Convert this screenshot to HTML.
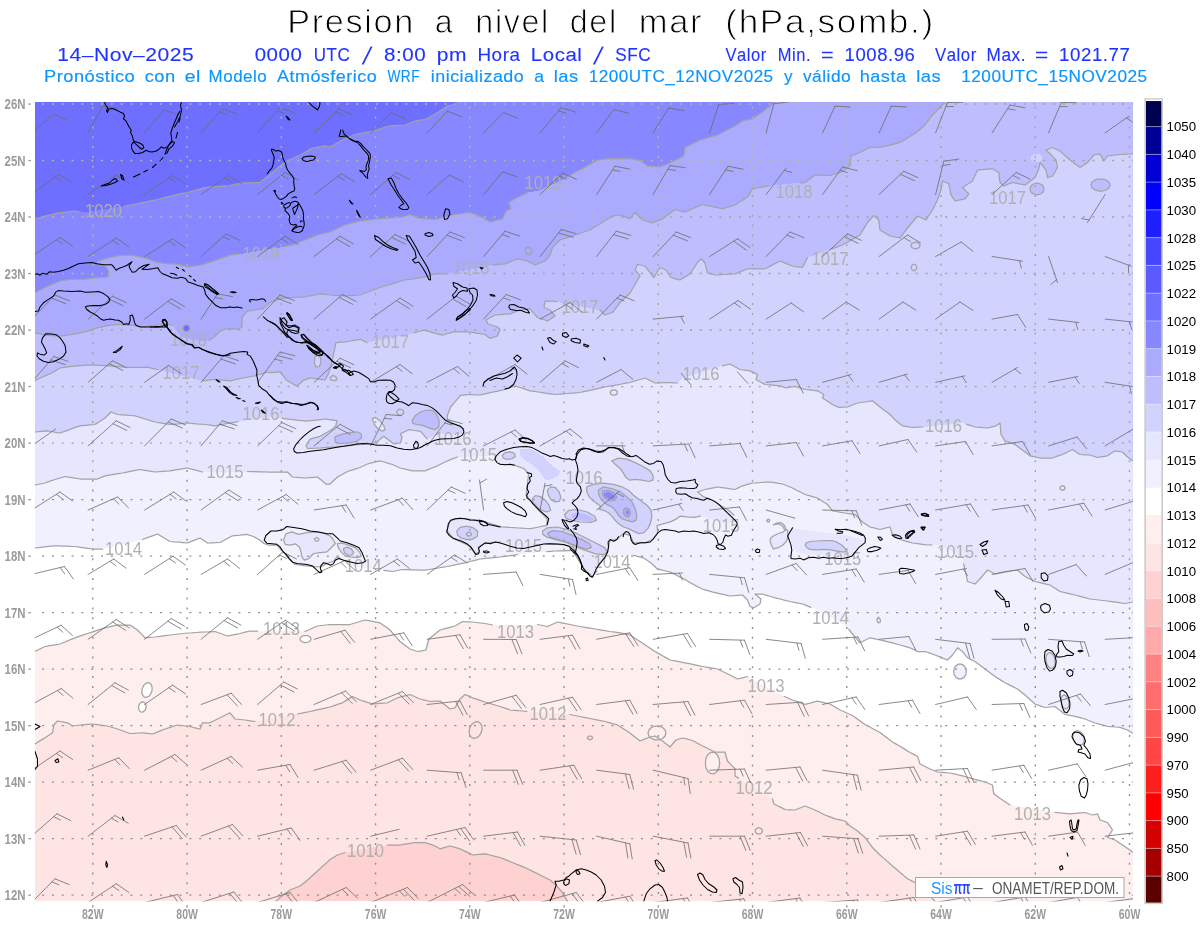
<!DOCTYPE html>
<html lang="es">
<head>
<meta charset="utf-8">
<title>Presion a nivel del mar (hPa,somb.)</title>
<style>
html,body{margin:0;padding:0;background:#fff;}
body{width:1200px;height:927px;overflow:hidden;position:relative;font-family:"Liberation Sans",sans-serif;}
svg text{font-family:"Liberation Sans",sans-serif;}
</style>
</head>
<body>
<svg width="1200" height="927" viewBox="0 0 1200 927" style="position:absolute;left:0;top:0;display:block">
<defs>
<clipPath id="cp"><rect x="34.8" y="102.0" width="1098.0" height="799.4"/></clipPath>
</defs>
<rect x="0" y="0" width="1200" height="927" fill="#fff"/>
<g clip-path="url(#cp)" shape-rendering="crispEdges">
<rect x="34.8" y="102.0" width="1098.0" height="799.4" fill="#6e6eff"/>
<polygon points="34.8,219.2 45.0,216.2 60.0,212.5 75.0,211.2 84.0,212.5 125.0,206.2 155.0,200.0 180.0,193.8 187.5,192.5 205.0,187.5 230.0,185.5 242.5,183.0 260.0,182.5 270.0,174.5 285.0,162.0 300.0,155.0 312.5,148.0 325.0,145.8 330.0,147.0 342.5,140.0 355.0,134.5 372.5,131.0 390.0,126.0 405.0,125.0 415.0,121.0 425.0,119.5 430.0,117.0 440.0,111.0 447.5,106.0 455.0,104.5 460.0,102.0 1132.8,102.0 1132.8,901.4 34.8,901.4" fill="#8787ff"/>
<polygon points="34.8,292.7 46.7,286.9 60.1,281.0 71.8,279.4 85.2,279.4 96.9,277.7 105.3,277.7 108.6,276.0 108.6,271.0 105.3,266.0 98.6,264.3 96.9,261.8 103.6,259.3 117.0,256.0 130.3,255.1 143.7,257.6 155.4,261.8 163.8,263.5 177.2,264.3 188.9,266.8 200.6,265.2 214.0,261.0 230.0,255.1 242.5,253.8 280.0,247.5 292.5,245.0 305.0,240.0 317.5,235.0 330.0,232.0 345.0,225.0 360.0,221.0 380.0,218.8 402.5,217.0 410.0,214.5 417.5,218.0 435.0,219.5 455.0,214.5 470.0,212.5 482.5,217.5 490.0,222.0 502.5,218.8 506.0,211.0 511.0,208.8 509.0,202.5 515.0,198.8 527.5,192.5 537.5,191.0 562.5,180.0 575.0,172.5 587.5,166.0 597.5,160.0 607.5,158.8 630.0,158.8 640.0,160.5 647.5,166.0 660.0,167.0 670.0,163.0 683.8,156.0 685.0,147.5 700.0,140.0 717.5,135.0 735.0,126.0 742.5,121.0 752.5,118.8 760.0,113.8 770.0,106.0 775.0,102.0 1132.8,102.0 1132.8,901.4 34.8,901.4" fill="#aaaaff"/>
<polygon points="34.8,332.9 46.7,335.4 60.1,336.2 71.8,334.5 85.2,332.0 96.9,327.9 108.6,325.4 120.3,324.5 133.7,325.4 143.7,327.0 155.4,325.4 165.5,323.7 172.1,325.4 177.2,331.2 183.0,338.0 200.0,341.0 208.9,340.4 214.0,337.0 219.0,332.0 224.0,329.5 230.0,328.7 237.5,329.5 242.0,327.0 242.0,317.5 247.5,311.0 262.5,308.8 270.0,302.5 280.0,298.8 292.5,297.5 305.0,297.0 320.0,293.8 330.0,295.0 345.0,296.0 360.0,295.0 380.0,287.5 405.0,280.0 422.5,277.5 435.0,273.8 447.5,273.8 492.5,265.0 505.0,263.8 517.5,258.8 527.5,261.0 535.0,265.0 545.0,261.0 550.0,255.0 552.5,247.5 560.0,240.0 572.5,236.0 590.0,230.0 600.0,223.8 612.5,216.0 620.0,215.0 630.0,218.8 635.0,212.5 642.5,220.0 652.5,223.0 662.5,218.8 675.0,209.5 685.0,212.0 702.5,204.5 722.5,208.8 735.0,205.0 747.5,197.0 752.5,188.8 770.0,185.5 805.0,182.5 815.0,175.0 830.0,175.5 840.0,172.5 850.0,166.0 851.0,156.0 860.0,152.5 870.0,147.5 882.5,147.0 900.0,142.5 915.0,133.5 925.0,125.0 932.5,115.0 940.0,107.5 945.0,102.0 1132.8,102.0 1132.8,901.4 34.8,901.4" fill="#bebeff"/>
<polygon points="34.8,380.8 45.0,375.8 51.7,373.0 60.1,368.0 71.8,366.3 85.2,365.2 96.9,365.2 110.3,365.8 123.6,367.2 137.0,367.5 147.1,367.2 157.5,369.5 202.5,380.8 215.0,379.5 230.0,380.8 242.5,378.0 255.0,375.8 267.5,372.0 270.0,372.7 280.0,371.9 286.7,380.3 296.8,386.1 303.4,380.3 310.0,377.8 325.0,380.0 328.5,373.6 331.0,365.0 334.4,350.2 336.0,342.6 345.3,341.8 360.3,339.3 367.0,342.6 408.8,334.3 423.8,330.1 442.2,335.1 454.0,331.8 470.0,332.0 485.0,334.5 490.0,338.3 497.5,335.8 500.0,329.5 497.5,327.0 488.0,324.0 486.0,320.0 495.0,315.0 510.0,313.8 520.0,310.0 530.0,308.8 537.5,317.5 547.5,321.0 555.0,316.0 550.0,310.0 544.0,307.5 545.0,301.0 552.5,301.0 600.0,310.0 605.0,315.0 612.5,312.5 620.0,302.5 630.0,293.0 640.0,276.0 635.0,270.0 637.5,264.5 645.0,266.0 653.8,277.5 660.0,267.5 666.0,270.0 671.0,277.5 680.0,280.0 690.0,273.8 697.5,262.5 701.0,258.8 705.0,263.0 707.5,273.0 715.0,275.0 735.0,273.8 747.5,268.8 765.0,268.8 780.0,261.0 792.5,266.0 802.5,267.5 807.5,257.5 842.5,245.0 860.0,235.0 867.5,222.5 873.8,215.5 878.8,220.0 880.0,230.0 890.0,236.0 900.0,238.0 907.5,228.0 917.5,216.0 926.0,220.0 932.5,210.0 937.5,200.0 941.0,190.0 942.5,181.0 948.8,183.8 951.0,195.0 955.0,201.0 965.0,198.8 968.8,193.8 962.5,187.5 972.5,181.0 977.5,170.0 992.5,168.8 998.8,172.5 1000.0,182.5 1003.8,186.0 1012.5,182.5 1025.0,185.0 1035.0,177.5 1038.8,168.8 1040.0,162.5 1046.0,170.0 1047.5,177.5 1052.5,176.0 1057.5,167.5 1056.0,160.0 1050.0,153.8 1046.0,150.0 1052.5,147.5 1060.0,151.0 1070.0,160.0 1080.0,167.5 1087.5,162.5 1093.8,155.0 1100.0,153.8 1103.8,161.0 1107.5,156.0 1120.0,154.5 1132.8,153.8 1132.8,901.4 34.8,901.4" fill="#d2d2ff"/>
<polygon points="34.8,432.0 47.5,430.8 60.0,433.0 80.0,425.8 95.0,424.5 105.0,418.0 111.0,412.0 117.5,414.5 135.0,415.8 155.0,422.0 170.0,424.5 187.5,423.0 205.0,424.5 215.0,425.8 230.0,423.0 242.5,420.8 270.0,417.0 306.8,421.2 325.2,419.0 336.9,420.7 336.0,425.4 331.9,429.6 320.2,436.3 310.1,439.1 306.0,445.5 307.6,448.5 320.2,448.0 336.9,446.8 353.6,445.2 367.0,443.8 372.0,443.8 377.0,442.0 383.7,436.3 387.0,438.8 393.7,443.8 400.4,443.0 402.1,437.1 400.4,433.8 408.8,429.6 420.5,431.3 427.2,438.8 433.9,436.3 440.0,434.0 462.3,433.8 464.0,428.8 454.0,423.7 447.3,419.6 447.3,415.4 450.6,407.0 460.6,395.3 470.0,394.5 480.0,395.0 505.0,389.5 515.0,385.8 530.0,390.8 555.0,394.5 580.0,392.5 605.0,387.0 630.0,382.5 640.0,379.5 645.0,378.0 655.0,383.0 667.5,382.5 677.5,383.0 682.5,378.0 722.5,365.8 730.0,364.0 740.0,369.5 750.0,370.8 757.5,374.5 756.0,379.5 765.0,384.5 780.0,385.8 786.0,388.0 795.0,386.5 805.0,389.5 817.5,390.8 823.8,394.5 822.5,398.0 832.5,404.5 838.8,407.5 847.5,407.0 857.5,403.0 865.0,402.0 872.5,400.8 880.0,407.0 890.0,414.5 896.0,420.8 902.5,425.8 912.5,427.5 922.5,427.0 962.5,423.0 975.0,427.0 987.5,428.0 996.0,425.8 1000.0,423.0 1001.0,434.5 1005.0,440.8 1015.0,444.5 1025.0,452.0 1030.0,455.8 1040.0,458.0 1052.5,458.0 1062.5,454.5 1072.5,449.5 1080.0,454.5 1090.0,455.0 1097.5,457.5 1107.5,455.8 1115.0,450.8 1122.5,452.0 1127.5,457.0 1132.8,461.0 1132.8,901.4 34.8,901.4" fill="#e6e6ff"/>
<polygon points="34.8,485.0 45.0,483.0 55.0,479.5 65.0,476.5 80.0,479.0 97.5,479.0 105.0,475.8 122.5,473.0 140.0,469.5 155.0,472.0 170.0,470.8 187.5,468.0 202.5,472.0 247.5,471.5 267.5,472.0 287.5,472.0 292.5,477.0 305.0,478.0 317.5,477.0 326.0,484.0 330.0,484.0 337.5,477.0 347.5,471.5 360.0,467.5 367.5,464.0 380.0,460.8 392.5,464.5 400.0,468.0 412.5,470.8 425.0,470.8 437.5,465.8 447.5,460.8 457.5,457.0 496.9,456.0 495.2,460.1 500.2,464.3 513.6,464.8 523.6,468.5 528.7,473.5 527.0,486.9 526.2,495.3 537.0,508.6 547.1,518.7 547.1,525.4 530.3,528.7 501.9,527.0 480.2,520.3 460.1,518.3 450.1,520.3 446.7,530.4 453.4,538.7 468.5,545.4 475.2,553.8 479.3,552.1 478.5,547.1 485.2,542.9 500.2,542.1 523.6,547.1 547.1,543.7 562.1,544.6 573.8,547.1 575.0,553.0 580.0,562.0 585.0,570.0 591.7,575.8 596.0,570.0 602.0,561.0 607.6,552.0 608.5,547.0 610.0,540.5 616.8,539.5 623.5,533.6 630.2,535.3 633.5,542.8 645.3,542.8 652.8,539.5 657.8,532.8 657.0,525.6 663.6,523.6 670.3,521.9 677.0,518.6 680.4,516.1 687.0,516.9 693.7,517.3 700.4,516.1 721.0,522.0 737.0,523.0 734.0,515.0 728.5,510.2 720.0,505.2 712.0,500.0 703.8,496.9 697.5,492.0 705.0,489.5 717.5,487.0 735.0,489.5 742.5,485.8 752.5,483.0 770.0,482.0 782.5,484.0 792.5,488.0 805.0,494.5 817.5,498.0 827.5,504.5 832.5,510.8 845.0,513.0 855.0,514.5 862.5,522.0 870.0,527.0 880.0,529.5 890.0,527.0 892.5,534.5 900.0,539.5 912.5,543.0 927.5,545.0 940.0,544.5 955.0,553.0 962.5,559.0 966.0,574.0 967.5,581.5 975.0,584.0 981.0,577.8 987.5,570.0 995.0,574.0 1005.0,571.5 1017.5,570.0 1025.0,576.5 1035.0,581.5 1050.0,585.0 1060.0,591.5 1075.0,595.0 1090.0,599.0 1107.5,601.0 1125.0,603.5 1132.8,602.0 1132.8,901.4 34.8,901.4" fill="#f0f0ff"/>
<polygon points="34.8,548.0 55.0,545.8 75.0,546.5 92.5,549.0 102.5,549.0 142.5,539.5 157.5,534.0 170.0,541.5 187.5,543.0 200.0,538.0 207.5,543.0 220.0,542.5 232.5,535.8 240.0,535.2 246.7,534.3 253.4,536.5 260.0,540.2 264.0,543.5 268.4,545.2 276.8,545.0 280.0,548.5 284.3,553.0 290.0,560.0 295.2,564.4 303.5,565.6 313.6,566.6 320.3,566.9 327.0,563.6 333.6,561.0 337.0,556.9 340.3,558.6 343.7,561.9 350.0,566.0 383.8,570.3 392.5,571.5 402.5,569.5 425.0,570.2 447.5,566.5 465.0,562.8 480.0,559.0 500.0,557.0 530.0,553.0 555.0,551.0 572.0,550.5 576.0,556.0 581.0,564.0 586.0,571.5 591.7,577.3 597.0,571.0 602.5,562.0 608.5,555.4 625.2,555.4 633.5,555.4 643.6,557.9 652.0,563.7 657.0,568.8 670.3,572.1 683.7,578.8 693.7,584.6 703.8,589.7 720.5,593.8 730.0,596.0 742.5,595.0 747.5,600.0 750.0,606.5 753.8,607.8 760.0,604.0 761.0,599.0 755.0,594.0 762.5,594.0 775.0,597.8 790.0,601.5 802.5,604.0 815.0,609.0 845.0,625.0 852.5,634.0 860.0,642.8 870.0,637.8 880.0,640.0 892.5,642.8 900.0,645.0 910.0,647.8 917.5,651.5 925.0,651.5 935.0,655.0 947.5,660.0 952.5,655.0 957.5,647.8 962.5,651.5 967.5,657.8 975.0,661.5 985.0,669.0 995.0,676.5 1005.0,682.8 1017.5,689.0 1025.0,695.0 1035.0,704.0 1045.0,707.5 1055.0,706.5 1065.0,714.5 1075.0,716.3 1085.0,719.0 1095.0,723.0 1107.5,726.3 1120.0,727.4 1127.5,730.0 1132.8,733.3 1132.8,901.4 34.8,901.4" fill="#ffffff"/>
<polygon points="34.8,651.5 45.0,646.5 60.0,644.0 75.0,637.8 87.5,633.5 105.0,627.8 117.5,625.0 130.0,625.0 137.5,630.0 145.0,637.8 155.0,637.0 170.0,635.0 187.5,633.0 205.0,632.0 215.0,631.5 227.5,636.0 240.0,633.5 250.0,631.0 257.5,631.0 305.0,631.5 317.5,626.0 330.0,624.5 350.0,624.5 365.0,620.0 380.0,622.8 390.0,630.0 400.0,641.5 410.0,649.0 417.5,651.5 426.0,650.0 428.8,639.0 440.0,630.0 455.0,626.0 462.5,621.5 472.5,622.0 485.0,623.5 492.5,625.0 537.5,624.5 547.5,626.5 557.5,622.0 570.0,624.5 580.0,626.5 595.0,629.0 610.0,631.5 620.0,632.8 630.0,635.0 640.0,641.5 655.0,651.5 670.0,660.0 685.0,662.8 702.5,666.5 717.5,669.0 730.0,675.0 737.5,679.0 747.5,676.5 780.0,694.5 792.5,700.0 805.0,704.3 817.5,701.2 830.0,704.0 840.0,710.0 852.5,715.5 865.0,724.5 880.0,732.5 892.5,742.0 900.0,746.3 910.0,752.5 917.5,756.3 920.0,764.0 930.0,769.0 937.5,772.0 950.0,773.0 962.5,775.8 975.0,779.4 985.0,782.0 992.5,785.0 993.8,793.8 1002.5,800.0 1010.0,805.0 1055.0,812.5 1070.0,813.8 1085.0,812.5 1092.5,815.0 1097.5,813.8 1100.0,820.0 1107.5,822.5 1112.5,830.0 1107.5,837.5 1115.0,840.0 1122.5,845.0 1130.0,850.0 1132.8,852.5 1132.8,901.4 34.8,901.4" fill="#ffeeee"/>
<polygon points="34.8,744.0 45.0,737.8 52.5,732.8 53.8,725.0 57.5,721.0 67.5,722.8 72.5,726.0 80.0,725.0 92.5,724.0 107.5,726.0 117.5,729.0 130.0,733.5 142.5,732.8 152.5,734.0 165.0,729.0 177.5,725.0 190.0,726.5 200.0,729.0 202.5,722.8 210.0,722.8 220.0,717.8 230.0,712.8 235.0,719.0 245.0,720.0 255.0,721.5 297.5,714.0 310.0,711.5 330.0,707.0 342.5,702.8 352.5,696.5 360.0,700.0 372.5,704.0 387.5,702.8 397.5,697.8 410.0,694.5 420.0,699.0 430.0,701.5 440.0,701.0 450.0,709.0 455.0,707.8 460.0,699.0 465.0,694.5 472.5,697.8 485.0,702.0 500.0,706.5 510.0,710.0 522.5,711.0 570.0,714.5 580.0,716.5 592.5,719.0 605.0,721.5 617.5,725.0 630.0,733.0 640.0,741.0 648.8,737.5 655.0,736.0 662.5,741.0 670.0,747.0 676.0,740.0 682.5,738.0 692.5,740.5 702.5,746.0 715.0,752.0 725.0,752.0 727.5,761.0 735.0,768.8 735.0,776.0 766.0,795.0 772.5,798.8 773.8,803.8 785.0,809.5 795.0,810.0 805.0,806.0 815.0,810.0 825.0,815.0 835.0,818.8 845.0,821.0 850.0,826.0 857.5,831.0 865.0,837.5 872.5,847.5 880.0,855.0 890.0,863.8 900.0,872.5 907.5,878.8 915.0,882.5 925.0,890.0 935.0,901.4 34.8,901.4" fill="#ffe4e4"/>
<polygon points="276.0,901.4 280.0,897.5 290.0,890.0 300.0,886.0 307.5,880.0 317.5,871.0 330.0,859.5 337.5,855.0 345.0,852.5 387.5,845.0 400.0,845.0 415.0,842.5 425.0,842.5 435.0,846.0 440.0,848.8 450.0,846.0 460.0,848.8 472.5,855.0 485.0,853.8 500.0,857.5 512.5,862.5 527.5,868.8 540.0,875.0 550.0,880.0 556.0,885.0 562.5,892.5 567.5,901.4" fill="#ffd2d2"/>
<polygon points="412.1,420.4 415.5,415.4 420.5,412.0 427.2,410.0 433.0,410.7 437.2,415.4 439.2,421.2 438.9,427.1 434.7,429.6 428.9,427.9 423.0,425.4 417.2,424.6 413.0,423.4" fill="#bebeff"/>
<polygon points="334.9,437.1 340.2,434.6 348.6,432.9 357.0,431.8 361.1,433.8 361.6,438.0 357.0,441.3 348.6,443.0 340.2,443.5 335.2,442.1" fill="#bebeff"/>
<polygon points="372.3,418.7 375.4,417.4 379.5,420.4 383.7,425.4 385.1,429.6 382.0,431.3 377.9,428.8 374.5,424.6" fill="#e6e6ff"/>
<polygon points="314.8,356.9 317.7,355.2 320.5,357.7 321.0,362.7 319.3,366.6 316.0,366.9 314.3,362.7" fill="#d2d2ff"/>
<polygon points="189.8,328.2 189.5,329.7 188.5,330.9 187.2,331.5 185.6,331.5 184.3,330.9 183.3,329.7 183.0,328.2 183.3,326.7 184.3,325.5 185.6,324.9 187.2,324.9 188.5,325.5 189.5,326.7" fill="#6e6eff"/>
<polygon points="520.3,449.3 530.3,448.4 538.7,453.4 547.1,460.1 553.7,466.8 560.4,471.8 557.1,476.9 550.4,479.4 545.4,480.2 542.0,475.2 537.0,468.5 530.3,463.5 523.6,459.3 520.3,455.1" fill="#d2d2ff"/>
<polygon points="502.2,455.5 505.3,452.6 510.3,451.8 514.4,453.4 515.3,456.5 511.9,458.8 506.9,459.3 503.2,458.1" fill="#d2d2ff"/>
<polygon points="547.4,490.2 550.4,486.9 555.4,487.7 559.1,491.9 560.8,496.9 559.6,501.1 555.4,501.9 551.2,499.9 548.4,495.3" fill="#d2d2ff"/>
<polygon points="532.3,498.6 535.4,495.6 540.4,496.6 545.4,500.3 549.1,505.3 550.7,510.3 547.1,512.0 542.0,510.3 537.0,507.0 533.3,502.8" fill="#d2d2ff"/>
<polygon points="456.8,531.2 460.1,527.4 466.8,526.2 473.5,527.9 477.7,531.2 477.2,536.2 472.6,539.1 466.8,539.6 460.9,537.9 457.6,535.1" fill="#d2d2ff"/>
<polygon points="542.4,531.2 547.1,527.9 557.1,527.0 567.1,529.5 577.2,533.7 587.2,538.7 597.2,543.7 604.7,547.9 607.3,552.1 603.9,554.6 595.6,553.8 585.5,550.4 575.5,546.3 565.5,542.1 555.4,539.6 547.1,537.1 542.9,534.5" fill="#d2d2ff"/>
<polygon points="547.4,533.4 552.1,530.7 562.1,531.7 572.1,535.4 582.2,539.6 589.7,543.7 591.4,547.4 587.2,549.1 578.8,547.1 568.8,542.9 558.8,539.6 550.4,537.1" fill="#bebeff"/>
<polygon points="564.6,514.5 568.8,510.3 577.2,509.5 587.2,512.0 594.7,516.2 596.4,520.3 590.5,522.3 580.5,522.0 572.1,520.3 566.3,518.7" fill="#d2d2ff"/>
<polygon points="570.5,515.3 575.5,512.8 583.8,513.6 592.2,517.0 594.7,520.0 588.9,521.2 580.5,520.3 573.8,519.0" fill="#bebeff"/>
<polygon points="611.8,460.9 618.5,458.1 626.9,459.2 635.2,462.6 643.6,466.8 650.3,470.9 653.3,476.0 652.8,480.1 648.6,481.5 641.9,480.1 635.2,479.3 629.4,480.1 626.0,477.6 623.5,473.4 620.2,468.4 615.2,464.2" fill="#d2d2ff"/>
<polygon points="586.7,486.8 593.4,484.3 603.4,483.1 613.5,484.3 621.8,486.8 628.5,490.2 633.5,495.2 640.2,500.2 646.9,505.2 651.1,510.2 651.9,516.9 650.3,523.6 647.8,528.6 643.6,532.8 638.6,533.6 633.5,531.1 628.5,528.6 623.5,527.0 618.5,523.6 615.2,520.3 611.8,516.1 608.5,512.7 603.4,510.2 599.3,509.4 600.9,506.9 598.4,504.4 593.4,501.0 589.2,496.9 586.7,491.8" fill="#d2d2ff"/>
<polygon points="598.4,490.2 603.4,486.8 611.8,488.5 620.2,491.8 626.9,496.9 631.9,501.9 635.2,508.6 636.9,515.3 636.1,520.3 631.9,521.9 626.9,520.3 621.8,518.6 618.5,515.3 615.2,510.2 611.8,506.9 606.8,504.4 601.8,500.2 598.8,495.2" fill="#bebeff"/>
<polygon points="602.6,491.0 608.5,490.2 614.3,492.7 616.8,496.9 615.2,500.2 610.1,501.0 605.1,498.5 602.6,495.2" fill="#aaaaff"/>
<polygon points="623.5,510.2 626.0,507.7 629.4,509.4 630.5,513.6 628.5,516.9 625.5,516.1 623.8,513.6" fill="#aaaaff"/>
<polygon points="603.4,492.7 609.3,492.2 613.8,494.8 615.2,497.7 611.8,499.4 606.8,498.2 603.9,495.5" fill="#8787ff"/>
<polygon points="626.0,511.1 628.2,510.2 629.4,513.2 627.7,515.3 626.0,513.6" fill="#8787ff"/>
<polygon points="791.8,528.5 800.2,529.3 810.2,531.0 820.2,531.8 830.3,533.2 840.3,534.3 850.3,536.0 858.7,538.5 863.7,541.0 862.0,545.2 857.0,550.2 852.0,555.3 843.6,556.9 833.6,556.6 823.6,555.3 813.5,554.4 803.5,553.6 796.8,551.9 792.6,546.9 791.0,540.2 789.3,535.2" fill="#e6e6ff"/>
<polygon points="806.0,543.2 810.2,541.5 816.9,541.0 825.3,540.5 831.9,540.5 837.0,542.2 842.0,545.2 845.3,548.6 847.0,551.1 843.6,552.2 837.0,551.1 830.3,549.9 823.6,549.4 816.9,549.9 810.2,549.4 806.9,547.7 805.2,545.2" fill="#d2d2ff"/>
<polygon points="770.4,538.5 773.4,536.0 778.4,533.5 783.4,531.8 786.0,529.3 784.3,525.2 780.9,522.6 776.8,523.1 773.4,524.8 778.4,523.8 782.6,526.0 784.3,529.3 787.6,530.2 788.1,536.9 786.0,541.9 782.6,545.2 778.4,547.7 773.4,548.9 771.4,545.2 770.1,541.0" fill="#e6e6ff"/>
<polygon points="283.5,540.2 286.0,533.8 291.8,531.8 298.5,534.3 306.9,532.6 315.3,531.8 323.6,533.1 330.3,536.0 333.6,540.2 335.3,543.5 331.1,547.7 327.0,551.9 320.3,552.7 313.6,553.5 308.6,558.6 304.4,560.2 301.9,556.9 301.0,551.9 299.4,546.9 295.2,543.8 290.2,545.2 285.2,544.3" fill="#e6e6ff"/>
<polygon points="337.3,543.5 342.0,543.2 348.7,545.2 355.4,547.7 359.6,551.9 361.2,556.1 357.1,557.7 350.4,556.9 345.4,556.1 341.2,551.9 338.3,547.7" fill="#e6e6ff"/>
<polygon points="343.3,548.5 347.0,547.2 351.2,548.9 353.7,552.2 352.0,554.9 347.9,555.2 344.5,552.7" fill="#d2d2ff"/>
<polygon points="1044.0,189.0 1043.3,191.5 1041.4,193.5 1038.6,194.7 1035.4,194.7 1032.6,193.5 1030.7,191.5 1030.0,189.0 1030.7,186.5 1032.6,184.5 1035.4,183.3 1038.6,183.3 1041.4,184.5 1043.3,186.5" fill="#bebeff"/>
<polygon points="1110.0,185.0 1109.1,187.7 1106.4,189.8 1102.6,191.0 1098.4,191.0 1094.6,189.8 1091.9,187.7 1091.0,185.0 1091.9,182.3 1094.6,180.2 1098.4,179.0 1102.6,179.0 1106.4,180.2 1109.1,182.3" fill="#bebeff"/>
<polygon points="1042.0,158.0 1041.5,160.0 1039.9,161.5 1037.7,162.4 1035.3,162.4 1033.1,161.5 1031.5,160.0 1031.0,158.0 1031.5,156.0 1033.1,154.5 1035.3,153.6 1037.7,153.6 1039.9,154.5 1041.5,156.0" fill="#d2d2ff"/>
<polygon points="151.8,691.3 150.5,694.3 148.5,696.5 146.2,697.4 144.0,696.8 142.5,694.9 141.8,692.0 142.2,688.7 143.5,685.7 145.5,683.5 147.8,682.6 150.0,683.2 151.5,685.1 152.2,688.0" fill="#ffffff"/>
<polygon points="146.0,707.7 145.3,709.8 143.9,711.4 142.3,712.1 140.6,711.8 139.3,710.6 138.5,708.6 138.6,706.3 139.3,704.2 140.7,702.6 142.3,701.9 144.0,702.2 145.3,703.4 146.1,705.4" fill="#ffffff"/>
<polygon points="311.0,639.0 310.5,640.6 308.9,641.8 306.7,642.5 304.3,642.5 302.1,641.8 300.5,640.6 300.0,639.0 300.5,637.4 302.1,636.2 304.3,635.5 306.7,635.5 308.9,636.2 310.5,637.4" fill="#ffffff"/>
<polygon points="966.3,671.5 965.7,674.8 963.9,677.4 961.4,678.9 958.6,678.9 956.1,677.4 954.3,674.8 953.7,671.5 954.3,668.2 956.1,665.6 958.6,664.1 961.4,664.1 963.9,665.6 965.7,668.2" fill="#f0f0ff"/>
<polygon points="719.7,763.0 719.0,767.8 717.0,771.6 714.1,773.7 710.9,773.7 708.0,771.6 706.0,767.8 705.3,763.0 706.0,758.2 708.0,754.4 710.9,752.3 714.1,752.3 717.0,754.4 719.0,758.2" fill="#ffeeee"/>
<polygon points="891.0,632.0 890.5,634.0 889.1,635.5 887.1,636.4 884.9,636.4 882.9,635.5 881.5,634.0 881.0,632.0 881.5,630.0 882.9,628.5 884.9,627.6 887.1,627.6 889.1,628.5 890.5,630.0" fill="#f0f0ff"/>
<polygon points="1054.9,659.7 1055.1,663.2 1054.3,666.2 1052.8,668.0 1050.9,668.4 1048.8,667.1 1047.1,664.6 1046.1,661.3 1045.9,657.8 1046.7,654.8 1048.2,653.0 1050.1,652.6 1052.2,653.9 1053.9,656.4" fill="#e6e6ff"/>
<polygon points="1068.7,701.3 1068.9,704.4 1068.3,707.0 1067.0,708.6 1065.4,708.9 1063.6,707.8 1062.2,705.6 1061.3,702.7 1061.1,699.6 1061.7,697.0 1063.0,695.4 1064.6,695.1 1066.4,696.2 1067.8,698.4" fill="#e6e6ff"/>
<polygon points="1083.7,736.1 1084.3,739.4 1083.7,742.3 1082.2,744.5 1079.9,745.3 1077.3,744.7 1075.0,742.8 1073.3,739.9 1072.7,736.6 1073.3,733.7 1074.8,731.5 1077.1,730.7 1079.7,731.3 1082.0,733.2" fill="#f0f0ff"/>
</g>
<clipPath id="gA"><path d="M34.8 332.9 L46.7 335.4 L60.1 336.2 L71.8 334.5 L85.2 332.0 L96.9 327.9 L108.6 325.4 L120.3 324.5 L133.7 325.4 L143.7 327.0 L155.4 325.4 L165.5 323.7 L172.1 325.4 L177.2 331.2 L183.0 338.0 L200.0 341.0 L208.9 340.4 L214.0 337.0 L219.0 332.0 L224.0 329.5 L230.0 328.7 L237.5 329.5 L242.0 327.0 L242.0 317.5 L247.5 311.0 L262.5 308.8 L270.0 302.5 L280.0 298.8 L292.5 297.5 L305.0 297.0 L320.0 293.8 L330.0 295.0 L345.0 296.0 L360.0 295.0 L380.0 287.5 L405.0 280.0 L422.5 277.5 L435.0 273.8 L447.5 273.8 L492.5 265.0 L505.0 263.8 L517.5 258.8 L527.5 261.0 L535.0 265.0 L545.0 261.0 L550.0 255.0 L552.5 247.5 L560.0 240.0 L572.5 236.0 L590.0 230.0 L600.0 223.8 L612.5 216.0 L620.0 215.0 L630.0 218.8 L635.0 212.5 L642.5 220.0 L652.5 223.0 L662.5 218.8 L675.0 209.5 L685.0 212.0 L702.5 204.5 L722.5 208.8 L735.0 205.0 L747.5 197.0 L752.5 188.8 L770.0 185.5 L805.0 182.5 L815.0 175.0 L830.0 175.5 L840.0 172.5 L850.0 166.0 L851.0 156.0 L860.0 152.5 L870.0 147.5 L882.5 147.0 L900.0 142.5 L915.0 133.5 L925.0 125.0 L932.5 115.0 L940.0 107.5 L945.0 102.0 L34.8 102.0Z"/></clipPath>
<clipPath id="gB"><path d="M34.8 485.0 L45.0 483.0 L55.0 479.5 L65.0 476.5 L80.0 479.0 L97.5 479.0 L105.0 475.8 L122.5 473.0 L140.0 469.5 L155.0 472.0 L170.0 470.8 L187.5 468.0 L202.5 472.0 L247.5 471.5 L267.5 472.0 L287.5 472.0 L292.5 477.0 L305.0 478.0 L317.5 477.0 L326.0 484.0 L330.0 484.0 L337.5 477.0 L347.5 471.5 L360.0 467.5 L367.5 464.0 L380.0 460.8 L392.5 464.5 L400.0 468.0 L412.5 470.8 L425.0 470.8 L437.5 465.8 L447.5 460.8 L457.5 457.0 L496.9 456.0 L495.2 460.1 L500.2 464.3 L513.6 464.8 L523.6 468.5 L528.7 473.5 L527.0 486.9 L526.2 495.3 L537.0 508.6 L547.1 518.7 L547.1 525.4 L530.3 528.7 L501.9 527.0 L480.2 520.3 L460.1 518.3 L450.1 520.3 L446.7 530.4 L453.4 538.7 L468.5 545.4 L475.2 553.8 L479.3 552.1 L478.5 547.1 L485.2 542.9 L500.2 542.1 L523.6 547.1 L547.1 543.7 L562.1 544.6 L573.8 547.1 L575.0 553.0 L580.0 562.0 L585.0 570.0 L591.7 575.8 L596.0 570.0 L602.0 561.0 L607.6 552.0 L608.5 547.0 L610.0 540.5 L616.8 539.5 L623.5 533.6 L630.2 535.3 L633.5 542.8 L645.3 542.8 L652.8 539.5 L657.8 532.8 L657.0 525.6 L663.6 523.6 L670.3 521.9 L677.0 518.6 L680.4 516.1 L687.0 516.9 L693.7 517.3 L700.4 516.1 L721.0 522.0 L737.0 523.0 L734.0 515.0 L728.5 510.2 L720.0 505.2 L712.0 500.0 L703.8 496.9 L697.5 492.0 L705.0 489.5 L717.5 487.0 L735.0 489.5 L742.5 485.8 L752.5 483.0 L770.0 482.0 L782.5 484.0 L792.5 488.0 L805.0 494.5 L817.5 498.0 L827.5 504.5 L832.5 510.8 L845.0 513.0 L855.0 514.5 L862.5 522.0 L870.0 527.0 L880.0 529.5 L890.0 527.0 L892.5 534.5 L900.0 539.5 L912.5 543.0 L927.5 545.0 L940.0 544.5 L955.0 553.0 L962.5 559.0 L966.0 574.0 L967.5 581.5 L975.0 584.0 L981.0 577.8 L987.5 570.0 L995.0 574.0 L1005.0 571.5 L1017.5 570.0 L1025.0 576.5 L1035.0 581.5 L1050.0 585.0 L1060.0 591.5 L1075.0 595.0 L1090.0 599.0 L1107.5 601.0 L1125.0 603.5 L1132.8 602.0 L1132.8 102.0 L34.8 102.0Z M34.8 102.0 L945.0 102.0 L940.0 107.5 L932.5 115.0 L925.0 125.0 L915.0 133.5 L900.0 142.5 L882.5 147.0 L870.0 147.5 L860.0 152.5 L851.0 156.0 L850.0 166.0 L840.0 172.5 L830.0 175.5 L815.0 175.0 L805.0 182.5 L770.0 185.5 L752.5 188.8 L747.5 197.0 L735.0 205.0 L722.5 208.8 L702.5 204.5 L685.0 212.0 L675.0 209.5 L662.5 218.8 L652.5 223.0 L642.5 220.0 L635.0 212.5 L630.0 218.8 L620.0 215.0 L612.5 216.0 L600.0 223.8 L590.0 230.0 L572.5 236.0 L560.0 240.0 L552.5 247.5 L550.0 255.0 L545.0 261.0 L535.0 265.0 L527.5 261.0 L517.5 258.8 L505.0 263.8 L492.5 265.0 L447.5 273.8 L435.0 273.8 L422.5 277.5 L405.0 280.0 L380.0 287.5 L360.0 295.0 L345.0 296.0 L330.0 295.0 L320.0 293.8 L305.0 297.0 L292.5 297.5 L280.0 298.8 L270.0 302.5 L262.5 308.8 L247.5 311.0 L242.0 317.5 L242.0 327.0 L237.5 329.5 L230.0 328.7 L224.0 329.5 L219.0 332.0 L214.0 337.0 L208.9 340.4 L200.0 341.0 L183.0 338.0 L177.2 331.2 L172.1 325.4 L165.5 323.7 L155.4 325.4 L143.7 327.0 L133.7 325.4 L120.3 324.5 L108.6 325.4 L96.9 327.9 L85.2 332.0 L71.8 334.5 L60.1 336.2 L46.7 335.4 L34.8 332.9Z" clip-rule="evenodd"/></clipPath>
<clipPath id="gC"><path d="M34.8 485.0 L45.0 483.0 L55.0 479.5 L65.0 476.5 L80.0 479.0 L97.5 479.0 L105.0 475.8 L122.5 473.0 L140.0 469.5 L155.0 472.0 L170.0 470.8 L187.5 468.0 L202.5 472.0 L247.5 471.5 L267.5 472.0 L287.5 472.0 L292.5 477.0 L305.0 478.0 L317.5 477.0 L326.0 484.0 L330.0 484.0 L337.5 477.0 L347.5 471.5 L360.0 467.5 L367.5 464.0 L380.0 460.8 L392.5 464.5 L400.0 468.0 L412.5 470.8 L425.0 470.8 L437.5 465.8 L447.5 460.8 L457.5 457.0 L496.9 456.0 L495.2 460.1 L500.2 464.3 L513.6 464.8 L523.6 468.5 L528.7 473.5 L527.0 486.9 L526.2 495.3 L537.0 508.6 L547.1 518.7 L547.1 525.4 L530.3 528.7 L501.9 527.0 L480.2 520.3 L460.1 518.3 L450.1 520.3 L446.7 530.4 L453.4 538.7 L468.5 545.4 L475.2 553.8 L479.3 552.1 L478.5 547.1 L485.2 542.9 L500.2 542.1 L523.6 547.1 L547.1 543.7 L562.1 544.6 L573.8 547.1 L575.0 553.0 L580.0 562.0 L585.0 570.0 L591.7 575.8 L596.0 570.0 L602.0 561.0 L607.6 552.0 L608.5 547.0 L610.0 540.5 L616.8 539.5 L623.5 533.6 L630.2 535.3 L633.5 542.8 L645.3 542.8 L652.8 539.5 L657.8 532.8 L657.0 525.6 L663.6 523.6 L670.3 521.9 L677.0 518.6 L680.4 516.1 L687.0 516.9 L693.7 517.3 L700.4 516.1 L721.0 522.0 L737.0 523.0 L734.0 515.0 L728.5 510.2 L720.0 505.2 L712.0 500.0 L703.8 496.9 L697.5 492.0 L705.0 489.5 L717.5 487.0 L735.0 489.5 L742.5 485.8 L752.5 483.0 L770.0 482.0 L782.5 484.0 L792.5 488.0 L805.0 494.5 L817.5 498.0 L827.5 504.5 L832.5 510.8 L845.0 513.0 L855.0 514.5 L862.5 522.0 L870.0 527.0 L880.0 529.5 L890.0 527.0 L892.5 534.5 L900.0 539.5 L912.5 543.0 L927.5 545.0 L940.0 544.5 L955.0 553.0 L962.5 559.0 L966.0 574.0 L967.5 581.5 L975.0 584.0 L981.0 577.8 L987.5 570.0 L995.0 574.0 L1005.0 571.5 L1017.5 570.0 L1025.0 576.5 L1035.0 581.5 L1050.0 585.0 L1060.0 591.5 L1075.0 595.0 L1090.0 599.0 L1107.5 601.0 L1125.0 603.5 L1132.8 602.0 L1132.8 901.4 L34.8 901.4Z"/></clipPath>
<g clip-path="url(#gA)" stroke="#bcb894" stroke-width="1.35" fill="none" stroke-dasharray="2 7.8164"><line x1="32.3" y1="895.1" x2="1132.8" y2="895.1"/><line x1="32.3" y1="838.6" x2="1132.8" y2="838.6"/><line x1="32.3" y1="782.1" x2="1132.8" y2="782.1"/><line x1="32.3" y1="725.6" x2="1132.8" y2="725.6"/><line x1="32.3" y1="669.1" x2="1132.8" y2="669.1"/><line x1="32.3" y1="612.6" x2="1132.8" y2="612.6"/><line x1="32.3" y1="556.1" x2="1132.8" y2="556.1"/><line x1="32.3" y1="499.6" x2="1132.8" y2="499.6"/><line x1="32.3" y1="443.1" x2="1132.8" y2="443.1"/><line x1="32.3" y1="386.6" x2="1132.8" y2="386.6"/><line x1="32.3" y1="330.0" x2="1132.8" y2="330.0"/><line x1="32.3" y1="273.5" x2="1132.8" y2="273.5"/><line x1="32.3" y1="217.0" x2="1132.8" y2="217.0"/><line x1="32.3" y1="160.5" x2="1132.8" y2="160.5"/><line x1="32.3" y1="104.0" x2="1132.8" y2="104.0"/><line x1="92.8" y1="96.95" x2="92.8" y2="901.4"/><line x1="187.1" y1="96.95" x2="187.1" y2="901.4"/><line x1="281.3" y1="96.95" x2="281.3" y2="901.4"/><line x1="375.6" y1="96.95" x2="375.6" y2="901.4"/><line x1="469.8" y1="96.95" x2="469.8" y2="901.4"/><line x1="564.0" y1="96.95" x2="564.0" y2="901.4"/><line x1="658.3" y1="96.95" x2="658.3" y2="901.4"/><line x1="752.5" y1="96.95" x2="752.5" y2="901.4"/><line x1="846.8" y1="96.95" x2="846.8" y2="901.4"/><line x1="941.0" y1="96.95" x2="941.0" y2="901.4"/><line x1="1035.3" y1="96.95" x2="1035.3" y2="901.4"/><line x1="1129.5" y1="96.95" x2="1129.5" y2="901.4"/></g>
<g clip-path="url(#gB)" stroke="#a3a396" stroke-width="1.35" fill="none" stroke-dasharray="2 7.8164"><line x1="32.3" y1="895.1" x2="1132.8" y2="895.1"/><line x1="32.3" y1="838.6" x2="1132.8" y2="838.6"/><line x1="32.3" y1="782.1" x2="1132.8" y2="782.1"/><line x1="32.3" y1="725.6" x2="1132.8" y2="725.6"/><line x1="32.3" y1="669.1" x2="1132.8" y2="669.1"/><line x1="32.3" y1="612.6" x2="1132.8" y2="612.6"/><line x1="32.3" y1="556.1" x2="1132.8" y2="556.1"/><line x1="32.3" y1="499.6" x2="1132.8" y2="499.6"/><line x1="32.3" y1="443.1" x2="1132.8" y2="443.1"/><line x1="32.3" y1="386.6" x2="1132.8" y2="386.6"/><line x1="32.3" y1="330.0" x2="1132.8" y2="330.0"/><line x1="32.3" y1="273.5" x2="1132.8" y2="273.5"/><line x1="32.3" y1="217.0" x2="1132.8" y2="217.0"/><line x1="32.3" y1="160.5" x2="1132.8" y2="160.5"/><line x1="32.3" y1="104.0" x2="1132.8" y2="104.0"/><line x1="92.8" y1="96.95" x2="92.8" y2="901.4"/><line x1="187.1" y1="96.95" x2="187.1" y2="901.4"/><line x1="281.3" y1="96.95" x2="281.3" y2="901.4"/><line x1="375.6" y1="96.95" x2="375.6" y2="901.4"/><line x1="469.8" y1="96.95" x2="469.8" y2="901.4"/><line x1="564.0" y1="96.95" x2="564.0" y2="901.4"/><line x1="658.3" y1="96.95" x2="658.3" y2="901.4"/><line x1="752.5" y1="96.95" x2="752.5" y2="901.4"/><line x1="846.8" y1="96.95" x2="846.8" y2="901.4"/><line x1="941.0" y1="96.95" x2="941.0" y2="901.4"/><line x1="1035.3" y1="96.95" x2="1035.3" y2="901.4"/><line x1="1129.5" y1="96.95" x2="1129.5" y2="901.4"/></g>
<g clip-path="url(#gC)" stroke="#8e8e8e" stroke-width="1.35" fill="none" stroke-dasharray="2 7.8164"><line x1="32.3" y1="895.1" x2="1132.8" y2="895.1"/><line x1="32.3" y1="838.6" x2="1132.8" y2="838.6"/><line x1="32.3" y1="782.1" x2="1132.8" y2="782.1"/><line x1="32.3" y1="725.6" x2="1132.8" y2="725.6"/><line x1="32.3" y1="669.1" x2="1132.8" y2="669.1"/><line x1="32.3" y1="612.6" x2="1132.8" y2="612.6"/><line x1="32.3" y1="556.1" x2="1132.8" y2="556.1"/><line x1="32.3" y1="499.6" x2="1132.8" y2="499.6"/><line x1="32.3" y1="443.1" x2="1132.8" y2="443.1"/><line x1="32.3" y1="386.6" x2="1132.8" y2="386.6"/><line x1="32.3" y1="330.0" x2="1132.8" y2="330.0"/><line x1="32.3" y1="273.5" x2="1132.8" y2="273.5"/><line x1="32.3" y1="217.0" x2="1132.8" y2="217.0"/><line x1="32.3" y1="160.5" x2="1132.8" y2="160.5"/><line x1="32.3" y1="104.0" x2="1132.8" y2="104.0"/><line x1="92.8" y1="96.95" x2="92.8" y2="901.4"/><line x1="187.1" y1="96.95" x2="187.1" y2="901.4"/><line x1="281.3" y1="96.95" x2="281.3" y2="901.4"/><line x1="375.6" y1="96.95" x2="375.6" y2="901.4"/><line x1="469.8" y1="96.95" x2="469.8" y2="901.4"/><line x1="564.0" y1="96.95" x2="564.0" y2="901.4"/><line x1="658.3" y1="96.95" x2="658.3" y2="901.4"/><line x1="752.5" y1="96.95" x2="752.5" y2="901.4"/><line x1="846.8" y1="96.95" x2="846.8" y2="901.4"/><line x1="941.0" y1="96.95" x2="941.0" y2="901.4"/><line x1="1035.3" y1="96.95" x2="1035.3" y2="901.4"/><line x1="1129.5" y1="96.95" x2="1129.5" y2="901.4"/></g>
<g clip-path="url(#cp)" stroke="#a3a3a3" stroke-width="1.25" fill="none" stroke-linejoin="round" stroke-linecap="round">
<path d="M34.8 219.2 L39.9 217.7 L45.0 216.2 L50.0 215.0 L55.0 213.7 L60.0 212.5 L65.0 212.1 L70.0 211.6 L75.0 211.2 L79.5 211.8"/>
<path d="M125.0 206.2 L129.3 205.3 L133.6 204.4 L137.9 203.5 L142.1 202.7 L146.4 201.8 L150.7 200.9 L155.0 200.0 L159.2 199.0 L163.3 197.9 L167.5 196.9 L171.7 195.9 L175.8 194.8 L180.0 193.8 L187.5 192.5 L191.9 191.2 L196.2 190.0 L200.6 188.8 L205.0 187.5 L209.2 187.2 L213.3 186.8 L217.5 186.5 L221.7 186.2 L225.8 185.8 L230.0 185.5 L234.2 184.7 L238.3 183.8 L242.5 183.0 L246.9 182.9 L251.2 182.8 L255.6 182.6 L260.0 182.5 L263.3 179.8 L266.7 177.2 L270.0 174.5 L273.8 171.4 L277.5 168.2 L281.2 165.1 L285.0 162.0 L288.8 160.2 L292.5 158.5 L296.2 156.8 L300.0 155.0 L304.2 152.7 L308.3 150.3 L312.5 148.0 L316.7 147.3 L320.8 146.5 L325.0 145.8 L330.0 147.0 L334.2 144.7 L338.3 142.3 L342.5 140.0 L346.7 138.2 L350.8 136.3 L355.0 134.5 L359.4 133.6 L363.8 132.8 L368.1 131.9 L372.5 131.0 L376.9 129.8 L381.2 128.5 L385.6 127.2 L390.0 126.0 L395.0 125.7 L400.0 125.3 L405.0 125.0 L410.0 123.0 L415.0 121.0 L420.0 120.2 L425.0 119.5 L430.0 117.0 L435.0 114.0 L440.0 111.0 L443.8 108.5 L447.5 106.0 L455.0 104.5 L460.0 102.0"/>
<path d="M34.8 292.7 L38.8 290.8 L42.7 288.8 L46.7 286.9 L51.2 284.9 L55.6 283.0 L60.1 281.0 L66.0 280.2 L71.8 279.4 L76.3 279.4 L80.7 279.4 L85.2 279.4 L91.1 278.5 L96.9 277.7 L101.1 277.7 L105.3 277.7 L108.6 276.0 L108.6 271.0 L105.3 266.0 L98.6 264.3 L96.9 261.8 L103.6 259.3 L108.1 258.2 L112.5 257.1 L117.0 256.0 L121.4 255.7 L125.9 255.4 L130.3 255.1 L134.8 255.9 L139.2 256.8 L143.7 257.6 L147.6 259.0 L151.5 260.4 L155.4 261.8 L159.6 262.6 L163.8 263.5 L168.3 263.8 L172.7 264.0 L177.2 264.3 L183.1 265.6 L188.9 266.8 L194.8 266.0 L200.6 265.2 L205.1 263.8 L209.5 262.4 L214.0 261.0 L218.0 259.5 L222.0 258.1 L226.0 256.6 L230.0 255.1 L234.2 254.7 L238.3 254.2"/>
<path d="M284.2 246.7 L288.3 245.8 L292.5 245.0 L296.7 243.3 L300.8 241.7 L305.0 240.0 L309.2 238.3 L313.3 236.7 L317.5 235.0 L321.7 234.0 L325.8 233.0 L330.0 232.0 L333.8 230.2 L337.5 228.5 L341.2 226.8 L345.0 225.0 L350.0 223.7 L355.0 222.3 L360.0 221.0 L364.0 220.6 L368.0 220.1 L372.0 219.7 L376.0 219.2 L380.0 218.8 L384.5 218.4 L389.0 218.1 L393.5 217.7 L398.0 217.4 L402.5 217.0 L410.0 214.5 L413.8 216.2 L417.5 218.0 L421.9 218.4 L426.2 218.8 L430.6 219.1 L435.0 219.5 L439.0 218.5 L443.0 217.5 L447.0 216.5 L451.0 215.5 L455.0 214.5 L460.0 213.8 L465.0 213.2 L470.0 212.5 L474.2 214.2 L478.3 215.8 L482.5 217.5 L486.2 219.8 L490.0 222.0 L494.2 220.9 L498.3 219.9 L502.5 218.8 L504.2 214.9 L506.0 211.0 L511.0 208.8 L509.0 202.5 L515.0 198.8 L519.2 196.7 L523.3 194.6 L527.5 192.5"/>
<path d="M566.7 177.5 L570.8 175.0 L575.0 172.5 L579.2 170.3 L583.3 168.2 L587.5 166.0 L592.5 163.0 L597.5 160.0 L602.5 159.4 L607.5 158.8 L612.0 158.8 L616.5 158.8 L621.0 158.8 L625.5 158.8 L630.0 158.8 L635.0 159.7 L640.0 160.5 L643.8 163.2 L647.5 166.0 L651.7 166.3 L655.8 166.7 L660.0 167.0 L665.0 165.0 L670.0 163.0 L674.6 160.7 L679.2 158.3 L683.8 156.0 L684.4 151.8 L685.0 147.5 L688.8 145.6 L692.5 143.8 L696.2 141.9 L700.0 140.0 L704.4 138.8 L708.8 137.5 L713.1 136.2 L717.5 135.0 L721.9 132.8 L726.2 130.5 L730.6 128.2 L735.0 126.0 L738.8 123.5 L742.5 121.0 L747.5 119.9 L752.5 118.8 L756.2 116.3 L760.0 113.8 L763.3 111.2 L766.7 108.6 L770.0 106.0 L775.0 102.0"/>
<path d="M34.8 332.9 L38.8 333.7 L42.7 334.6 L46.7 335.4 L51.2 335.7 L55.6 335.9 L60.1 336.2 L66.0 335.4 L71.8 334.5 L76.3 333.7 L80.7 332.8 L85.2 332.0 L89.1 330.6 L93.0 329.3 L96.9 327.9 L102.8 326.6 L108.6 325.4 L114.4 324.9 L120.3 324.5 L124.8 324.8 L129.2 325.1 L133.7 325.4 L138.7 326.2 L143.7 327.0 L149.6 326.2 L155.4 325.4 L160.4 324.5 L165.5 323.7 L172.1 325.4"/>
<path d="M208.9 340.4 L214.0 337.0 L219.0 332.0 L224.0 329.5 L230.0 328.7 L237.5 329.5 L242.0 327.0 L242.0 322.2 L242.0 317.5 L244.8 314.2 L247.5 311.0 L252.5 310.3 L257.5 309.5 L262.5 308.8 L266.2 305.6 L270.0 302.5 L275.0 300.6 L280.0 298.8 L284.2 298.4 L288.3 297.9 L292.5 297.5 L296.7 297.3 L300.8 297.2 L305.0 297.0 L310.0 295.9 L315.0 294.9 L320.0 293.8 L325.0 294.4 L330.0 295.0 L335.0 295.3 L340.0 295.7 L345.0 296.0 L350.0 295.7 L355.0 295.3 L360.0 295.0 L364.0 293.5 L368.0 292.0 L372.0 290.5 L376.0 289.0 L380.0 287.5 L384.2 286.2 L388.3 285.0 L392.5 283.8 L396.7 282.5 L400.8 281.2 L405.0 280.0 L409.4 279.4 L413.8 278.8 L418.1 278.1 L422.5 277.5 L426.7 276.3 L430.8 275.0 L435.0 273.8 L439.2 273.8 L443.3 273.8 L447.5 273.8"/>
<path d="M492.5 265.0 L496.7 264.6 L500.8 264.2 L505.0 263.8 L509.2 262.1 L513.3 260.5 L517.5 258.8 L522.5 259.9 L527.5 261.0 L531.2 263.0 L535.0 265.0 L540.0 263.0 L545.0 261.0 L550.0 255.0 L552.5 247.5 L556.2 243.8 L560.0 240.0 L564.2 238.7 L568.3 237.3 L572.5 236.0 L576.9 234.5 L581.2 233.0 L585.6 231.5 L590.0 230.0 L595.0 226.9 L600.0 223.8 L604.2 221.2 L608.3 218.6 L612.5 216.0 L620.0 215.0 L625.0 216.9 L630.0 218.8 L632.5 215.7 L635.0 212.5 L638.8 216.2 L642.5 220.0 L647.5 221.5 L652.5 223.0 L657.5 220.9 L662.5 218.8 L666.7 215.7 L670.8 212.6 L675.0 209.5 L680.0 210.8 L685.0 212.0 L689.4 210.1 L693.8 208.2 L698.1 206.4 L702.5 204.5 L706.5 205.4 L710.5 206.2 L714.5 207.1 L718.5 207.9 L722.5 208.8 L726.7 207.5 L730.8 206.3 L735.0 205.0 L739.2 202.3 L743.3 199.7 L747.5 197.0 L750.0 192.9 L752.5 188.8 L756.9 188.0 L761.2 187.2 L765.6 186.3 L770.0 185.5"/>
<path d="M800.6 182.9 L805.0 182.5 L808.3 180.0 L811.7 177.5 L815.0 175.0 L820.0 175.2 L825.0 175.3 L830.0 175.5 L835.0 174.0 L840.0 172.5 L845.0 169.2 L850.0 166.0 L850.5 161.0 L851.0 156.0 L855.5 154.2 L860.0 152.5 L865.0 150.0 L870.0 147.5 L874.2 147.3 L878.3 147.2 L882.5 147.0 L886.9 145.9 L891.2 144.8 L895.6 143.6 L900.0 142.5 L903.8 140.2 L907.5 138.0 L911.2 135.8 L915.0 133.5 L918.3 130.7 L921.7 127.8 L925.0 125.0 L927.5 121.7 L930.0 118.3 L932.5 115.0 L936.2 111.2 L940.0 107.5 L945.0 102.0"/>
<path d="M34.8 380.8 L39.9 378.3 L45.0 375.8 L51.7 373.0 L55.9 370.5 L60.1 368.0 L66.0 367.1 L71.8 366.3 L76.3 365.9 L80.7 365.6 L85.2 365.2 L91.1 365.2 L96.9 365.2 L101.4 365.4 L105.8 365.6 L110.3 365.8 L114.7 366.3 L119.2 366.7 L123.6 367.2 L128.1 367.3 L132.5 367.4 L137.0 367.5 L142.1 367.4 L147.1 367.2 L152.3 368.4 L157.5 369.5"/>
<path d="M202.5 380.8 L206.7 380.4 L210.8 379.9 L215.0 379.5 L220.0 379.9 L225.0 380.4 L230.0 380.8 L234.2 379.9 L238.3 378.9 L242.5 378.0 L246.7 377.3 L250.8 376.5 L255.0 375.8 L259.2 374.5 L263.3 373.3 L267.5 372.0 L270.0 372.7 L275.0 372.3 L280.0 371.9 L283.4 376.1 L286.7 380.3 L291.8 383.2 L296.8 386.1 L300.1 383.2 L303.4 380.3 L310.0 377.8 L315.0 378.5 L320.0 379.3 L325.0 380.0 L328.5 373.6 L329.8 369.3 L331.0 365.0 L332.1 360.1 L333.3 355.1 L334.4 350.2 L336.0 342.6 L340.6 342.2 L345.3 341.8 L350.3 341.0 L355.3 340.1 L360.3 339.3 L367.0 342.6"/>
<path d="M413.8 332.9 L418.8 331.5 L423.8 330.1 L428.4 331.4 L433.0 332.6 L437.6 333.9 L442.2 335.1 L446.1 334.0 L450.1 332.9 L454.0 331.8 L458.0 331.9 L462.0 331.9 L466.0 331.9 L470.0 332.0 L475.0 332.8 L480.0 333.7 L485.0 334.5 L490.0 338.3 L497.5 335.8 L500.0 329.5 L497.5 327.0 L492.8 325.5 L488.0 324.0 L486.0 320.0 L490.5 317.5 L495.0 315.0 L500.0 314.6 L505.0 314.2 L510.0 313.8 L515.0 311.9 L520.0 310.0 L525.0 309.4 L530.0 308.8 L533.8 313.1 L537.5 317.5 L542.5 319.2 L547.5 321.0 L551.2 318.5 L555.0 316.0 L550.0 310.0 L544.0 307.5 L545.0 301.0 L552.5 301.0 L556.5 301.8"/>
<path d="M600.0 310.0 L605.0 315.0 L612.5 312.5 L615.0 309.2 L617.5 305.8 L620.0 302.5 L623.3 299.3 L626.7 296.2 L630.0 293.0 L632.5 288.8 L635.0 284.5 L637.5 280.2 L640.0 276.0 L635.0 270.0 L637.5 264.5 L645.0 266.0 L647.9 269.8 L650.9 273.7 L653.8 277.5 L656.9 272.5 L660.0 267.5 L666.0 270.0 L668.5 273.8 L671.0 277.5 L675.5 278.8 L680.0 280.0 L685.0 276.9 L690.0 273.8 L692.5 270.0 L695.0 266.3 L697.5 262.5 L701.0 258.8 L705.0 263.0 L706.2 268.0 L707.5 273.0 L715.0 275.0 L719.0 274.8 L723.0 274.5 L727.0 274.3 L731.0 274.0 L735.0 273.8 L739.2 272.1 L743.3 270.5 L747.5 268.8 L751.9 268.8 L756.2 268.8 L760.6 268.8 L765.0 268.8 L768.8 266.9 L772.5 264.9 L776.2 262.9 L780.0 261.0 L784.2 262.7 L788.3 264.3 L792.5 266.0 L797.5 266.8 L802.5 267.5 L805.0 262.5 L807.5 257.5"/>
<path d="M830.8 249.2 L834.7 247.8 L838.6 246.4 L842.5 245.0 L846.0 243.0 L849.5 241.0 L853.0 239.0 L856.5 237.0 L860.0 235.0 L862.5 230.8 L865.0 226.7 L867.5 222.5 L870.6 219.0 L873.8 215.5 L878.8 220.0 L879.4 225.0 L880.0 230.0 L885.0 233.0 L890.0 236.0 L895.0 237.0 L900.0 238.0 L902.5 234.7 L905.0 231.3 L907.5 228.0 L910.8 224.0 L914.2 220.0 L917.5 216.0 L921.8 218.0 L926.0 220.0 L929.2 215.0 L932.5 210.0 L935.0 205.0 L937.5 200.0 L939.2 195.0 L941.0 190.0 L941.8 185.5 L942.5 181.0 L948.8 183.8 L949.9 189.4 L951.0 195.0 L955.0 201.0 L960.0 199.9 L965.0 198.8 L968.8 193.8 L965.6 190.7 L962.5 187.5 L967.5 184.2 L972.5 181.0 L974.2 177.3 L975.8 173.7 L977.5 170.0 L982.5 169.6 L987.5 169.2 L992.5 168.8 L998.8 172.5 L999.4 177.5 L1000.0 182.5 L1003.8 186.0 L1008.1 184.2 L1012.5 182.5 L1016.7 183.3 L1020.8 184.2 L1025.0 185.0 L1028.3 182.5 L1031.7 180.0 L1035.0 177.5 L1036.9 173.2 L1038.8 168.8 L1040.0 162.5 L1043.0 166.2 L1046.0 170.0 L1047.5 177.5 L1052.5 176.0 L1055.0 171.8 L1057.5 167.5 L1056.0 160.0 L1053.0 156.9 L1050.0 153.8 L1046.0 150.0 L1052.5 147.5 L1056.2 149.2 L1060.0 151.0 L1063.3 154.0 L1066.7 157.0 L1070.0 160.0 L1073.3 162.5 L1076.7 165.0 L1080.0 167.5 L1083.8 165.0 L1087.5 162.5 L1090.7 158.8 L1093.8 155.0 L1100.0 153.8 L1101.9 157.4 L1103.8 161.0 L1107.5 156.0 L1111.7 155.5 L1115.8 155.0 L1120.0 154.5 L1124.3 154.3 L1128.5 154.0 L1132.8 153.8"/>
<path d="M34.8 432.0 L39.0 431.6 L43.3 431.2 L47.5 430.8 L51.7 431.5 L55.8 432.3 L60.0 433.0 L64.0 431.6 L68.0 430.1 L72.0 428.7 L76.0 427.2 L80.0 425.8 L85.0 425.4 L90.0 424.9 L95.0 424.5 L100.0 421.2 L105.0 418.0 L108.0 415.0 L111.0 412.0 L117.5 414.5 L121.9 414.8 L126.2 415.1 L130.6 415.5 L135.0 415.8 L139.0 417.0 L143.0 418.3 L147.0 419.5 L151.0 420.8 L155.0 422.0 L160.0 422.8 L165.0 423.7 L170.0 424.5 L174.4 424.1 L178.8 423.8 L183.1 423.4 L187.5 423.0 L191.9 423.4 L196.2 423.8 L200.6 424.1 L205.0 424.5 L210.0 425.1 L215.0 425.8 L220.0 424.9 L225.0 423.9 L230.0 423.0 L234.2 422.3 L238.3 421.5"/>
<path d="M282.3 418.4 L286.4 418.9 L290.4 419.3 L294.5 419.8 L298.6 420.3 L302.7 420.7 L306.8 421.2 L311.4 420.6 L316.0 420.1 L320.6 419.6 L325.2 419.0 L331.0 419.9 L336.9 420.7 L336.0 425.4 L331.9 429.6 L328.0 431.8 L324.1 434.1 L320.2 436.3 L315.1 437.7 L310.1 439.1 L306.0 445.5 L307.6 448.5 L311.8 448.3 L316.0 448.2 L320.2 448.0 L324.4 447.7 L328.5 447.4 L332.7 447.1 L336.9 446.8 L341.1 446.4 L345.2 446.0 L349.4 445.6 L353.6 445.2 L358.1 444.7 L362.5 444.3 L367.0 443.8 L372.0 443.8 L377.0 442.0 L380.4 439.1 L383.7 436.3 L387.0 438.8 L390.4 441.3 L393.7 443.8 L400.4 443.0 L402.1 437.1 L400.4 433.8 L404.6 431.7 L408.8 429.6 L414.6 430.5 L420.5 431.3 L423.9 435.1 L427.2 438.8"/>
<path d="M464.0 428.8 L459.0 426.2 L454.0 423.7 L447.3 419.6 L447.3 415.4 L449.0 411.2 L450.6 407.0 L453.9 403.1 L457.3 399.2 L460.6 395.3 L465.3 394.9 L470.0 394.5 L475.0 394.8 L480.0 395.0 L484.2 394.1 L488.3 393.2 L492.5 392.2 L496.7 391.3 L500.8 390.4 L505.0 389.5 L510.0 387.6 L515.0 385.8 L520.0 387.5 L525.0 389.1 L530.0 390.8 L534.2 391.4 L538.3 392.0 L542.5 392.6 L546.7 393.3 L550.8 393.9 L555.0 394.5 L559.2 394.2 L563.3 393.8 L567.5 393.5 L571.7 393.2 L575.8 392.8 L580.0 392.5 L584.2 391.6 L588.3 390.7 L592.5 389.8 L596.7 388.8 L600.8 387.9 L605.0 387.0 L609.2 386.2 L613.3 385.5 L617.5 384.8 L621.7 384.0 L625.8 383.2 L630.0 382.5 L635.0 381.0 L640.0 379.5 L645.0 378.0 L650.0 380.5 L655.0 383.0 L659.2 382.8 L663.3 382.7 L667.5 382.5 L672.5 382.8 L677.5 383.0"/>
<path d="M722.5 365.8 L730.0 364.0 L735.0 366.8 L740.0 369.5 L745.0 370.1 L750.0 370.8 L753.8 372.6 L757.5 374.5 L756.0 379.5 L760.5 382.0 L765.0 384.5 L770.0 384.9 L775.0 385.4 L780.0 385.8 L786.0 388.0 L790.5 387.2 L795.0 386.5 L800.0 388.0 L805.0 389.5 L809.2 389.9 L813.3 390.4 L817.5 390.8 L823.8 394.5 L822.5 398.0 L827.5 401.2 L832.5 404.5 L838.8 407.5 L843.1 407.2 L847.5 407.0 L852.5 405.0 L857.5 403.0 L865.0 402.0 L872.5 400.8 L876.2 403.9 L880.0 407.0 L883.3 409.5 L886.7 412.0 L890.0 414.5 L893.0 417.6 L896.0 420.8 L899.2 423.3 L902.5 425.8 L907.5 426.6 L912.5 427.5 L917.5 427.2 L922.5 427.0"/>
<path d="M966.7 424.3 L970.8 425.7 L975.0 427.0 L979.2 427.3 L983.3 427.7 L987.5 428.0 L991.8 426.9 L996.0 425.8 L1000.0 423.0 L1000.5 428.8 L1001.0 434.5 L1005.0 440.8 L1010.0 442.6 L1015.0 444.5 L1018.3 447.0 L1021.7 449.5 L1025.0 452.0 L1030.0 455.8 L1035.0 456.9 L1040.0 458.0 L1044.2 458.0 L1048.3 458.0 L1052.5 458.0 L1057.5 456.2 L1062.5 454.5 L1067.5 452.0 L1072.5 449.5 L1076.2 452.0 L1080.0 454.5 L1085.0 454.8 L1090.0 455.0 L1097.5 457.5 L1102.5 456.6 L1107.5 455.8 L1111.2 453.3 L1115.0 450.8 L1122.5 452.0 L1127.5 457.0 L1132.8 461.0"/>
<path d="M34.8 485.0 L39.9 484.0 L45.0 483.0 L50.0 481.2 L55.0 479.5 L60.0 478.0 L65.0 476.5 L70.0 477.3 L75.0 478.2 L80.0 479.0 L84.4 479.0 L88.8 479.0 L93.1 479.0 L97.5 479.0 L101.2 477.4 L105.0 475.8 L109.4 475.1 L113.8 474.4 L118.1 473.7 L122.5 473.0 L126.9 472.1 L131.2 471.2 L135.6 470.4 L140.0 469.5 L145.0 470.3 L150.0 471.2 L155.0 472.0 L160.0 471.6 L165.0 471.2 L170.0 470.8 L174.4 470.1 L178.8 469.4 L183.1 468.7 L187.5 468.0 L192.5 469.3 L197.5 470.7 L202.5 472.0"/>
<path d="M247.5 471.5 L251.5 471.6 L255.5 471.7 L259.5 471.8 L263.5 471.9 L267.5 472.0 L271.5 472.0 L275.5 472.0 L279.5 472.0 L283.5 472.0 L287.5 472.0 L292.5 477.0 L296.7 477.3 L300.8 477.7 L305.0 478.0 L309.2 477.7 L313.3 477.3 L317.5 477.0 L321.8 480.5 L326.0 484.0 L330.0 484.0 L333.8 480.5 L337.5 477.0 L342.5 474.2 L347.5 471.5 L351.7 470.2 L355.8 468.8 L360.0 467.5 L363.8 465.8 L367.5 464.0 L371.7 462.9 L375.8 461.9 L380.0 460.8 L384.2 462.0 L388.3 463.3 L392.5 464.5 L396.2 466.2 L400.0 468.0 L404.2 468.9 L408.3 469.9 L412.5 470.8 L416.7 470.8 L420.8 470.8 L425.0 470.8 L429.2 469.1 L433.3 467.5 L437.5 465.8 L442.5 463.3 L447.5 460.8 L452.5 458.9 L457.5 457.0"/>
<path d="M500.2 464.3 L504.7 464.5 L509.1 464.6 L513.6 464.8 L518.6 466.6 L523.6 468.5 L528.7 473.5 L528.1 478.0 L527.6 482.4 L527.0 486.9 L526.6 491.1 L526.2 495.3 L528.9 498.6 L531.6 502.0 L534.3 505.3 L537.0 508.6 L540.4 512.0 L543.7 515.3 L547.1 518.7 L547.1 525.4 L542.9 526.2 L538.7 527.0 L534.5 527.9 L530.3 528.7 L526.2 528.5 L522.2 528.2 L518.1 528.0 L514.1 527.7 L510.0 527.5 L506.0 527.2 L501.9 527.0 L497.6 525.7 L493.2 524.3 L488.9 523.0 L484.5 521.6 L480.2 520.3 L476.2 519.9 L472.2 519.5 L468.1 519.1 L464.1 518.7 L460.1 518.3 L455.1 519.3 L450.1 520.3 L448.4 525.3 L446.7 530.4 L450.0 534.5 L453.4 538.7 L457.2 540.4 L460.9 542.0 L464.7 543.7 L468.5 545.4 L471.9 549.6 L475.2 553.8 L479.3 552.1 L478.5 547.1 L485.2 542.9 L490.2 542.6 L495.2 542.4 L500.2 542.1"/>
<path d="M547.1 543.7 L552.1 544.0 L557.1 544.3 L562.1 544.6 L568.0 545.9 L573.8 547.1 L575.0 553.0 L577.5 557.5 L580.0 562.0 L582.5 566.0 L585.0 570.0 L588.4 572.9 L591.7 575.8"/>
<path d="M607.6 552.0 L608.5 547.0 L610.0 540.5 L616.8 539.5 L620.1 536.5 L623.5 533.6 L630.2 535.3 L631.9 539.0 L633.5 542.8 L639.4 542.8 L645.3 542.8 L649.0 541.1 L652.8 539.5 L655.3 536.1 L657.8 532.8 L657.0 525.6 L663.6 523.6 L670.3 521.9 L677.0 518.6 L680.4 516.1 L687.0 516.9 L693.7 517.3 L700.4 516.1"/>
<path d="M734.0 515.0 L728.5 510.2 L724.2 507.7 L720.0 505.2 L716.0 502.6 L712.0 500.0 L707.9 498.4 L703.8 496.9 L697.5 492.0 L705.0 489.5 L709.2 488.7 L713.3 487.8 L717.5 487.0 L721.9 487.6 L726.2 488.2 L730.6 488.9 L735.0 489.5 L738.8 487.6 L742.5 485.8 L747.5 484.4 L752.5 483.0 L756.9 482.8 L761.2 482.5 L765.6 482.2 L770.0 482.0 L774.2 482.7 L778.3 483.3 L782.5 484.0 L787.5 486.0 L792.5 488.0 L796.7 490.2 L800.8 492.3 L805.0 494.5 L809.2 495.7 L813.3 496.8 L817.5 498.0 L822.5 501.2 L827.5 504.5 L830.0 507.6 L832.5 510.8 L836.7 511.5 L840.8 512.3 L845.0 513.0 L850.0 513.8 L855.0 514.5 L858.8 518.2 L862.5 522.0 L866.2 524.5 L870.0 527.0 L875.0 528.2 L880.0 529.5 L885.0 528.2 L890.0 527.0 L892.5 534.5 L896.2 537.0 L900.0 539.5 L904.2 540.7 L908.3 541.8 L912.5 543.0 L917.5 543.7 L922.5 544.3 L927.5 545.0 L931.7 544.8"/>
<path d="M963.7 564.0 L964.8 569.0 L966.0 574.0 L967.5 581.5 L975.0 584.0 L978.0 580.9 L981.0 577.8 L984.2 573.9 L987.5 570.0 L991.2 572.0 L995.0 574.0 L1000.0 572.8 L1005.0 571.5 L1009.2 571.0 L1013.3 570.5 L1017.5 570.0 L1021.2 573.2 L1025.0 576.5 L1030.0 579.0 L1035.0 581.5 L1040.0 582.7 L1045.0 583.8 L1050.0 585.0 L1055.0 588.2 L1060.0 591.5 L1065.0 592.7 L1070.0 593.8 L1075.0 595.0 L1080.0 596.3 L1085.0 597.7 L1090.0 599.0 L1094.4 599.5 L1098.8 600.0 L1103.1 600.5 L1107.5 601.0 L1111.9 601.6 L1116.2 602.2 L1120.6 602.9 L1125.0 603.5 L1132.8 602.0"/>
<path d="M34.8 548.0 L38.8 547.6 L42.9 547.1 L46.9 546.7 L51.0 546.2 L55.0 545.8 L59.0 545.9 L63.0 546.1 L67.0 546.2 L71.0 546.4 L75.0 546.5 L79.4 547.1 L83.8 547.8 L88.1 548.4 L92.5 549.0 L97.5 549.0 L102.5 549.0"/>
<path d="M142.5 539.5 L147.5 537.7 L152.5 535.8 L157.5 534.0 L161.7 536.5 L165.8 539.0 L170.0 541.5 L174.4 541.9 L178.8 542.2 L183.1 542.6 L187.5 543.0 L191.7 541.3 L195.8 539.7 L200.0 538.0 L203.8 540.5 L207.5 543.0 L211.7 542.8 L215.8 542.7 L220.0 542.5 L224.2 540.3 L228.3 538.0 L232.5 535.8 L240.0 535.2 L246.7 534.3 L253.4 536.5 L260.0 540.2 L264.0 543.5 L268.4 545.2 L272.6 545.1 L276.8 545.0 L280.0 548.5 L284.3 553.0 L287.1 556.5 L290.0 560.0 L295.2 564.4 L299.4 565.0 L303.5 565.6 L308.6 566.1 L313.6 566.6 L320.3 566.9 L327.0 563.6 L333.6 561.0 L337.0 556.9 L340.3 558.6"/>
<path d="M383.8 570.3 L388.1 570.9 L392.5 571.5 L397.5 570.5 L402.5 569.5 L407.0 569.6 L411.5 569.8 L416.0 569.9 L420.5 570.1 L425.0 570.2 L429.5 569.5 L434.0 568.7 L438.5 568.0 L443.0 567.2 L447.5 566.5 L451.9 565.6 L456.2 564.6 L460.6 563.7 L465.0 562.8 L470.0 561.5 L475.0 560.3 L480.0 559.0 L484.0 558.6 L488.0 558.2 L492.0 557.8 L496.0 557.4 L500.0 557.0 L504.3 556.4 L508.6 555.9 L512.9 555.3 L517.1 554.7"/>
<path d="M546.7 551.7 L550.8 551.3 L555.0 551.0 L559.2 550.9 L563.5 550.8 L567.8 550.6 L572.0 550.5 L576.0 556.0 L578.5 560.0 L581.0 564.0 L583.5 567.8 L586.0 571.5 L588.9 574.4 L591.7 577.3 L594.4 574.1 L597.0 571.0"/>
<path d="M633.5 555.4 L638.5 556.6 L643.6 557.9 L647.8 560.8 L652.0 563.7 L657.0 568.8 L661.4 569.9 L665.9 571.0 L670.3 572.1 L674.8 574.3 L679.2 576.6 L683.7 578.8 L688.7 581.7 L693.7 584.6 L698.8 587.2 L703.8 589.7 L708.0 590.7 L712.1 591.8 L716.3 592.8 L720.5 593.8 L725.2 594.9 L730.0 596.0 L734.2 595.7 L738.3 595.3 L742.5 595.0 L747.5 600.0 L750.0 606.5 L753.8 607.8 L760.0 604.0 L761.0 599.0 L755.0 594.0 L762.5 594.0 L766.7 595.3 L770.8 596.5 L775.0 597.8 L780.0 599.0 L785.0 600.3 L790.0 601.5 L794.2 602.3 L798.3 603.2 L802.5 604.0 L806.7 605.7 L810.8 607.3"/>
<path d="M848.8 629.5 L852.5 634.0 L856.2 638.4 L860.0 642.8 L865.0 640.3 L870.0 637.8 L875.0 638.9 L880.0 640.0 L884.2 640.9 L888.3 641.9 L892.5 642.8 L900.0 645.0 L905.0 646.4 L910.0 647.8 L913.8 649.6 L917.5 651.5 L925.0 651.5 L930.0 653.2 L935.0 655.0 L939.2 656.7 L943.3 658.3 L947.5 660.0 L952.5 655.0 L955.0 651.4 L957.5 647.8 L962.5 651.5 L965.0 654.6 L967.5 657.8 L971.2 659.6 L975.0 661.5 L978.3 664.0 L981.7 666.5 L985.0 669.0 L988.3 671.5 L991.7 674.0 L995.0 676.5 L1000.0 679.6 L1005.0 682.8 L1009.2 684.9 L1013.3 686.9 L1017.5 689.0 L1021.2 692.0 L1025.0 695.0 L1028.3 698.0 L1031.7 701.0 L1035.0 704.0 L1040.0 705.8 L1045.0 707.5 L1050.0 707.0 L1055.0 706.5 L1058.3 709.2 L1061.7 711.8 L1065.0 714.5 L1070.0 715.4 L1075.0 716.3 L1080.0 717.6 L1085.0 719.0 L1090.0 721.0 L1095.0 723.0 L1099.2 724.1 L1103.3 725.2 L1107.5 726.3 L1111.7 726.7 L1115.8 727.0 L1120.0 727.4 L1127.5 730.0 L1132.8 733.3"/>
<path d="M34.8 651.5 L39.9 649.0 L45.0 646.5 L50.0 645.7 L55.0 644.8 L60.0 644.0 L63.8 642.5 L67.5 640.9 L71.2 639.3 L75.0 637.8 L79.2 636.4 L83.3 634.9 L87.5 633.5 L91.9 632.1 L96.2 630.6 L100.6 629.2 L105.0 627.8 L109.2 626.9 L113.3 625.9 L117.5 625.0 L121.7 625.0 L125.8 625.0 L130.0 625.0 L133.8 627.5 L137.5 630.0 L141.2 633.9 L145.0 637.8 L150.0 637.4 L155.0 637.0 L160.0 636.3 L165.0 635.7 L170.0 635.0 L174.4 634.5 L178.8 634.0 L183.1 633.5 L187.5 633.0 L191.9 632.8 L196.2 632.5 L200.6 632.2 L205.0 632.0 L210.0 631.8 L215.0 631.5 L219.2 633.0 L223.3 634.5 L227.5 636.0 L231.7 635.2 L235.8 634.3 L240.0 633.5 L245.0 632.2 L250.0 631.0 L257.5 631.0"/>
<path d="M305.0 631.5 L309.2 629.7 L313.3 627.8 L317.5 626.0 L321.7 625.5 L325.8 625.0 L330.0 624.5 L334.0 624.5 L338.0 624.5 L342.0 624.5 L346.0 624.5 L350.0 624.5 L355.0 623.0 L360.0 621.5 L365.0 620.0 L370.0 620.9 L375.0 621.9 L380.0 622.8 L383.3 625.2 L386.7 627.6 L390.0 630.0 L393.3 633.8 L396.7 637.7 L400.0 641.5 L403.3 644.0 L406.7 646.5 L410.0 649.0 L417.5 651.5 L421.8 650.8 L426.0 650.0 L427.4 644.5 L428.8 639.0 L432.5 636.0 L436.3 633.0 L440.0 630.0 L445.0 628.7 L450.0 627.3 L455.0 626.0 L458.8 623.8 L462.5 621.5 L467.5 621.8 L472.5 622.0 L476.7 622.5 L480.8 623.0 L485.0 623.5 L492.5 625.0"/>
<path d="M537.5 624.5 L542.5 625.5 L547.5 626.5 L552.5 624.2 L557.5 622.0 L561.7 622.8 L565.8 623.7 L570.0 624.5 L575.0 625.5 L580.0 626.5 L585.0 627.3 L590.0 628.2 L595.0 629.0 L600.0 629.8 L605.0 630.7 L610.0 631.5 L615.0 632.1 L620.0 632.8 L625.0 633.9 L630.0 635.0 L635.0 638.2 L640.0 641.5 L643.8 644.0 L647.5 646.5 L651.2 649.0 L655.0 651.5 L658.8 653.6 L662.5 655.8 L666.2 657.9 L670.0 660.0 L675.0 660.9 L680.0 661.9 L685.0 662.8 L689.4 663.7 L693.8 664.6 L698.1 665.6 L702.5 666.5 L707.5 667.3 L712.5 668.2 L717.5 669.0 L721.7 671.0 L725.8 673.0 L730.0 675.0 L733.8 677.0 L737.5 679.0 L742.5 677.8 L747.5 676.5"/>
<path d="M784.2 696.3 L788.3 698.2 L792.5 700.0 L796.7 701.4 L800.8 702.9 L805.0 704.3 L809.2 703.3 L813.3 702.2 L817.5 701.2 L821.7 702.1 L825.8 703.1 L830.0 704.0 L835.0 707.0 L840.0 710.0 L844.2 711.8 L848.3 713.7 L852.5 715.5 L856.7 718.5 L860.8 721.5 L865.0 724.5 L868.8 726.5 L872.5 728.5 L876.2 730.5 L880.0 732.5 L884.2 735.7 L888.3 738.8 L892.5 742.0 L896.2 744.1 L900.0 746.3 L905.0 749.4 L910.0 752.5 L913.8 754.4 L917.5 756.3 L918.8 760.1 L920.0 764.0 L925.0 766.5 L930.0 769.0 L933.8 770.5 L937.5 772.0 L941.7 772.3 L945.8 772.7 L950.0 773.0 L954.2 773.9 L958.3 774.9 L962.5 775.8 L966.7 777.0 L970.8 778.2 L975.0 779.4 L980.0 780.7 L985.0 782.0 L988.8 783.5 L992.5 785.0 L993.1 789.4 L993.8 793.8 L998.1 796.9 L1002.5 800.0 L1006.2 802.5 L1010.0 805.0"/>
<path d="M1055.0 812.5 L1060.0 812.9 L1065.0 813.4 L1070.0 813.8 L1075.0 813.4 L1080.0 812.9 L1085.0 812.5 L1092.5 815.0 L1097.5 813.8 L1100.0 820.0 L1107.5 822.5 L1110.0 826.2 L1112.5 830.0 L1110.0 833.8 L1107.5 837.5 L1115.0 840.0 L1118.8 842.5 L1122.5 845.0 L1126.2 847.5 L1130.0 850.0 L1132.8 852.5"/>
<path d="M34.8 744.0 L39.9 740.9 L45.0 737.8 L48.8 735.3 L52.5 732.8 L53.8 725.0 L57.5 721.0 L62.5 721.9 L67.5 722.8 L72.5 726.0 L80.0 725.0 L84.2 724.7 L88.3 724.3 L92.5 724.0 L97.5 724.7 L102.5 725.3 L107.5 726.0 L112.5 727.5 L117.5 729.0 L121.7 730.5 L125.8 732.0 L130.0 733.5 L134.2 733.3 L138.3 733.0 L142.5 732.8 L147.5 733.4 L152.5 734.0 L156.7 732.3 L160.8 730.7 L165.0 729.0 L169.2 727.7 L173.3 726.3 L177.5 725.0 L181.7 725.5 L185.8 726.0 L190.0 726.5 L195.0 727.8 L200.0 729.0 L202.5 722.8 L210.0 722.8 L215.0 720.3 L220.0 717.8 L225.0 715.3 L230.0 712.8 L235.0 719.0 L240.0 719.5 L245.0 720.0 L250.0 720.8 L255.0 721.5"/>
<path d="M297.5 714.0 L301.7 713.2 L305.8 712.3 L310.0 711.5 L314.0 710.6 L318.0 709.7 L322.0 708.8 L326.0 707.9 L330.0 707.0 L334.2 705.6 L338.3 704.2 L342.5 702.8 L347.5 699.6 L352.5 696.5 L356.2 698.2 L360.0 700.0 L364.2 701.3 L368.3 702.7 L372.5 704.0 L377.5 703.6 L382.5 703.2 L387.5 702.8 L392.5 700.3 L397.5 697.8 L401.7 696.7 L405.8 695.6 L410.0 694.5 L415.0 696.8 L420.0 699.0 L425.0 700.2 L430.0 701.5 L435.0 701.2 L440.0 701.0 L443.3 703.7 L446.7 706.3 L450.0 709.0 L455.0 707.8 L457.5 703.4 L460.0 699.0 L465.0 694.5 L468.8 696.1 L472.5 697.8 L476.7 699.2 L480.8 700.6 L485.0 702.0 L490.0 703.5 L495.0 705.0 L500.0 706.5 L505.0 708.2 L510.0 710.0 L514.2 710.3 L518.3 710.7 L522.5 711.0 L526.8 711.3"/>
<path d="M570.0 714.5 L575.0 715.5 L580.0 716.5 L584.2 717.3 L588.3 718.2 L592.5 719.0 L596.7 719.8 L600.8 720.7 L605.0 721.5 L609.2 722.7 L613.3 723.8 L617.5 725.0 L621.7 727.7 L625.8 730.3 L630.0 733.0 L633.3 735.7 L636.7 738.3 L640.0 741.0 L644.4 739.2 L648.8 737.5 L655.0 736.0 L658.8 738.5 L662.5 741.0 L666.2 744.0 L670.0 747.0 L673.0 743.5 L676.0 740.0 L682.5 738.0 L687.5 739.2 L692.5 740.5 L697.5 743.2 L702.5 746.0 L706.7 748.0 L710.8 750.0 L715.0 752.0 L720.0 752.0 L725.0 752.0 L726.2 756.5 L727.5 761.0 L731.2 764.9 L735.0 768.8 L735.0 776.0 L738.4 778.1"/>
<path d="M772.5 798.8 L773.8 803.8 L777.5 805.7 L781.3 807.6 L785.0 809.5 L790.0 809.8 L795.0 810.0 L800.0 808.0 L805.0 806.0 L810.0 808.0 L815.0 810.0 L820.0 812.5 L825.0 815.0 L830.0 816.9 L835.0 818.8 L840.0 819.9 L845.0 821.0 L850.0 826.0 L853.8 828.5 L857.5 831.0 L861.2 834.2 L865.0 837.5 L867.5 840.8 L870.0 844.2 L872.5 847.5 L876.2 851.2 L880.0 855.0 L883.3 857.9 L886.7 860.9 L890.0 863.8 L893.3 866.7 L896.7 869.6 L900.0 872.5 L903.8 875.6 L907.5 878.8 L911.2 880.6 L915.0 882.5 L918.3 885.0 L921.7 887.5 L925.0 890.0 L928.3 893.8 L931.7 897.6 L935.0 901.4"/>
<path d="M276.0 901.4 L280.0 897.5 L283.3 895.0 L286.7 892.5 L290.0 890.0 L295.0 888.0 L300.0 886.0 L303.8 883.0 L307.5 880.0 L310.8 877.0 L314.2 874.0 L317.5 871.0 L320.6 868.1 L323.8 865.2 L326.9 862.4 L330.0 859.5 L333.8 857.2 L337.5 855.0 L345.0 852.5"/>
<path d="M387.5 845.0 L391.7 845.0 L395.8 845.0 L400.0 845.0 L405.0 844.2 L410.0 843.3 L415.0 842.5 L420.0 842.5 L425.0 842.5 L430.0 844.2 L435.0 846.0 L440.0 848.8 L445.0 847.4 L450.0 846.0 L455.0 847.4 L460.0 848.8 L464.2 850.9 L468.3 852.9 L472.5 855.0 L476.7 854.6 L480.8 854.2 L485.0 853.8 L490.0 855.0 L495.0 856.3 L500.0 857.5 L504.2 859.2 L508.3 860.8 L512.5 862.5 L516.2 864.1 L520.0 865.6 L523.8 867.2 L527.5 868.8 L531.7 870.9 L535.8 872.9 L540.0 875.0 L545.0 877.5 L550.0 880.0 L556.0 885.0 L559.2 888.8 L562.5 892.5 L565.0 897.0 L567.5 901.4"/>
<path d="M412.1 420.4 L415.5 415.4 L420.5 412.0 L427.2 410.0 L433.0 410.7 L437.2 415.4 L439.2 421.2 L438.9 427.1 L434.7 429.6 L428.9 427.9 L423.0 425.4 L417.2 424.6 L413.0 423.4Z"/>
<path d="M334.9 437.1 L340.2 434.6 L348.6 432.9 L357.0 431.8 L361.1 433.8 L361.6 438.0 L357.0 441.3 L348.6 443.0 L340.2 443.5 L335.2 442.1Z"/>
<path d="M372.3 418.7 L375.4 417.4 L379.5 420.4 L383.7 425.4 L385.1 429.6 L382.0 431.3 L377.9 428.8 L374.5 424.6Z"/>
<path d="M314.8 356.9 L317.7 355.2 L320.5 357.7 L321.0 362.7 L319.3 366.6 L316.0 366.9 L314.3 362.7Z"/>
<path d="M189.8 328.2 L189.5 329.7 L188.5 330.9 L187.2 331.5 L185.6 331.5 L184.3 330.9 L183.3 329.7 L183.0 328.2 L183.3 326.7 L184.3 325.5 L185.6 324.9 L187.2 324.9 L188.5 325.5 L189.5 326.7Z"/>
<path d="M502.2 455.5 L505.3 452.6 L510.3 451.8 L514.4 453.4 L515.3 456.5 L511.9 458.8 L506.9 459.3 L503.2 458.1Z"/>
<path d="M547.4 490.2 L550.4 486.9 L555.4 487.7 L559.1 491.9 L560.8 496.9 L559.6 501.1 L555.4 501.9 L551.2 499.9 L548.4 495.3Z"/>
<path d="M532.3 498.6 L535.4 495.6 L540.4 496.6 L545.4 500.3 L549.1 505.3 L550.7 510.3 L547.1 512.0 L542.0 510.3 L537.0 507.0 L533.3 502.8Z"/>
<path d="M456.8 531.2 L460.1 527.4 L466.8 526.2 L473.5 527.9 L477.7 531.2 L477.2 536.2 L472.6 539.1 L466.8 539.6 L460.9 537.9 L457.6 535.1Z"/>
<path d="M542.4 531.2 L547.1 527.9 L557.1 527.0 L567.1 529.5 L577.2 533.7 L587.2 538.7 L597.2 543.7 L604.7 547.9 L607.3 552.1 L603.9 554.6 L595.6 553.8 L585.5 550.4 L575.5 546.3 L565.5 542.1 L555.4 539.6 L547.1 537.1 L542.9 534.5Z"/>
<path d="M547.4 533.4 L552.1 530.7 L562.1 531.7 L572.1 535.4 L582.2 539.6 L589.7 543.7 L591.4 547.4 L587.2 549.1 L578.8 547.1 L568.8 542.9 L558.8 539.6 L550.4 537.1Z"/>
<path d="M564.6 514.5 L568.8 510.3 L577.2 509.5 L587.2 512.0 L594.7 516.2 L596.4 520.3 L590.5 522.3 L580.5 522.0 L572.1 520.3 L566.3 518.7Z"/>
<path d="M611.8 460.9 L618.5 458.1 L626.9 459.2 L635.2 462.6 L643.6 466.8 L650.3 470.9 L653.3 476.0 L652.8 480.1 L648.6 481.5 L641.9 480.1 L635.2 479.3 L629.4 480.1 L626.0 477.6 L623.5 473.4 L620.2 468.4 L615.2 464.2Z"/>
<path d="M586.7 486.8 L593.4 484.3 L603.4 483.1 L613.5 484.3 L621.8 486.8 L628.5 490.2 L633.5 495.2 L640.2 500.2 L646.9 505.2 L651.1 510.2 L651.9 516.9 L650.3 523.6 L647.8 528.6 L643.6 532.8 L638.6 533.6 L633.5 531.1 L628.5 528.6 L623.5 527.0 L618.5 523.6 L615.2 520.3 L611.8 516.1 L608.5 512.7 L603.4 510.2 L599.3 509.4 L600.9 506.9 L598.4 504.4 L593.4 501.0 L589.2 496.9 L586.7 491.8Z"/>
<path d="M598.4 490.2 L603.4 486.8 L611.8 488.5 L620.2 491.8 L626.9 496.9 L631.9 501.9 L635.2 508.6 L636.9 515.3 L636.1 520.3 L631.9 521.9 L626.9 520.3 L621.8 518.6 L618.5 515.3 L615.2 510.2 L611.8 506.9 L606.8 504.4 L601.8 500.2 L598.8 495.2Z"/>
<path d="M602.6 491.0 L608.5 490.2 L614.3 492.7 L616.8 496.9 L615.2 500.2 L610.1 501.0 L605.1 498.5 L602.6 495.2Z"/>
<path d="M623.5 510.2 L626.0 507.7 L629.4 509.4 L630.5 513.6 L628.5 516.9 L625.5 516.1 L623.8 513.6Z"/>
<path d="M806.0 543.2 L810.2 541.5 L816.9 541.0 L825.3 540.5 L831.9 540.5 L837.0 542.2 L842.0 545.2 L845.3 548.6 L847.0 551.1 L843.6 552.2 L837.0 551.1 L830.3 549.9 L823.6 549.4 L816.9 549.9 L810.2 549.4 L806.9 547.7 L805.2 545.2Z"/>
<path d="M770.4 538.5 L773.4 536.0 L778.4 533.5 L783.4 531.8 L786.0 529.3 L784.3 525.2 L780.9 522.6 L776.8 523.1 L773.4 524.8 L778.4 523.8 L782.6 526.0 L784.3 529.3 L787.6 530.2 L788.1 536.9 L786.0 541.9 L782.6 545.2 L778.4 547.7 L773.4 548.9 L771.4 545.2 L770.1 541.0Z"/>
<path d="M283.5 540.2 L286.0 533.8 L291.8 531.8 L298.5 534.3 L306.9 532.6 L315.3 531.8 L323.6 533.1 L330.3 536.0 L333.6 540.2 L335.3 543.5 L331.1 547.7 L327.0 551.9 L320.3 552.7 L313.6 553.5 L308.6 558.6 L304.4 560.2 L301.9 556.9 L301.0 551.9 L299.4 546.9 L295.2 543.8 L290.2 545.2 L285.2 544.3Z"/>
<path d="M337.3 543.5 L342.0 543.2 L348.7 545.2 L355.4 547.7 L359.6 551.9 L361.2 556.1 L357.1 557.7 L350.4 556.9 L345.4 556.1 L341.2 551.9 L338.3 547.7Z"/>
<path d="M343.3 548.5 L347.0 547.2 L351.2 548.9 L353.7 552.2 L352.0 554.9 L347.9 555.2 L344.5 552.7Z"/>
<path d="M1044.0 189.0 L1043.3 191.5 L1041.4 193.5 L1038.6 194.7 L1035.4 194.7 L1032.6 193.5 L1030.7 191.5 L1030.0 189.0 L1030.7 186.5 L1032.6 184.5 L1035.4 183.3 L1038.6 183.3 L1041.4 184.5 L1043.3 186.5Z"/>
<path d="M1110.0 185.0 L1109.1 187.7 L1106.4 189.8 L1102.6 191.0 L1098.4 191.0 L1094.6 189.8 L1091.9 187.7 L1091.0 185.0 L1091.9 182.3 L1094.6 180.2 L1098.4 179.0 L1102.6 179.0 L1106.4 180.2 L1109.1 182.3Z"/>
<path d="M151.8 691.3 L150.5 694.3 L148.5 696.5 L146.2 697.4 L144.0 696.8 L142.5 694.9 L141.8 692.0 L142.2 688.7 L143.5 685.7 L145.5 683.5 L147.8 682.6 L150.0 683.2 L151.5 685.1 L152.2 688.0Z"/>
<path d="M146.0 707.7 L145.3 709.8 L143.9 711.4 L142.3 712.1 L140.6 711.8 L139.3 710.6 L138.5 708.6 L138.6 706.3 L139.3 704.2 L140.7 702.6 L142.3 701.9 L144.0 702.2 L145.3 703.4 L146.1 705.4Z"/>
<path d="M311.0 639.0 L310.5 640.6 L308.9 641.8 L306.7 642.5 L304.3 642.5 L302.1 641.8 L300.5 640.6 L300.0 639.0 L300.5 637.4 L302.1 636.2 L304.3 635.5 L306.7 635.5 L308.9 636.2 L310.5 637.4Z"/>
<path d="M966.3 671.5 L965.7 674.8 L963.9 677.4 L961.4 678.9 L958.6 678.9 L956.1 677.4 L954.3 674.8 L953.7 671.5 L954.3 668.2 L956.1 665.6 L958.6 664.1 L961.4 664.1 L963.9 665.6 L965.7 668.2Z"/>
<path d="M719.7 763.0 L719.0 767.8 L717.0 771.6 L714.1 773.7 L710.9 773.7 L708.0 771.6 L706.0 767.8 L705.3 763.0 L706.0 758.2 L708.0 754.4 L710.9 752.3 L714.1 752.3 L717.0 754.4 L719.0 758.2Z"/>
<path d="M1054.9 659.7 L1055.1 663.2 L1054.3 666.2 L1052.8 668.0 L1050.9 668.4 L1048.8 667.1 L1047.1 664.6 L1046.1 661.3 L1045.9 657.8 L1046.7 654.8 L1048.2 653.0 L1050.1 652.6 L1052.2 653.9 L1053.9 656.4Z"/>
<path d="M1068.7 701.3 L1068.9 704.4 L1068.3 707.0 L1067.0 708.6 L1065.4 708.9 L1063.6 707.8 L1062.2 705.6 L1061.3 702.7 L1061.1 699.6 L1061.7 697.0 L1063.0 695.4 L1064.6 695.1 L1066.4 696.2 L1067.8 698.4Z"/>
<path d="M1083.7 736.1 L1084.3 739.4 L1083.7 742.3 L1082.2 744.5 L1079.9 745.3 L1077.3 744.7 L1075.0 742.8 L1073.3 739.9 L1072.7 736.6 L1073.3 733.7 L1074.8 731.5 L1077.1 730.7 L1079.7 731.3 L1082.0 733.2Z"/>
<path d="M330.2 377.8 L332.7 375.3 L336.1 376.9 L336.9 379.9 L333.5 380.6 L330.5 379.9Z"/>
<path d="M396.6 411.7 L399.1 409.0 L402.9 410.0 L403.8 413.4 L400.8 415.4 L397.4 414.4Z"/>
<path d="M466.0 533.7 L468.5 532.0 L471.5 533.4 L471.0 535.7 L467.6 536.1Z"/>
<path d="M766.7 520.5 L768.1 519.1 L769.7 520.1 L769.4 521.8 L767.7 521.8Z"/>
<path d="M876.8 619.6 L878.4 617.1 L880.4 619.6 L880.1 622.5 L877.8 622.5Z"/>
<path d="M314.4 538.8 L316.6 537.5 L318.9 538.8 L318.3 541.0 L315.6 541.2Z"/>
<path d="M920.0 245.5 L919.6 246.9 L918.3 248.0 L916.5 248.6 L914.5 248.6 L912.7 248.0 L911.4 246.9 L911.0 245.5 L911.4 244.1 L912.7 243.0 L914.5 242.4 L916.5 242.4 L918.3 243.0 L919.6 244.1Z"/>
<path d="M916.8 267.5 L916.5 268.9 L915.7 270.0 L914.6 270.6 L913.4 270.6 L912.3 270.0 L911.5 268.9 L911.2 267.5 L911.5 266.1 L912.3 265.0 L913.4 264.4 L914.6 264.4 L915.7 265.0 L916.5 266.1Z"/>
<path d="M531.3 249.4 L531.8 251.0 L531.7 252.6 L531.0 253.9 L529.7 254.6 L528.3 254.6 L526.8 253.9 L525.7 252.6 L525.2 251.0 L525.3 249.4 L526.0 248.1 L527.3 247.4 L528.7 247.4 L530.2 248.1Z"/>
<path d="M617.3 392.5 L617.0 393.7 L616.0 394.7 L614.6 395.2 L613.0 395.2 L611.6 394.7 L610.6 393.7 L610.3 392.5 L610.6 391.3 L611.6 390.3 L613.0 389.8 L614.6 389.8 L616.0 390.3 L617.0 391.3Z"/>
<path d="M1065.1 488.0 L1064.8 489.0 L1064.1 489.7 L1063.1 490.1 L1061.9 490.1 L1060.9 489.7 L1060.2 489.0 L1059.9 488.0 L1060.2 487.0 L1060.9 486.3 L1061.9 485.9 L1063.1 485.9 L1064.1 486.3 L1064.8 487.0Z"/>
<path d="M481.4 732.1 L479.6 735.4 L476.9 737.6 L474.0 738.4 L471.4 737.4 L469.7 735.0 L469.1 731.6 L469.8 727.9 L471.6 724.6 L474.3 722.4 L477.2 721.6 L479.8 722.6 L481.5 725.0 L482.1 728.4Z"/>
<path d="M592.6 737.8 L592.3 738.6 L591.6 739.2 L590.6 739.6 L589.4 739.6 L588.4 739.2 L587.7 738.6 L587.4 737.8 L587.7 737.0 L588.4 736.4 L589.4 736.0 L590.6 736.0 L591.6 736.4 L592.3 737.0Z"/>
<path d="M666.0 733.0 L665.1 736.0 L662.6 738.5 L659.0 739.8 L655.0 739.8 L651.4 738.5 L648.9 736.0 L648.0 733.0 L648.9 730.0 L651.4 727.5 L655.0 726.2 L659.0 726.2 L662.6 727.5 L665.1 730.0Z"/>
<path d="M762.4 831.0 L762.0 832.4 L761.0 833.5 L759.6 834.1 L758.0 834.1 L756.6 833.5 L755.6 832.4 L755.2 831.0 L755.6 829.6 L756.6 828.5 L758.0 827.9 L759.6 827.9 L761.0 828.5 L762.0 829.6Z"/>
</g>
<g font-family="'Liberation Sans', sans-serif" font-size="17.5" fill="#b0b0b0" text-anchor="middle">
<text x="103.5" y="217.2" textLength="37" lengthAdjust="spacingAndGlyphs">1020</text>
<text x="261.0" y="260.2" textLength="37" lengthAdjust="spacingAndGlyphs">1019</text>
<text x="543.0" y="189.2" textLength="37" lengthAdjust="spacingAndGlyphs">1019</text>
<text x="188.5" y="346.2" textLength="37" lengthAdjust="spacingAndGlyphs">1018</text>
<text x="471.0" y="274.2" textLength="37" lengthAdjust="spacingAndGlyphs">1018</text>
<text x="794.0" y="198.2" textLength="37" lengthAdjust="spacingAndGlyphs">1018</text>
<text x="181.0" y="379.2" textLength="37" lengthAdjust="spacingAndGlyphs">1017</text>
<text x="390.5" y="348.2" textLength="37" lengthAdjust="spacingAndGlyphs">1017</text>
<text x="580.0" y="313.2" textLength="37" lengthAdjust="spacingAndGlyphs">1017</text>
<text x="830.0" y="265.2" textLength="37" lengthAdjust="spacingAndGlyphs">1017</text>
<text x="1007.5" y="203.7" textLength="37" lengthAdjust="spacingAndGlyphs">1017</text>
<text x="261.0" y="420.2" textLength="37" lengthAdjust="spacingAndGlyphs">1016</text>
<text x="701.0" y="380.2" textLength="37" lengthAdjust="spacingAndGlyphs">1016</text>
<text x="943.5" y="432.2" textLength="37" lengthAdjust="spacingAndGlyphs">1016</text>
<text x="453.0" y="445.2" textLength="37" lengthAdjust="spacingAndGlyphs">1016</text>
<text x="584.0" y="483.9" textLength="37" lengthAdjust="spacingAndGlyphs">1016</text>
<text x="225.0" y="478.2" textLength="37" lengthAdjust="spacingAndGlyphs">1015</text>
<text x="478.5" y="460.7" textLength="37" lengthAdjust="spacingAndGlyphs">1015</text>
<text x="523.5" y="551.7" textLength="37" lengthAdjust="spacingAndGlyphs">1015</text>
<text x="721.3" y="531.5" textLength="37" lengthAdjust="spacingAndGlyphs">1015</text>
<text x="842.8" y="564.8" textLength="37" lengthAdjust="spacingAndGlyphs">1015</text>
<text x="955.5" y="558.2" textLength="37" lengthAdjust="spacingAndGlyphs">1015</text>
<text x="123.5" y="555.2" textLength="37" lengthAdjust="spacingAndGlyphs">1014</text>
<text x="363.3" y="572.2" textLength="37" lengthAdjust="spacingAndGlyphs">1014</text>
<text x="612.0" y="568.2" textLength="37" lengthAdjust="spacingAndGlyphs">1014</text>
<text x="830.5" y="623.7" textLength="37" lengthAdjust="spacingAndGlyphs">1014</text>
<text x="281.5" y="635.2" textLength="37" lengthAdjust="spacingAndGlyphs">1013</text>
<text x="515.5" y="638.2" textLength="37" lengthAdjust="spacingAndGlyphs">1013</text>
<text x="766.0" y="692.2" textLength="37" lengthAdjust="spacingAndGlyphs">1013</text>
<text x="1032.5" y="819.7" textLength="37" lengthAdjust="spacingAndGlyphs">1013</text>
<text x="277.0" y="726.2" textLength="37" lengthAdjust="spacingAndGlyphs">1012</text>
<text x="548.0" y="720.2" textLength="37" lengthAdjust="spacingAndGlyphs">1012</text>
<text x="754.0" y="793.7" textLength="37" lengthAdjust="spacingAndGlyphs">1012</text>
<text x="365.5" y="857.2" textLength="37" lengthAdjust="spacingAndGlyphs">1010</text>
</g>
<g clip-path="url(#cp)" stroke="#6e6e6e" stroke-width="0.9" fill="none" stroke-linecap="round" opacity="0.9">
<path d="M31.6 132.9L53.8 113.8M53.8 113.8L67.4 120.7"/>
<path d="M31.6 194.5L58.8 174.5M58.8 174.5L71.8 182.5M55.2 177.1L61.7 181.1"/>
<path d="M31.6 256.5L60.0 237.5M60.0 237.5L72.7 246.1M56.3 239.9L62.6 244.2"/>
<path d="M31.6 319.1L55.0 295.0M55.0 295.0L69.2 300.8M51.9 298.2L66.1 303.9"/>
<path d="M31.6 382.3L53.8 356.5M53.8 356.5L68.2 361.4M50.9 359.8L65.4 364.7"/>
<path d="M31.6 445.9L55.6 429.0"/>
<path d="M31.6 510.0L60.0 492.0M60.0 492.0L72.4 500.9M56.3 494.4L62.5 498.8"/>
<path d="M31.6 574.4L64.5 566.5M64.5 566.5L73.4 579.0M60.2 567.5L64.6 573.7"/>
<path d="M31.6 639.3L61.2 625.2M61.2 625.2L72.5 635.6M57.3 627.1L62.9 632.3"/>
<path d="M31.6 704.5L61.2 688.5M61.2 688.5L73.0 698.3M57.4 690.6L63.2 695.4"/>
<path d="M31.6 770.2L60.0 751.0M60.0 751.0L72.7 759.5M56.4 753.5L62.7 757.7"/>
<path d="M31.6 836.2L57.0 813.8M57.0 813.8L70.7 820.6M53.7 816.7L60.5 820.1"/>
<path d="M31.6 902.5L55.0 878.8M55.0 878.8L69.1 884.6M51.9 881.9L58.9 884.8"/>
<path d="M88.1 132.9L102.5 106.2M102.5 106.2L117.7 108.0"/>
<path d="M88.1 194.5L116.2 175.0M116.2 175.0L129.0 183.4M112.6 177.5L119.0 181.7"/>
<path d="M88.1 256.5L116.2 238.0M116.2 238.0L128.8 246.7M112.6 240.4L118.8 244.7"/>
<path d="M88.1 319.1L112.5 296.2M112.5 296.2L126.4 302.7M109.3 299.3L123.2 305.7"/>
<path d="M88.1 382.3L112.5 360.8M112.5 360.8L126.2 367.6M109.2 363.7L122.9 370.5"/>
<path d="M88.1 445.9L116.2 420.8M116.2 420.8L130.0 427.5M113.0 423.7L126.7 430.4"/>
<path d="M88.1 510.0L117.5 497.0M117.5 497.0L128.5 507.7M113.5 498.8L118.9 504.1"/>
<path d="M88.1 574.4L113.8 559.0M113.8 559.0L126.0 568.2M110.0 561.3L116.0 565.8"/>
<path d="M88.1 639.3L116.2 619.5M116.2 619.5L129.1 627.8M112.7 622.0L125.5 630.3"/>
<path d="M88.1 704.5L115.0 682.8M115.0 682.8L128.4 690.2M111.6 685.5L125.0 692.9"/>
<path d="M88.1 770.2L118.8 757.8M118.8 757.8L129.4 768.7M114.7 759.4L120.0 764.9"/>
<path d="M88.1 836.2L115.0 815.5M115.0 815.5L128.2 823.2M111.5 818.2L118.1 822.0"/>
<path d="M88.1 902.5L116.2 883.8M116.2 883.8L128.9 892.4M112.6 886.2L118.9 890.5"/>
<path d="M144.6 132.9L163.8 110.0M163.8 110.0L178.3 114.7"/>
<path d="M144.6 194.5L172.5 175.5M172.5 175.5L185.2 184.0M168.9 178.0L175.2 182.2"/>
<path d="M144.6 256.5L172.5 238.8M172.5 238.8L185.0 247.6M168.8 241.1L175.0 245.5"/>
<path d="M144.6 319.1L171.2 298.8M171.2 298.8L184.4 306.5M167.8 301.4L180.9 309.2"/>
<path d="M144.6 382.3L168.6 365.4M168.6 365.4L181.4 373.7"/>
<path d="M144.6 445.9L171.2 419.0M171.2 419.0L185.4 424.9M168.2 422.1L182.3 428.0"/>
<path d="M144.6 510.0L173.8 492.0M173.8 492.0L186.1 501.1M170.0 494.3L176.1 498.8"/>
<path d="M144.6 574.4L173.0 556.2M173.0 556.2L185.4 565.0M169.2 558.6L175.5 562.9"/>
<path d="M144.6 639.3L171.2 618.5M171.2 618.5L184.5 626.2M167.8 621.2L181.0 628.9"/>
<path d="M144.6 704.5L172.5 685.2M172.5 685.2L185.3 693.7M168.9 687.7L175.2 691.9"/>
<path d="M144.6 770.2L175.0 754.5M175.0 754.5L186.6 764.5M171.1 756.5L176.9 761.5"/>
<path d="M144.6 836.2L176.2 825.5M176.2 825.5L186.2 837.1M172.1 826.9L182.1 838.5"/>
<path d="M144.6 902.5L177.5 894.5M177.5 894.5L186.4 906.9M173.2 895.5L182.1 908.0"/>
<path d="M201.1 132.9L222.5 108.8M222.5 108.8L236.9 113.9M219.6 112.0L226.7 114.6"/>
<path d="M201.1 194.5L228.8 175.5M228.8 175.5L241.5 183.9M225.1 178.0L231.5 182.2"/>
<path d="M201.1 256.5L226.2 233.8M226.2 233.8L240.0 240.4M223.0 236.7L229.8 240.0"/>
<path d="M201.1 319.1L217.5 293.8M217.5 293.8L232.5 296.6M215.1 297.4L222.6 298.9"/>
<path d="M201.1 382.3L223.8 355.8M223.8 355.8L238.3 360.6M220.9 359.1L235.4 363.9"/>
<path d="M201.1 445.9L222.5 420.8M222.5 420.8L237.0 425.6M219.6 424.1L234.2 428.9"/>
<path d="M201.1 510.0L228.8 490.0M228.8 490.0L241.7 498.1M225.2 492.6L238.1 500.7"/>
<path d="M201.1 574.4L227.5 559.0M227.5 559.0L239.6 568.4M223.7 561.2L229.7 565.9"/>
<path d="M201.1 639.3L227.5 617.8M227.5 617.8L240.9 625.1M224.1 620.5L237.5 627.9"/>
<path d="M201.1 704.5L231.2 693.2M231.2 693.2L241.6 704.5M227.1 694.8L237.5 706.1"/>
<path d="M201.1 770.2L231.2 756.5M231.2 756.5L242.3 767.0M227.2 758.3L232.8 763.6"/>
<path d="M201.1 836.2L232.5 824.5M232.5 824.5L242.8 835.8M228.4 826.0L238.7 837.3"/>
<path d="M201.1 902.5L233.8 892.0M233.8 892.0L243.5 903.8M229.6 893.3L239.4 905.1"/>
<path d="M257.6 132.9L280.0 107.5M280.0 107.5L294.4 112.6M277.1 110.8L284.3 113.3"/>
<path d="M257.6 194.5L285.0 172.5M285.0 172.5L298.4 180.0M281.6 175.3L288.2 179.0"/>
<path d="M257.6 256.5L285.0 236.2M285.0 236.2L298.0 244.3M281.5 238.9L287.9 242.8"/>
<path d="M257.6 319.1L280.0 295.0M280.0 295.0L294.3 300.5M277.0 298.2L291.3 303.7"/>
<path d="M257.6 382.3L280.0 352.0M280.0 352.0L294.8 355.8M277.4 355.5L292.2 359.4M274.8 359.1L282.1 361.0"/>
<path d="M257.6 445.9L281.9 422.6M281.9 422.6L295.9 428.8M278.7 425.6L292.7 431.9"/>
<path d="M257.6 510.0L286.2 494.5M286.2 494.5L298.0 504.2M282.4 496.6L288.2 501.4"/>
<path d="M257.6 574.4L282.8 552.1M282.8 552.1L296.5 558.9M279.5 555.0L286.3 558.4"/>
<path d="M257.6 639.3L285.4 620.2M285.4 620.2L298.1 628.7M281.8 622.7L294.5 631.2"/>
<path d="M257.6 704.5L283.8 682.0M283.8 682.0L297.3 689.0M280.4 684.9L294.0 691.9"/>
<path d="M257.6 770.2L290.0 764.5M290.0 764.5L298.1 777.5M285.7 765.3L289.7 771.7"/>
<path d="M257.6 836.2L291.2 828.0M291.2 828.0L300.2 840.4M287.0 829.0L291.4 835.2"/>
<path d="M257.6 902.5L290.0 892.5M290.0 892.5L299.7 904.4M285.8 893.8L295.5 905.7"/>
<path d="M314.1 132.9L338.8 108.8M338.8 108.8L352.8 114.9M335.6 111.8L342.6 114.9"/>
<path d="M314.1 194.5L341.2 173.8M341.2 173.8L354.4 181.5M337.8 176.4L344.3 180.3"/>
<path d="M314.1 256.5L340.0 236.2M340.0 236.2L353.3 243.9M336.5 239.0L349.8 246.6"/>
<path d="M314.1 319.1L342.5 294.5M342.5 294.5L356.1 301.5M339.2 297.4L352.8 304.4"/>
<path d="M314.1 382.3L340.0 358.2M340.0 358.2L353.9 364.7M336.8 361.2L350.6 367.7"/>
<path d="M314.1 445.9L340.0 424.3M340.0 424.3L353.5 431.6M336.6 427.2L350.1 434.4"/>
<path d="M314.1 510.0L346.2 505.0M346.2 505.0L354.1 518.1M341.9 505.7L345.8 512.2"/>
<path d="M314.1 574.4L344.9 560.6M344.9 560.6L355.9 571.2M340.8 562.4L346.3 567.7"/>
<path d="M314.1 639.3L345.0 630.2M345.0 630.2L354.5 642.3M340.8 631.5L350.3 643.5"/>
<path d="M314.1 704.5L345.5 691.0M345.5 691.0L356.4 701.8M341.5 692.7L352.3 703.5"/>
<path d="M314.1 770.2L346.2 760.2M346.2 760.2L355.9 772.1M342.0 761.6L351.7 773.4"/>
<path d="M314.1 902.5L346.2 887.5M346.2 887.5L357.4 897.9M342.3 889.4L347.8 894.5"/>
<path d="M370.6 132.9L391.2 112.5M391.2 112.5L405.3 118.6"/>
<path d="M370.6 194.5L396.2 172.5M396.2 172.5L409.8 179.5M392.9 175.4L399.7 178.9"/>
<path d="M370.6 256.5L395.0 234.5M395.0 234.5L408.8 241.2M391.7 237.4L405.5 244.1"/>
<path d="M370.6 319.1L400.0 298.0M400.0 298.0L412.9 306.2M396.4 300.6L409.4 308.7"/>
<path d="M370.6 382.3L400.0 364.5M400.0 364.5L412.2 373.7M396.2 366.8L402.3 371.3"/>
<path d="M370.6 445.9L386.2 414.5M386.2 414.5L401.5 415.7M384.3 418.4L391.9 419.0"/>
<path d="M370.6 510.0L402.5 498.2M402.5 498.2L412.8 509.6M398.4 499.8L403.5 505.4"/>
<path d="M370.6 574.4L397.5 559.0M397.5 559.0L409.5 568.5M393.7 561.2L399.7 565.9"/>
<path d="M370.6 639.3L403.8 632.8M403.8 632.8L412.1 645.6M399.4 633.6L403.6 640.0"/>
<path d="M370.6 704.5L402.5 691.5M402.5 691.5L413.2 702.5M398.4 693.2L409.1 704.1"/>
<path d="M370.6 770.2L402.5 758.2M402.5 758.2L412.8 769.5M398.4 759.8L408.7 771.1"/>
<path d="M370.6 836.2L399.1 829.3"/>
<path d="M370.6 902.5L407.5 887.5M407.5 887.5L418.2 898.5M403.4 889.2L414.1 900.1M399.3 890.8L404.6 896.3"/>
<path d="M427.1 132.9L447.5 111.2M447.5 111.2L461.8 116.8"/>
<path d="M427.1 194.5L449.5 175.0M449.5 175.0L463.1 181.9"/>
<path d="M427.1 256.5L450.0 232.0M450.0 232.0L464.3 237.5M447.0 235.2L461.3 240.7"/>
<path d="M427.1 319.1L456.2 296.2M456.2 296.2L469.5 303.9M452.8 299.0L466.0 306.6"/>
<path d="M427.1 382.3L457.5 366.5M457.5 366.5L469.1 376.4M453.6 368.5L459.4 373.5"/>
<path d="M427.1 445.9L447.5 419.5M447.5 419.5L462.2 423.6M444.8 423.0L452.1 425.0"/>
<path d="M427.1 510.0L451.2 487.0M451.2 487.0L465.2 493.3M448.1 490.0L455.0 493.2"/>
<path d="M427.1 574.4L454.6 554.9M454.6 554.9L467.5 563.1M451.0 557.4L457.4 561.5"/>
<path d="M427.1 639.3L460.0 634.8M460.0 634.8L467.6 648.0M455.6 635.4L463.3 648.6"/>
<path d="M427.1 704.5L460.0 701.0M460.0 701.0L467.2 714.5M455.6 701.5L462.8 715.0"/>
<path d="M427.1 770.2L461.2 772.8M461.2 772.8L465.9 787.3M456.9 772.4L459.2 779.7"/>
<path d="M427.1 836.2L465.0 827.5M465.0 827.5L473.8 840.0M460.7 828.5L469.5 841.0M456.4 829.5L460.8 835.7"/>
<path d="M427.1 902.5L462.5 884.5M462.5 884.5L474.0 894.5M458.6 886.5L470.1 896.5M454.7 888.5L460.4 893.5"/>
<path d="M483.6 132.9L503.8 112.5M503.8 112.5L517.9 118.4"/>
<path d="M483.6 194.5L502.5 172.0M502.5 172.0L517.0 176.7"/>
<path d="M483.6 256.5L505.0 231.2M505.0 231.2L519.5 236.0M502.2 234.6L509.4 237.0"/>
<path d="M483.6 319.1L506.2 294.5M506.2 294.5L520.6 299.9M503.3 297.7L510.4 300.4"/>
<path d="M483.6 382.3L515.0 364.5M515.0 364.5L527.0 374.0M511.2 366.7L517.1 371.4"/>
<path d="M483.6 445.9L515.0 430.0M515.0 430.0L526.5 440.1M511.1 432.0L516.8 437.0"/>
<path d="M483.6 510.0L479.5 480.0M479.9 483.0L486.5 479.2"/>
<path d="M483.6 574.4L516.2 572.0M516.2 572.0L523.0 585.7"/>
<path d="M483.6 639.3L516.2 639.5M516.2 639.5L521.9 653.7M511.9 639.5L517.5 653.7"/>
<path d="M483.6 704.5L516.2 695.2M516.2 695.2L525.6 707.3M512.0 696.4L521.4 708.5"/>
<path d="M483.6 770.2L517.0 770.2M517.0 770.2L522.7 784.4M512.6 770.2L518.3 784.4"/>
<path d="M483.6 836.2L517.5 832.0M517.5 832.0L524.9 845.4M513.1 832.5L520.6 845.9"/>
<path d="M483.6 902.5L514.5 895.0M514.5 895.0L523.4 907.4M510.2 896.0L519.1 908.5"/>
<path d="M540.1 132.9L561.2 107.5M561.2 107.5L575.8 112.2M558.4 110.9L565.7 113.2"/>
<path d="M540.1 194.5L562.5 173.0M562.5 173.0L576.5 179.3M559.3 176.0L566.3 179.2"/>
<path d="M540.1 256.5L561.2 229.5M561.2 229.5L576.0 233.7M558.5 233.0L573.2 237.2"/>
<path d="M540.1 319.1L570.0 302.5M570.0 302.5L581.9 312.1M566.2 304.6L572.1 309.4"/>
<path d="M540.1 382.3L565.0 360.8M565.0 360.8L578.6 367.7M561.7 363.6L568.4 367.1"/>
<path d="M540.1 445.9L570.0 429.0M570.0 429.0L582.0 438.5M566.2 431.2L572.1 435.9"/>
<path d="M540.1 510.0L545.0 483.2M544.5 486.2L551.9 484.7"/>
<path d="M540.1 574.4L572.5 579.5M572.5 579.5L576.0 594.4M568.2 578.8L569.9 586.2"/>
<path d="M540.1 639.3L572.5 635.2M572.5 635.2L579.9 648.6M568.1 635.8L575.6 649.2"/>
<path d="M540.1 704.5L572.5 697.2M572.5 697.2L581.2 709.8M568.2 698.2L576.9 710.8"/>
<path d="M540.1 770.2L573.8 765.2M573.8 765.2L581.5 778.5M569.4 765.9L577.1 779.1"/>
<path d="M540.1 836.2L576.2 840.0M576.2 840.0L580.5 854.7M571.9 839.5L576.1 854.2"/>
<path d="M540.1 902.5L576.2 892.5M576.2 892.5L585.6 904.6M572.0 893.7L581.3 905.8"/>
<path d="M596.6 132.9L613.8 109.5M613.8 109.5L628.6 113.3"/>
<path d="M596.6 194.5L615.0 166.2M615.0 166.2L630.0 169.2M612.6 169.9L620.1 171.4"/>
<path d="M596.6 256.5L616.2 231.2M616.2 231.2L631.0 235.4M613.5 234.7L628.3 238.9"/>
<path d="M596.6 319.1L620.0 295.0M620.0 295.0L634.2 300.8M616.9 298.2L624.0 301.0"/>
<path d="M596.6 382.3L621.2 369.5M621.2 369.5L632.9 379.4"/>
<path d="M596.6 445.9L625.0 445.8M622.0 445.8L624.9 452.8"/>
<path d="M596.6 510.0L619.1 491.2M616.8 493.1L623.5 496.7"/>
<path d="M596.6 574.4L629.7 567.8M629.7 567.8L638.0 580.6M625.3 568.7L629.5 575.1"/>
<path d="M596.6 639.3L629.8 632.8M629.8 632.8L638.1 645.6M625.4 633.6L633.8 646.4"/>
<path d="M596.6 704.5L629.8 700.2M629.8 700.2L637.2 713.6M625.4 700.8L632.9 714.2"/>
<path d="M596.6 770.2L629.8 774.5M629.8 774.5L633.6 789.3M625.4 773.9L629.2 788.7"/>
<path d="M596.6 836.2L629.8 843.8M629.8 843.8L632.2 858.9M625.5 842.8L627.9 857.9"/>
<path d="M596.6 902.5L629.8 896.2M629.8 896.2L638.0 909.1M625.4 897.1L633.7 909.9"/>
<path d="M653.1 132.9L668.8 108.0M668.8 108.0L683.8 110.7"/>
<path d="M653.1 194.5L670.0 165.5M670.0 165.5L685.1 167.7M667.8 169.3L675.3 170.4"/>
<path d="M653.1 256.5L676.2 232.0M676.2 232.0L690.5 237.6M673.2 235.2L687.5 240.8"/>
<path d="M653.1 319.1L683.8 316.2M680.8 316.5L684.3 323.3"/>
<path d="M681.2 373.2L691.0 385.0"/>
<path d="M653.1 445.9L688.8 444.0M688.8 444.0L695.2 457.9M684.4 444.2L687.6 451.1"/>
<path d="M653.1 510.0L681.7 503.5M678.7 504.1L683.1 510.4"/>
<path d="M653.1 574.4L682.4 573.0M679.4 573.2L682.5 580.1"/>
<path d="M653.1 639.3L687.5 633.5M687.5 633.5L695.5 646.5M683.2 634.2L691.2 647.3"/>
<path d="M653.1 704.5L688.0 701.5M688.0 701.5L694.9 715.1M683.6 701.9L690.5 715.5"/>
<path d="M653.1 770.2L688.0 778.5M688.0 778.5L690.3 793.6M683.7 777.5L684.9 785.0"/>
<path d="M653.1 836.2L688.0 843.0M688.0 843.0L690.9 858.0M683.7 842.2L686.6 857.2"/>
<path d="M653.1 902.5L687.5 898.0M687.5 898.0L695.0 911.3M683.1 898.6L690.7 911.9"/>
<path d="M709.6 132.9L718.8 104.5M718.8 104.5L734.0 103.4"/>
<path d="M709.6 194.5L728.0 166.2M728.0 166.2L743.0 169.2M725.6 169.9L733.1 171.4"/>
<path d="M709.6 256.5L737.5 238.8M737.5 238.8L750.0 247.6M733.8 241.1L746.2 250.0"/>
<path d="M709.6 319.1L738.0 300.5M738.0 300.5L750.6 309.2M734.3 302.9L740.6 307.2"/>
<path d="M737.5 372.0L747.8 383.3"/>
<path d="M709.6 445.9L740.0 443.5M740.0 443.5L746.8 457.2"/>
<path d="M709.6 510.0L739.5 507.0M739.5 507.0L746.6 520.5"/>
<path d="M709.6 574.4L744.5 577.8M744.5 577.8L748.8 592.4M740.1 577.3L742.3 584.6"/>
<path d="M709.6 639.3L744.5 640.2M744.5 640.2L749.8 654.6M740.1 640.1L742.8 647.3"/>
<path d="M709.6 704.5L744.5 700.2M744.5 700.2L751.9 713.6M740.1 700.8L743.8 707.4"/>
<path d="M709.6 770.2L744.5 769.0M744.5 769.0L750.7 783.0M740.1 769.2L743.2 776.1"/>
<path d="M709.6 836.2L744.5 836.2M744.5 836.2L750.2 850.4M740.1 836.2L745.8 850.4"/>
<path d="M709.6 902.5L743.8 898.8M743.8 898.8L751.0 912.2M739.4 899.2L746.6 912.7"/>
<path d="M766.1 132.9L773.8 103.8M773.8 103.8L788.9 101.8"/>
<path d="M766.1 194.5L786.2 168.0M784.4 170.4L791.8 172.4"/>
<path d="M766.1 256.5L790.0 232.0M790.0 232.0L804.2 237.8M786.9 235.1L794.0 238.0"/>
<path d="M766.1 319.1L791.2 303.0M791.2 303.0L803.7 311.9"/>
<path d="M766.1 382.3L796.2 379.5M796.2 379.5L803.3 393.1"/>
<path d="M766.1 445.9L796.2 442.5M796.2 442.5L803.5 456.0"/>
<path d="M766.1 510.0L795.0 518.2"/>
<path d="M766.1 574.4L796.2 563.5M796.2 563.5L806.5 574.9M792.1 565.0L797.2 570.7"/>
<path d="M766.1 639.3L801.2 643.5M801.2 643.5L805.3 658.3M796.9 643.0L798.9 650.3"/>
<path d="M766.1 704.5L802.0 702.2M802.0 702.2L808.6 716.0M797.6 702.5L804.2 716.3"/>
<path d="M766.1 770.2L800.0 767.0M800.0 767.0L807.0 780.6M795.6 767.4L802.7 781.0"/>
<path d="M766.1 836.2L800.5 832.5M800.5 832.5L807.7 846.0M796.1 833.0L803.3 846.5"/>
<path d="M766.1 902.5L800.0 898.0M800.0 898.0L807.5 911.3M795.6 898.6L803.2 911.9"/>
<path d="M822.6 132.9L835.0 106.2M835.0 106.2L850.3 107.0"/>
<path d="M822.6 194.5L842.5 167.0M842.5 167.0L857.4 170.7M839.9 170.6L847.3 172.4"/>
<path d="M822.6 256.5L847.5 233.8M847.5 233.8L861.3 240.4M844.3 236.7L858.1 243.3"/>
<path d="M822.6 319.1L846.2 302.0M846.2 302.0L859.2 310.1"/>
<path d="M822.6 382.3L851.2 374.5M848.4 375.3L853.0 381.3"/>
<path d="M822.6 445.9L852.0 440.8M852.0 440.8L860.1 453.7"/>
<path d="M822.6 510.0L856.2 510.8M856.2 510.8L861.7 525.1M851.9 510.7L854.5 517.8"/>
<path d="M822.6 574.4L856.2 569.0M856.2 569.0L864.2 582.1M851.9 569.7L855.8 576.2"/>
<path d="M822.6 639.3L858.0 637.0M858.0 637.0L864.6 650.8M853.6 637.3L856.9 644.1"/>
<path d="M822.6 704.5L856.2 697.0M856.2 697.0L864.9 709.6M852.0 698.0L856.3 704.2"/>
<path d="M822.6 770.2L857.5 775.2M857.5 775.2L861.1 790.1M853.1 774.6L856.8 789.5"/>
<path d="M822.6 836.2L858.0 838.8M858.0 838.8L862.7 853.3M853.6 838.4L858.3 853.0"/>
<path d="M822.6 902.5L857.5 900.0M857.5 900.0L864.2 913.7M853.1 900.3L859.8 914.1"/>
<path d="M879.1 132.9L891.2 106.2M891.2 106.2L906.5 106.9"/>
<path d="M879.1 194.5L903.8 171.2M903.8 171.2L917.7 177.6M900.5 174.3L914.5 180.7"/>
<path d="M879.1 256.5L907.5 235.0M907.5 235.0L920.6 242.9M904.0 237.7L910.5 241.6"/>
<path d="M879.1 319.1L903.0 302.0M903.0 302.0L915.9 310.2"/>
<path d="M879.1 382.3L907.5 374.0M904.6 374.8L909.3 380.8"/>
<path d="M879.1 445.9L908.0 439.5M908.0 439.5L916.7 452.1"/>
<path d="M879.1 510.0L910.0 504.0M910.0 504.0L918.3 516.8M905.7 504.8L909.8 511.2"/>
<path d="M879.1 574.4L908.1 570.4M908.1 570.4L915.7 583.6"/>
<path d="M879.1 639.3L908.8 636.5M908.8 636.5L915.8 650.1"/>
<path d="M879.1 704.5L912.5 700.2M912.5 700.2L920.0 713.6M908.1 700.8L911.8 707.4"/>
<path d="M879.1 770.2L913.8 767.0M913.8 767.0L920.8 780.6M909.4 767.4L916.4 781.0"/>
<path d="M879.1 836.2L913.8 835.0M913.8 835.0L920.0 849.0M909.4 835.2L915.6 849.1"/>
<path d="M879.1 902.5L913.8 897.5M913.8 897.5L921.4 910.7M909.4 898.1L917.1 911.4"/>
<path d="M935.6 132.9L947.5 102.5M947.5 102.5L962.8 102.3M945.9 106.6L953.5 106.5"/>
<path d="M935.6 194.5L943.8 161.2M943.8 161.2L958.9 159.1M942.7 165.5L950.2 164.4"/>
<path d="M935.6 256.5L961.2 242.0M961.2 242.0L973.2 251.5"/>
<path d="M935.6 319.1L960.0 302.0M960.0 302.0L972.8 310.3"/>
<path d="M935.6 382.3L965.0 375.8M962.1 376.4L966.4 382.7"/>
<path d="M935.6 445.9L965.5 441.5M965.5 441.5L973.2 454.7"/>
<path d="M935.6 510.0L970.5 504.0M970.5 504.0L978.6 517.0M966.2 504.7L970.2 511.2"/>
<path d="M935.6 574.4L966.2 568.5M963.3 569.1L967.4 575.4"/>
<path d="M935.6 639.3L970.0 643.5M970.0 643.5L974.0 658.3M965.6 643.0L969.6 657.7"/>
<path d="M935.6 704.5L967.5 697.0M967.5 697.0L976.3 709.5"/>
<path d="M935.6 770.2L967.5 768.5M967.5 768.5L974.0 782.4M963.1 768.7L969.6 782.6"/>
<path d="M935.6 836.2L967.5 831.2M967.5 831.2L975.3 844.4M963.2 831.9L971.0 845.1"/>
<path d="M935.6 902.5L967.5 897.0M967.5 897.0L975.6 910.0M963.2 897.7L967.2 904.2"/>
<path d="M992.1 132.9L1010.0 105.0M1010.0 105.0L1025.0 107.8M1007.6 108.7L1015.1 110.1"/>
<path d="M992.1 194.5L1016.2 172.5M1016.2 172.5L1030.0 179.1M1013.0 175.5L1019.8 178.8"/>
<path d="M992.1 256.5L1022.5 261.2M1019.5 260.8L1021.3 268.2"/>
<path d="M992.1 319.1L1017.5 314.5M1017.5 314.5L1025.7 327.4"/>
<path d="M992.1 382.3L1017.5 367.5M1014.9 369.0L1020.9 373.7"/>
<path d="M992.1 445.9L1022.5 441.5M1022.5 441.5L1030.2 454.7"/>
<path d="M992.1 510.0L1028.0 505.0M1028.0 505.0L1035.6 518.3M1023.6 505.6L1027.4 512.2"/>
<path d="M992.1 574.4L1025.0 568.5M1025.0 568.5L1033.1 581.5"/>
<path d="M992.1 639.3L1025.0 639.0M1025.0 639.0L1030.9 653.1M1020.6 639.0L1023.5 646.1"/>
<path d="M992.1 704.5L1023.8 703.5M1023.8 703.5L1029.9 717.5M1019.4 703.6L1022.4 710.6"/>
<path d="M992.1 770.2L1023.8 765.2M1023.8 765.2L1031.6 778.4M1019.4 765.9L1023.3 772.5"/>
<path d="M992.1 836.2L1025.0 832.0M1025.0 832.0L1032.5 845.3M1020.6 832.6L1024.4 839.2"/>
<path d="M992.1 902.5L1025.0 897.0M1025.0 897.0L1033.0 910.0M1020.7 897.7L1024.6 904.2"/>
<path d="M1048.6 132.9L1061.2 102.5M1061.2 102.5L1076.5 102.7M1059.6 106.6L1067.2 106.6"/>
<path d="M1048.6 256.5L1057.5 282.5M1056.5 279.7L1050.8 284.6"/>
<path d="M1048.6 319.1L1078.8 322.5M1075.8 322.2L1077.8 329.5"/>
<path d="M1048.6 382.3L1078.0 376.5M1075.1 377.1L1079.2 383.4"/>
<path d="M1048.6 445.9L1077.0 437.0M1077.0 437.0L1086.7 448.8"/>
<path d="M1048.6 510.0L1083.8 503.2M1083.8 503.2L1092.1 516.1M1079.4 504.1L1083.6 510.5"/>
<path d="M1048.6 574.4L1076.2 564.6M1076.2 564.6L1086.4 576.0"/>
<path d="M1048.6 639.3L1084.5 642.0M1084.5 642.0L1089.2 656.6M1080.1 641.7L1082.4 648.9"/>
<path d="M1048.6 704.5L1080.5 694.0M1080.5 694.0L1090.4 705.7M1076.3 695.4L1081.2 701.2"/>
<path d="M1048.6 770.2L1077.2 763.9M1077.2 763.9L1085.9 776.5"/>
<path d="M1048.6 836.2L1077.6 832.1M1077.6 832.1L1085.3 845.4"/>
<path d="M1048.6 902.5L1077.4 897.4M1077.4 897.4L1085.6 910.3"/>
<path d="M1105.1 132.9L1128.8 116.2M1126.3 118.0L1132.7 122.1"/>
<path d="M1105.1 194.5L1087.5 222.5M1089.1 220.0L1081.6 218.6"/>
<path d="M1105.1 256.5L1131.2 266.2M1128.4 265.2L1128.6 272.8"/>
<path d="M1105.1 319.1L1132.5 322.0M1129.5 321.7L1131.6 329.0"/>
<path d="M1105.1 382.3L1132.5 386.5M1129.5 386.0L1131.3 393.4"/>
<path d="M1105.1 445.9L1132.5 429.5M1132.5 429.5L1144.7 438.7"/>
<path d="M1105.1 510.0L1137.3 500.0M1137.3 500.0L1147.0 511.9M1133.1 501.3L1137.9 507.2"/>
<path d="M1105.1 574.4L1132.5 562.8M1132.5 562.8L1143.3 573.6"/>
<path d="M1105.1 639.3L1138.7 637.4M1138.7 637.4L1145.3 651.2M1134.4 637.6L1137.6 644.5"/>
<path d="M1105.1 704.5L1138.1 697.9M1138.1 697.9L1146.6 710.6M1133.8 698.7L1138.0 705.1"/>
<path d="M1105.1 770.2L1132.5 762.8M1132.5 762.8L1141.8 774.9"/>
<path d="M1105.1 836.2L1132.5 833.0M1132.5 833.0L1139.8 846.4"/>
<path d="M1105.1 902.5L1132.5 898.8M1132.5 898.8L1140.1 912.0"/>
</g>
<g clip-path="url(#cp)" stroke="#000" stroke-width="1.05" fill="none" stroke-linejoin="round" stroke-linecap="round">
<path d="M104.5 101.9 L105.5 105.0 L107.8 107.8 L106.5 110.8 L107.5 112.5 L108.8 109.0 L112.5 108.5 L116.2 110.0 L120.0 111.9 L123.5 113.5 L124.5 116.0 L123.5 118.8 L126.0 121.0 L127.8 124.4 L129.5 127.5 L131.2 130.0 L130.5 132.8 L132.2 135.6 L133.0 138.8 L133.8 141.2 L137.2 142.2 L140.6 143.5 L142.9 145.2 L143.8 147.8 L141.5 149.2 L139.5 147.5 L136.2 144.4 L133.5 141.9 L131.5 144.8 L131.5 148.1 L133.0 151.2 L134.8 153.4 L138.8 153.5 L142.5 152.5 L146.2 150.2 L148.8 151.5 L151.9 152.0 L155.6 151.2 L158.8 149.5 L161.2 146.8 L164.0 148.2 L166.5 147.5 L168.8 145.2 L171.0 143.1 L172.0 141.2 L171.5 137.5 L170.8 132.8 L172.2 128.5 L174.0 123.8 L176.2 118.8 L178.2 114.0 L179.9 111.2"/>
<path d="M174.5 127.0 L177.5 122.0 L180.0 117.0 L181.5 110.5 L180.5 105.0 L181.5 102.0"/>
<path d="M168.8 145.0 L171.2 141.2 L174.5 142.5 L172.5 146.2 L169.0 148.8 L167.0 153.0 L165.0 154.0 L166.5 150.0 L168.8 145.0"/>
<path d="M177.5 132.5 L176.0 138.0"/>
<path d="M180.0 118.0 L179.0 122.0"/>
<path d="M163.0 157.5 L160.0 161.0"/>
<path d="M156.2 164.2 L152.5 167.5"/>
<path d="M147.5 170.0 L143.8 172.0"/>
<path d="M140.0 174.0 L133.5 177.0"/>
<path d="M120.5 174.5 L122.5 175.5 L124.0 180.0 L122.0 179.0 L120.5 174.5Z"/>
<path d="M101.2 186.0 L105.0 184.5 L109.5 183.0 L112.5 180.0 L115.5 178.5 L117.5 181.0 L115.0 182.5 L111.2 184.0 L106.2 185.5 L101.2 186.0"/>
<path d="M35.0 274.3 L37.5 273.8 L40.0 275.2 L42.5 273.2 L46.7 274.3 L49.2 271.8 L53.4 272.2 L58.4 271.5 L63.4 270.2 L68.5 268.5 L73.5 266.0 L78.5 263.8 L85.2 263.1 L91.9 262.6 L96.9 263.8 L103.6 264.8 L111.9 264.8 L114.4 267.7 L116.1 270.2 L118.6 268.5 L123.6 266.8 L127.0 265.2 L132.0 261.8 L129.0 266.0 L130.3 269.3 L132.3 272.2 L135.4 271.8 L138.7 268.5 L143.7 265.5 L149.1 264.3 L145.4 266.8 L142.0 269.3 L147.1 269.5 L153.7 268.5 L157.9 267.7 L159.6 271.0 L162.1 273.5 L167.1 275.5 L172.1 277.7 L177.2 278.2 L181.3 277.2 L185.5 278.5 L188.0 281.9 L193.0 283.5 L197.2 285.2 L203.1 286.9 L204.7 290.2 L205.6 294.4 L208.9 298.6 L212.3 301.9 L215.6 305.3 L220.6 307.8 L225.7 307.8 L230.0 307.0"/>
<path d="M204.7 283.5 L207.6 284.9 L212.6 288.9 L218.6 293.9 L217.3 294.2 L211.4 290.2 L206.4 286.1 L204.7 283.5Z"/>
<path d="M176.3 267.3 L178.5 268.5"/>
<path d="M182.5 269.5 L184.5 271.2"/>
<path d="M189.2 275.5 L191.2 276.9"/>
<path d="M193.5 279.5 L195.6 281.2"/>
<path d="M170.5 273.2 L173.8 273.8 L176.8 275.2"/>
<path d="M35.0 311.5 L38.4 311.1 L40.0 307.0 L43.4 302.8 L48.4 299.4 L53.4 296.1 L55.9 291.9 L58.4 290.6 L63.4 291.1 L71.8 291.6 L80.2 291.1 L85.2 292.2 L91.9 291.9 L98.6 291.6 L103.6 293.6 L107.8 296.6 L109.9 299.4 L108.6 302.3 L105.3 304.4 L100.2 305.6 L93.5 305.6 L87.7 306.1 L85.2 307.0 L86.9 309.5 L90.2 312.0 L93.5 313.6 L96.9 315.7 L100.2 318.7 L103.6 320.3 L106.9 319.5 L110.3 319.0 L115.3 320.0 L118.6 320.3 L122.0 322.3 L123.6 324.5 L126.2 323.7 L128.7 324.5 L130.3 320.3 L130.0 315.7 L132.3 315.0 L133.7 318.7 L134.5 322.8 L136.2 325.4 L140.4 327.0 L147.1 327.0 L153.7 326.7 L160.4 326.2 L166.3 325.4 L167.1 322.0 L164.6 320.0 L162.1 321.2 L163.8 323.7 L167.1 327.0 L169.6 330.4 L172.1 333.7 L177.2 337.1 L182.2 340.4 L187.2 343.7 L192.2 344.6 L194.7 347.9 L198.9 347.4 L202.2 349.6 L207.3 351.3 L212.3 352.9 L217.3 354.6 L222.3 355.5 L230.0 355.1"/>
<path d="M45.9 333.7 L51.7 334.0 L56.8 335.1 L60.1 337.9 L62.6 341.2 L65.1 345.4 L66.0 352.1 L63.4 356.3 L58.4 359.6 L53.4 361.8 L48.4 362.5 L43.4 361.3 L39.2 358.8 L37.0 355.8 L37.5 352.9 L40.9 354.6 L44.2 355.1 L46.7 352.9 L45.1 348.8 L43.4 345.4 L41.4 342.1 L42.5 337.9Z"/>
<path d="M113.3 352.4 L117.0 350.4 L121.1 347.1 L122.3 346.3 L120.3 349.6 L116.1 352.4Z"/>
<path d="M229.9 307.1 L233.6 307.5 L237.0 307.1 L242.0 308.1"/>
<path d="M204.3 284.7 L206.9 284.2 L210.2 286.7 L214.4 290.1 L218.2 293.4 L216.9 294.4 L212.7 291.7 L208.5 288.7 L205.2 287.1Z"/>
<path d="M230.3 292.1 L233.3 292.7 L236.1 292.6 L233.6 291.7Z"/>
<path d="M250.3 302.1 L249.3 300.1 L252.0 299.4 L257.0 300.1 L262.0 298.8 L264.5 299.4 L265.7 301.4"/>
<path d="M263.4 316.8 L267.1 320.2 L272.1 322.7 L277.1 326.0 L280.4 329.4 L283.8 333.5 L287.1 337.2 L288.8 336.9 L292.1 340.2 L297.2 342.2 L302.2 342.7 L305.5 341.6 L310.5 342.2 L314.7 344.4 L318.9 347.8 L323.1 351.9 L323.9 352.8 L328.9 357.0 L332.3 361.1 L336.5 363.6 L342.3 368.7 L346.5 370.3 L350.0 374.5"/>
<path d="M281.3 319.3 L283.8 317.7 L287.1 321.8 L285.8 325.2 L288.8 327.7 L293.8 326.0 L298.0 327.7 L298.8 332.7 L295.5 333.5 L291.3 332.2 L288.5 329.9 L285.5 328.5 L282.1 324.3Z"/>
<path d="M287.1 312.6 L289.6 314.8 L292.5 320.2 L291.3 320.5 L288.8 316.8 L286.5 313.5Z"/>
<path d="M301.3 335.2 L303.8 334.4 L307.2 338.6 L310.9 342.2 L315.6 344.9 L319.2 348.3 L323.2 352.3 L322.2 354.6 L317.2 353.6 L313.0 351.9 L308.9 348.6 L306.9 345.3 L308.9 347.3 L313.0 350.3 L318.1 352.3 L320.6 351.6 L317.2 348.6 L313.0 346.1 L308.9 343.6 L304.7 340.2 L301.8 337.7Z"/>
<path d="M333.9 367.8 L338.1 367.0 L340.6 364.6"/>
<path d="M342.3 370.3 L346.0 372.3 L350.0 375.4"/>
<path d="M162.5 319.8 L165.1 319.3 L166.7 321.8 L167.6 326.0 L165.9 326.9 L163.4 323.5Z"/>
<path d="M150.0 326.9 L156.7 327.2 L163.4 326.9 L166.7 326.9 L170.1 331.9 L175.1 336.1 L180.1 339.4 L186.0 343.6 L191.8 344.9 L194.3 347.8 L198.5 347.3 L203.5 349.9 L208.5 352.3 L214.4 353.9 L220.2 355.6 L225.3 355.6 L230.3 353.3 L237.0 352.3 L243.6 351.6 L247.8 351.9 L247.0 354.4 L250.3 356.1 L252.8 360.3 L255.0 365.3 L257.0 370.3 L256.7 375.4 L257.9 380.4 L258.7 385.4 L262.0 388.7 L266.2 391.2 L269.6 395.4 L273.7 399.6 L277.9 402.4 L282.1 403.4 L286.3 402.1 L292.1 403.4 L297.2 403.8 L302.2 404.6 L307.2 403.8 L311.4 402.4 L314.7 403.8 L317.2 406.3 L318.1 409.6"/>
<path d="M216.1 379.7 L217.7 380.4 L219.9 382.0 L218.2 381.7Z"/>
<path d="M223.6 386.1 L226.9 387.6 L230.3 391.7 L233.6 394.1 L237.0 395.4 L233.6 395.1 L229.9 392.9 L226.6 389.1Z"/>
<path d="M236.1 397.4 L240.3 398.8 L238.3 398.8Z"/>
<path d="M242.8 400.4 L245.0 401.4Z"/>
<path d="M255.4 403.3 L257.9 402.4 L260.4 402.1 L258.4 403.4Z"/>
<path d="M261.2 410.1 L263.4 411.3 L265.4 413.3 L263.0 412.5Z"/>
<path d="M270.0 321.7 L275.0 324.2 L280.0 329.3 L285.1 333.4 L288.4 336.0 L295.1 341.8 L301.8 343.1 L306.8 342.6 L311.8 343.8 L315.2 346.0 L318.5 349.3 L323.5 352.7 L328.5 357.7 L333.5 362.2 L336.9 364.4 L340.2 363.5 L343.6 366.1 L341.9 368.9 L344.4 371.1 L348.6 370.2 L351.9 372.2 L353.3 374.6 L350.3 375.6 L348.6 373.2 L353.6 371.1 L358.6 372.2 L363.6 375.3 L368.7 378.6 L370.3 381.6 L373.7 381.9 L378.7 380.3 L385.4 379.9 L390.4 380.3 L393.7 382.3 L395.1 385.3 L394.6 389.5 L392.1 391.6 L389.1 391.6 L387.1 394.0 L386.2 398.7 L386.7 401.7 L388.7 403.3 L392.1 403.7 L397.1 401.2 L402.1 402.0 L407.1 404.5 L408.8 405.7 L412.1 402.8 L417.2 403.3 L422.2 404.5 L427.2 405.4 L432.2 407.9 L435.6 410.4 L438.9 413.7 L442.2 417.1 L445.6 420.4 L450.6 422.9 L455.6 424.6 L460.6 426.3 L463.1 428.8 L464.0 432.1 L462.3 435.1 L459.0 437.1 L453.9 438.5 L447.3 438.8 L440.6 439.1 L433.9 440.5 L428.9 443.0 L423.8 445.5 L420.5 447.5 L417.2 448.5 L410.5 449.7 L403.8 449.2 L397.1 448.0 L390.4 445.8 L383.7 445.2 L377.0 445.2 L370.3 444.1 L363.6 443.5 L357.0 444.1 L350.3 445.2 L343.6 446.3 L336.9 447.2 L330.2 448.5 L323.5 449.7 L316.8 450.5 L310.1 451.3 L303.4 452.5 L296.8 453.0 L294.2 451.3 L293.7 448.8 L295.9 444.6 L299.3 440.5 L303.4 436.3 L308.5 432.1 L313.5 428.8 L317.7 426.8 L320.2 426.3"/>
<path d="M389.1 392.0 L392.1 393.0 L395.8 395.7 L399.1 399.0 L397.1 400.7 L393.7 399.7 L390.7 397.0 L388.4 394.6Z"/>
<path d="M415.8 441.3 L417.8 442.5 L418.5 445.8 L416.5 448.8 L414.1 447.8 L413.5 445.2Z"/>
<path d="M280.0 317.6 L282.5 321.7 L285.9 325.1 L290.1 325.9 L295.1 325.1 L299.3 327.6 L298.4 331.4 L293.4 330.4 L288.4 329.8 L286.7 332.8 L288.1 336.5 L285.4 333.4 L283.0 328.4 L280.4 323.4Z"/>
<path d="M287.1 313.0 L288.7 314.0 L291.4 318.7 L292.1 320.4 L290.4 319.7 L288.1 315.9Z"/>
<path d="M300.9 335.1 L303.4 334.3 L308.5 339.3 L313.5 344.3 L318.5 348.8 L323.2 353.2 L321.8 355.5 L317.2 355.2 L312.6 352.2 L308.8 348.5 L307.1 345.5 L310.1 347.7 L313.8 351.0 L317.7 352.7 L320.2 352.2 L316.8 348.8 L311.8 344.8 L307.1 341.0 L303.4 338.1Z"/>
<path d="M270.0 395.3 L273.3 398.7 L276.7 401.2 L281.7 402.3 L286.7 401.7 L291.7 403.3 L296.8 404.0 L300.9 405.4 L305.1 404.5 L310.1 402.3 L314.3 403.3 L317.7 406.2 L318.5 409.0 L317.2 409.7"/>
<path d="M333.2 367.7 L335.6 366.6 L337.7 367.2 L336.1 368.6Z"/>
<path d="M456.3 320.4 L457.6 317.4 L460.6 315.4 L464.0 312.4 L467.3 309.7 L470.0 308.4 L470.0 310.0 L465.7 313.4 L462.3 315.9 L459.3 318.4Z"/>
<path d="M308.8 102.5 L312.5 106.2 L317.5 110.0 L319.5 106.2 L320.0 102.0"/>
<path d="M286.2 116.2 L288.0 117.5 L290.0 120.0 L288.2 119.5Z"/>
<path d="M388.0 178.8 L391.2 178.0 L393.8 182.5 L396.2 188.8 L398.8 193.8 L402.5 198.8 L406.2 203.0 L408.8 207.5 L407.5 209.5 L402.5 209.5 L398.8 207.5 L401.2 205.0 L403.8 203.8 L401.2 200.0 L397.5 195.0 L394.5 190.0 L391.2 185.0Z"/>
<path d="M445.5 208.8 L448.8 209.5 L450.0 213.8 L447.5 218.8 L444.5 219.5 L443.8 215.0Z"/>
<path d="M406.2 235.5 L409.5 236.2 L412.5 241.2 L416.2 247.5 L420.0 255.0 L423.8 261.2 L427.5 267.5 L430.0 273.8 L430.5 280.0 L428.8 279.5 L426.2 273.8 L422.5 267.5 L418.8 262.0 L415.0 263.0 L412.5 260.0 L416.2 257.5 L415.0 251.2 L411.2 245.0 L408.0 240.0Z"/>
<path d="M374.5 235.5 L378.8 237.5 L382.5 241.2 L387.5 245.0 L392.5 247.5 L398.0 249.5 L397.0 250.5 L391.2 248.8 L385.5 246.2 L380.0 242.5 L375.5 239.5Z"/>
<path d="M425.0 233.8 L428.8 232.5 L432.5 233.8 L433.0 235.5 L428.8 236.5 L425.0 235.0Z"/>
<path d="M480.0 267.5 L483.0 268.0 L481.5 269.0Z"/>
<path d="M453.0 282.5 L457.5 283.8 L462.5 287.0 L467.0 288.0 L467.5 291.2 L462.5 290.5 L458.8 292.5 L456.2 296.2 L453.8 298.0 L452.5 295.0 L455.0 292.5 L457.5 288.8 L453.8 286.2Z"/>
<path d="M468.8 288.8 L473.8 288.0 L477.0 290.0 L477.5 295.0 L476.2 300.5 L472.5 306.2 L468.8 310.5 L465.0 314.5 L460.0 318.0 L456.2 320.0 L457.5 317.0 L462.5 313.8 L467.0 309.5 L470.5 305.0 L473.0 300.0 L472.5 295.0 L470.0 292.5Z"/>
<path d="M490.0 294.5 L493.8 295.0 L495.0 296.2 L491.2 295.8Z"/>
<path d="M509.5 305.0 L513.8 304.5 L518.8 307.0 L523.8 308.0 L527.5 310.0 L529.5 313.0 L526.2 312.5 L521.2 310.5 L516.2 310.5 L510.5 309.5 L508.8 307.0Z"/>
<path d="M483.0 386.2 L484.0 382.5 L488.0 379.0 L493.8 376.0 L500.0 374.5 L505.0 373.2 L510.0 371.0 L514.5 367.0 L516.5 370.0 L517.0 374.5 L516.0 379.5 L513.5 384.5 L509.0 388.0 L505.0 389.0"/>
<path d="M490.0 380.5 L496.2 378.0 L502.5 379.0 L508.0 376.5 L512.5 373.5"/>
<path d="M513.8 358.2 L517.0 355.0 L521.2 358.2 L517.5 362.0Z"/>
<path d="M562.5 333.2 L566.2 332.5 L568.8 335.8 L566.2 337.5 L562.5 335.8Z"/>
<path d="M571.2 339.0 L576.2 338.2 L580.5 340.0 L580.0 343.2 L575.0 342.5 L571.2 340.8Z"/>
<path d="M583.8 344.0 L588.8 345.8 L587.5 347.0 L583.8 345.8Z"/>
<path d="M547.5 338.2 L550.0 337.5 L553.8 340.8 L556.2 341.5 L553.8 344.0 L550.0 342.5Z"/>
<path d="M542.0 347.0 L543.0 350.0"/>
<path d="M603.8 357.5 L605.0 360.0"/>
<path d="M518.8 439.0 L522.5 437.5 L527.5 438.2 L532.5 440.8 L534.5 443.2 L530.0 443.2 L525.0 442.5 L520.5 441.5Z"/>
<path d="M514.4 465.2 L510.3 464.3 L505.3 464.8 L500.2 464.3 L496.9 462.6 L494.9 459.3 L496.1 456.0 L500.2 451.8 L506.9 449.3 L513.6 447.6 L520.3 446.8 L527.0 446.4 L532.0 447.6 L537.0 450.1 L542.0 453.1 L547.1 455.1 L550.4 456.5 L553.7 455.5 L557.1 456.5 L562.1 458.5 L567.1 459.3 L569.6 458.8 L572.1 460.1 L575.5 459.3 L577.2 454.3 L580.5 450.1 L585.5 448.4 L590.5 449.3 L595.6 450.9 L600.6 451.4 L605.6 449.8 L608.9 447.6 L613.9 447.6 L619.0 448.8 L624.0 451.8 L627.3 454.3 L630.0 456.0"/>
<path d="M527.0 472.7 L531.2 473.5 L531.7 476.0 L529.5 477.7 L530.3 481.0 L527.8 484.4 L527.0 488.6 L528.7 491.9 L526.7 495.3 L527.0 497.8 L530.3 500.3 L532.8 503.6 L536.2 507.0 L539.5 510.3 L542.9 513.3 L546.2 516.2 L548.7 518.7 L547.9 522.0 L547.1 524.5"/>
<path d="M500.2 527.0 L493.5 525.4 L488.5 524.5 L485.2 522.0 L480.2 521.2 L475.2 520.3 L470.1 520.0 L465.1 518.7 L460.1 518.3 L455.1 518.7 L450.9 520.3 L448.4 523.7 L447.6 528.7 L446.7 532.0 L449.2 535.4 L452.6 537.9 L456.8 539.6 L461.8 541.2 L466.8 543.7 L471.0 547.1 L473.8 551.3 L476.0 554.6 L478.5 553.8 L479.3 551.3 L478.5 547.9 L481.8 545.4 L485.2 542.9 L490.2 543.7 L495.2 542.1 L500.2 542.9 L505.3 544.6 L510.3 546.3 L517.0 547.9 L523.6 548.4 L530.3 547.1 L537.0 545.4 L543.7 544.1 L550.4 543.7 L557.1 544.1 L563.8 544.6 L568.8 546.3 L572.1 548.8 L575.5 552.1 L578.0 555.5 L579.7 559.6 L581.3 563.8 L583.0 568.0 L585.5 571.3 L588.9 574.7"/>
<path d="M479.3 520.3 L483.5 521.2 L486.9 523.7 L487.7 525.4 L483.5 525.7 L480.2 523.7Z"/>
<path d="M483.5 551.3 L486.9 550.9 L489.4 552.1 L486.9 552.9 L483.8 552.4Z"/>
<path d="M503.6 502.8 L506.9 501.6 L511.9 502.8 L517.0 505.3 L521.6 507.8 L525.3 511.1 L526.7 514.5 L525.3 516.7 L521.1 515.3 L516.1 514.0 L511.1 511.6 L506.9 508.6 L504.4 506.1Z"/>
<path d="M519.5 439.7 L522.8 438.1 L527.8 438.7 L532.0 440.9 L534.5 442.6 L530.3 443.1 L525.3 442.1 L521.6 441.4Z"/>
<path d="M576.8 454.3 L575.5 460.1 L577.2 465.2 L578.0 470.2 L577.2 475.2 L576.3 480.2 L577.2 483.5 L580.5 486.9 L581.3 491.1 L579.7 495.3 L577.2 498.6 L573.8 501.1 L572.1 502.8 L574.6 505.3 L577.2 508.6 L578.0 512.8 L576.8 517.0 L573.8 520.3 L570.5 522.0 L568.0 521.2 L565.8 520.3"/>
<path d="M562.1 519.5 L563.8 520.3 L565.5 522.8 L568.0 527.0 L568.8 528.7 L567.1 528.4 L564.6 525.4 L562.9 522.0Z"/>
<path d="M573.0 526.2 L577.2 524.5 L578.8 525.4 L575.5 527.0 L576.3 529.5 L573.8 528.7"/>
<path d="M570.5 529.5 L573.8 533.7 L576.3 537.9 L577.2 542.1 L576.5 547.1 L575.5 552.1"/>
<path d="M575.9 454.2 L578.4 450.0 L583.4 448.0 L588.4 448.7 L593.4 450.9 L598.4 452.5 L603.4 451.7 L608.5 447.5 L613.5 447.5 L618.5 449.2 L621.8 452.5 L626.9 455.9 L631.9 456.7 L636.1 455.4 L640.2 458.4 L644.4 461.7 L649.4 464.2 L653.6 463.4 L657.0 460.9 L661.1 461.4 L663.3 465.1 L664.5 470.1 L665.3 475.1 L667.8 479.3 L671.2 482.6 L675.4 483.1 L680.4 481.5 L687.1 481.0 L692.9 480.1 L695.1 479.3 L695.4 482.6 L697.9 484.8 L696.3 487.7 L693.7 488.5 L687.1 488.2 L680.4 487.7 L676.2 488.5 L675.7 491.8 L677.0 493.8 L681.2 494.3 L685.4 493.8 L688.7 496.0 L692.1 497.7 L697.1 498.5 L700.4 499.4 L703.8 500.2 L707.1 498.2 L710.5 499.4 L715.5 501.9 L719.7 505.2 L723.0 508.6 L727.2 512.7 L731.4 516.6 L734.7 519.9 L737.2 522.8 L736.9 525.3 L734.7 528.6 L733.0 531.6 L731.4 535.3 L728.0 536.2 L725.5 535.0 L723.8 538.7 L723.0 542.0 L720.5 544.5 L718.0 543.7 L717.2 540.3 L715.5 537.0 L713.0 534.5 L708.8 532.8 L703.8 533.6 L698.8 532.0 L693.7 531.1 L688.7 531.6 L683.7 531.1 L678.7 532.3 L675.4 531.1 L670.3 530.3 L665.3 529.5 L661.1 530.3 L657.8 532.8 L655.3 536.2 L652.8 539.5 L650.3 542.0 L645.3 542.8 L640.2 542.8 L635.2 544.5 L632.7 542.8 L631.0 539.5 L630.2 535.3 L628.5 532.3 L626.0 531.6 L623.8 533.6 L623.2 536.7"/>
<path d="M716.3 545.4 L719.7 544.5 L723.8 546.2 L725.5 548.4 L723.0 549.5 L718.8 549.0 L716.3 547.0Z"/>
<path d="M755.3 550.4 L757.3 549.0 L759.8 550.0 L759.3 552.4 L756.5 552.4Z"/>
<path d="M570.0 548.7 L573.3 552.0 L577.5 555.4 L580.0 559.6 L581.7 564.6 L581.4 569.1 L584.2 571.3 L587.6 572.9 L590.1 576.3 L592.6 577.1 L594.2 573.8 L595.9 569.6 L598.4 565.4 L601.8 561.2 L605.1 557.1 L607.6 552.0 L608.5 547.0 L608.1 542.0 L610.1 539.5 L613.8 541.2 L616.8 539.5 L618.5 536.7"/>
<path d="M585.9 578.8 L587.6 578.0 L588.1 580.5 L586.4 580.8Z"/>
<path d="M264.2 540.2 L265.9 535.5 L270.9 531.0 L276.8 531.0 L282.6 529.8 L286.8 526.5 L293.5 527.6 L301.9 528.8 L310.2 531.0 L318.6 532.1 L327.0 533.8 L332.8 533.8 L337.0 537.7 L340.3 541.0 L347.0 542.7 L353.7 545.2 L359.1 547.7 L362.1 552.7 L363.7 556.9 L365.4 561.1 L362.9 562.7 L357.1 563.6 L350.4 561.9 L343.7 560.2 L338.7 558.6 L335.3 560.2 L333.6 563.6 L330.3 565.3 L327.0 563.6 L323.6 562.7 L321.1 565.3 L320.3 568.6 L321.9 571.9 L319.9 572.8 L316.1 569.4 L312.7 566.1 L306.9 564.4 L301.9 563.9 L296.9 563.6 L292.7 562.2 L289.3 558.6 L286.0 554.4 L282.6 551.0 L280.1 546.9 L276.8 544.3 L271.8 543.8 L266.8 543.2Z"/>
<path d="M792.6 527.7 L790.1 531.8 L787.6 536.0 L789.3 540.2 L791.0 545.2 L791.8 550.2 L791.0 555.3 L791.0 558.6 L795.2 558.9 L800.2 558.3 L803.5 559.9 L808.5 557.8 L813.5 557.3 L818.6 558.3 L823.6 557.3 L828.6 558.3 L833.6 557.8 L838.6 558.6 L843.6 558.3 L848.7 557.3 L852.0 556.1 L855.4 551.9 L858.7 547.7 L862.0 545.2 L865.1 542.7 L865.4 538.5 L863.7 535.2 L860.4 533.2 L855.4 531.5 L850.3 530.2 L845.3 529.3 L840.3 529.8 L835.3 529.3"/>
<path d="M835.3 529.3 L838.6 531.0 L842.8 531.8 L842.0 533.2 L837.0 533.2"/>
<path d="M850.3 530.5 L857.0 533.2 L862.4 535.5"/>
<path d="M867.1 549.4 L870.4 547.7 L874.6 546.6 L878.8 547.2 L880.8 548.2 L877.1 550.2 L872.1 551.6 L867.9 551.6Z"/>
<path d="M877.9 536.9 L880.4 537.2 L882.4 539.4 L880.4 540.5 L878.8 538.5Z"/>
<path d="M892.1 535.2 L895.5 534.8 L899.7 536.0 L901.8 538.2 L898.8 538.5 L894.6 537.2Z"/>
<path d="M905.5 535.2 L908.0 532.2 L910.5 531.0 L913.9 530.2 L914.7 532.2 L911.4 533.8 L908.9 536.0 L908.0 538.5 L905.9 538.2Z"/>
<path d="M920.9 527.7 L925.3 527.2 L923.1 530.2Z"/>
<path d="M921.4 514.3 L924.7 513.4 L928.1 515.1 L928.6 516.5 L924.7 516.0 L921.4 515.1Z"/>
<path d="M899.2 569.5 L901.3 568.3 L905.5 568.6 L910.5 569.5 L914.7 570.3 L913.0 571.6 L908.9 572.8 L903.8 574.0 L899.7 573.6Z"/>
<path d="M921.2 514.0 L925.0 513.2 L928.8 515.0 L925.0 515.8Z"/>
<path d="M907.0 534.5 L910.0 532.0 L913.8 530.8 L912.5 534.0 L909.5 537.0 L907.0 537.5Z"/>
<path d="M921.2 527.0 L925.0 527.0 L923.8 530.0Z"/>
<path d="M980.0 544.5 L983.8 542.0 L988.0 540.8 L986.2 544.0 L982.5 546.5Z"/>
<path d="M982.0 550.0 L986.2 549.5 L987.5 553.2 L983.8 554.5Z"/>
<path d="M995.0 590.2 L998.8 592.8 L1002.5 596.5 L1005.0 600.2 L1001.2 599.0 L997.5 595.2Z"/>
<path d="M1005.0 601.5 L1008.8 601.5 L1009.5 606.5 L1006.2 607.0Z"/>
<path d="M1041.2 573.5 L1045.0 572.8 L1048.0 576.0 L1047.5 580.2 L1043.8 581.0 L1041.2 577.8Z"/>
<path d="M1041.2 605.2 L1045.0 603.5 L1049.5 605.2 L1050.5 609.0 L1048.8 612.0 L1044.5 612.8 L1041.2 610.2 L1040.5 607.0Z"/>
<path d="M1024.5 624.5 L1027.0 623.5 L1028.8 627.0 L1028.0 630.2 L1025.5 630.2 L1024.5 627.0Z"/>
<path d="M1045.0 651.5 L1048.0 649.5 L1052.0 651.0 L1055.0 655.2 L1056.2 661.5 L1055.5 666.5 L1052.5 670.2 L1049.5 671.0 L1047.0 667.8 L1045.0 661.5 L1044.5 656.5Z"/>
<path d="M1056.2 655.2 L1058.8 651.5 L1058.0 646.5 L1058.8 641.5 L1062.0 641.0 L1063.8 645.2 L1066.2 649.0 L1070.0 651.5 L1073.8 654.0 L1072.5 655.5 L1067.5 655.2 L1063.8 656.5 L1060.0 657.0 L1057.0 657.0Z"/>
<path d="M1067.0 671.0 L1070.0 669.5 L1073.0 671.5 L1072.5 675.2 L1069.5 676.5 L1067.0 674.0Z"/>
<path d="M1078.0 651.0 L1081.2 650.2 L1083.0 651.0 L1080.0 652.0Z"/>
<path d="M1060.0 691.5 L1062.5 690.2 L1066.2 692.8 L1068.8 697.8 L1070.0 704.0 L1069.5 709.0 L1067.0 712.8 L1064.5 712.0 L1062.5 707.8 L1061.2 701.5 L1060.0 696.5Z"/>
<path d="M1072.5 734.0 L1075.0 732.0 L1079.5 732.8 L1083.8 736.5 L1085.5 741.0 L1083.8 745.2 L1087.0 749.0 L1090.0 754.0 L1090.5 758.5 L1088.0 757.8 L1085.0 754.0 L1081.2 752.8 L1078.0 752.0 L1078.8 749.5 L1082.0 749.0 L1080.5 745.2 L1076.2 744.0 L1073.8 740.2 L1072.0 737.0Z"/>
<path d="M1080.5 780.0 L1083.8 777.5 L1087.0 778.8 L1088.0 783.8 L1087.5 790.0 L1086.2 795.0 L1084.5 798.0 L1081.2 796.2 L1079.5 791.2 L1078.8 785.5Z"/>
<path d="M1069.5 821.2 L1071.2 820.0 L1072.0 825.0 L1072.5 828.8 L1073.8 830.0 L1076.2 828.8 L1077.0 823.8 L1078.0 820.0 L1079.0 820.0 L1078.0 826.2 L1077.0 830.5 L1073.8 832.0 L1071.2 830.5 L1070.0 826.2Z"/>
<path d="M1070.0 837.5 L1073.0 836.2 L1072.0 839.5Z"/>
<path d="M1067.0 853.0 L1068.0 856.2"/>
<path d="M1059.5 867.0 L1062.0 865.5 L1063.0 868.8 L1060.5 870.0Z"/>
<path d="M550.0 901.2 L553.8 892.5 L556.2 885.0 L555.0 881.2 L558.8 881.2 L563.8 880.0 L566.2 877.5 L568.8 876.2 L571.2 873.8 L576.2 870.0 L581.2 868.8 L586.2 870.0 L591.2 872.0 L596.2 875.0 L601.2 880.0 L604.5 886.2 L605.5 892.5 L602.5 897.5 L597.5 901.2"/>
<path d="M563.8 881.2 L566.2 878.8 L569.5 880.0 L568.8 883.8 L565.5 885.5 L563.8 883.8Z"/>
<path d="M576.2 870.0 L578.8 871.2 L580.0 873.8 L577.5 874.5 L576.2 872.5Z"/>
<path d="M643.8 901.2 L646.2 893.8 L650.0 888.8 L655.0 885.0 L658.8 884.5 L662.5 887.5 L665.0 892.5 L667.0 897.5 L667.5 901.2"/>
<path d="M655.0 860.5 L657.0 860.0 L660.0 863.0 L663.0 867.5 L664.5 871.2 L662.0 871.2 L658.8 868.8 L656.2 865.0Z"/>
<path d="M697.5 874.5 L700.0 873.0 L703.0 875.0 L705.0 879.5 L708.8 883.8 L713.8 887.0 L717.0 890.0 L716.2 892.5 L712.5 892.0 L707.5 889.5 L703.0 885.0 L699.5 880.0Z"/>
<path d="M733.0 878.8 L735.5 877.5 L738.8 880.0 L742.5 882.0 L743.0 887.5 L742.0 893.8 L740.0 893.0 L739.5 887.5 L737.0 884.5 L733.8 882.0Z"/>
<path d="M35.0 724.0 L40.0 726.5 L35.0 729.5"/>
<path d="M35.0 751.5 L37.5 759.0 L37.5 766.5 L35.0 769.5"/>
<path d="M55.0 760.5 L58.0 758.8 L58.8 762.0 L56.2 762.5Z"/>
<path d="M122.5 817.0 L123.8 820.0"/>
<path d="M106.2 861.2 L107.5 864.5 L107.0 867.5 L105.8 865.0Z"/>
<path d="M267.2 173.7 L269.6 170.3 L271.9 168.0 L273.1 164.4 L273.7 160.8 L274.3 157.9 L273.1 154.3 L271.9 151.4 L271.4 149.2 L273.7 149.6 L275.5 151.1 L278.5 150.4 L281.1 151.4 L282.3 153.7 L282.6 157.3 L283.8 160.2 L285.6 163.2 L286.2 166.8 L287.4 169.7 L289.7 172.9 L292.1 175.7 L293.9 178.6 L293.7 182.2 L294.1 185.8 L294.8 188.7 L293.9 191.1 L290.9 192.3 L288.0 194.1 L286.2 196.4 L283.8 198.2 L281.4 199.4 L279.1 199.0 L277.5 197.0 L276.1 194.7 L274.9 192.3 L273.7 190.7 L275.1 190.3 L275.5 191.7"/>
<path d="M292.1 197.9 L294.5 196.7 L296.5 197.6"/>
<path d="M281.1 202.6 L283.0 203.3 L282.0 204.1Z"/>
<path d="M283.8 205.3 L286.2 203.8 L288.6 202.6 L290.9 203.5 L289.7 205.9 L287.4 207.7 L285.0 208.3 L283.8 206.9Z"/>
<path d="M291.5 202.4 L294.5 201.2 L297.4 201.8 L299.2 204.1 L301.0 207.1 L302.8 210.7 L303.6 214.8 L303.4 219.0 L304.0 221.9 L304.3 224.9 L303.4 227.9 L302.2 230.8 L299.8 232.3 L296.9 232.6 L293.9 231.8 L291.8 230.8 L293.3 229.4 L295.7 227.9 L298.0 226.7 L300.4 226.3 L302.2 227.0"/>
<path d="M293.3 207.7 L297.4 205.3 L298.6 203.0 L297.4 208.3 L295.7 211.9 L294.5 214.5 L293.3 210.7 L292.7 208.3Z"/>
<path d="M285.6 208.3 L285.0 210.7 L286.8 212.4 L288.6 214.2 L289.7 216.6 L289.1 219.6 L289.7 222.5 L290.9 224.3 L293.3 224.9 L295.7 224.3 L296.9 225.5 L295.1 226.7 L293.3 228.5 L292.1 230.2"/>
<path d="M302.2 221.3 L301.0 220.7 L300.4 221.9"/>
<path d="M302.0 158.7 L304.0 157.0 L307.5 156.3 L311.7 156.1 L315.0 156.7 L315.2 158.2 L313.5 159.9 L310.5 160.6 L307.5 161.4 L304.6 161.1 L302.8 159.9Z"/>
<path d="M340.7 130.0 L340.2 133.0 L339.2 136.2 L341.9 136.5 L345.5 135.9 L347.9 137.4 L350.8 139.3 L354.4 140.9 L358.5 141.6 L360.9 143.6 L363.3 146.6 L365.7 149.0 L368.0 151.4 L370.0 153.7 L370.4 156.7 L369.8 160.2 L369.2 163.2 L368.6 166.2 L369.2 169.1 L368.0 172.1 L367.4 175.1 L367.7 178.4 L365.7 176.9 L363.9 174.5 L362.1 172.7 L359.7 170.6 L362.1 170.9 L364.5 171.5 L366.3 169.7 L366.0 166.8 L366.8 163.8 L368.0 161.1 L368.6 158.5 L368.4 155.5 L366.8 153.1 L364.5 150.8 L362.1 147.8 L359.7 144.8 L357.4 142.5 L354.4 141.6 L351.4 140.1 L349.1 138.3 L346.7 136.2 L344.3 134.2 L343.1 131.8 L342.8 130.0"/>
<path d="M349.4 200.2 L350.8 201.8 L353.0 204.1 L352.0 203.8 L350.2 201.8Z"/>
<path d="M356.5 210.4 L357.9 212.4 L359.7 216.0 L360.3 217.2 L358.9 215.6 L357.4 212.8Z"/>
</g>
<rect x="915.5" y="877.5" width="208.5" height="20" fill="#fff" stroke="#a8a8a8" stroke-width="1"/>
<g font-family="'Liberation Sans', sans-serif" font-size="15.6">
<text x="931" y="893.7" fill="#1e96ff" textLength="21.5" lengthAdjust="spacingAndGlyphs">Sis</text>
<text x="953.8" y="893.9" fill="#2846ff" font-size="18.5" font-weight="bold" textLength="16.6" lengthAdjust="spacingAndGlyphs">ππ</text>
<text x="973.2" y="892.9" fill="#555" textLength="9.5" lengthAdjust="spacingAndGlyphs">–</text>
<text x="992" y="893.7" fill="#555" textLength="127" lengthAdjust="spacingAndGlyphs">ONAMET/REP.DOM.</text>
</g>
<g font-family="'Liberation Sans', sans-serif" font-size="14.6" font-weight="bold" fill="#9b9b9b">
<text x="92.8" y="919.2" text-anchor="middle" textLength="21.5" lengthAdjust="spacingAndGlyphs">82W</text>
<rect x="92.15" y="905.1" width="1.3" height="2.6" stroke="none"/>
<text x="187.1" y="919.2" text-anchor="middle" textLength="21.5" lengthAdjust="spacingAndGlyphs">80W</text>
<rect x="186.40" y="905.1" width="1.3" height="2.6" stroke="none"/>
<text x="281.3" y="919.2" text-anchor="middle" textLength="21.5" lengthAdjust="spacingAndGlyphs">78W</text>
<rect x="280.65" y="905.1" width="1.3" height="2.6" stroke="none"/>
<text x="375.6" y="919.2" text-anchor="middle" textLength="21.5" lengthAdjust="spacingAndGlyphs">76W</text>
<rect x="374.90" y="905.1" width="1.3" height="2.6" stroke="none"/>
<text x="469.8" y="919.2" text-anchor="middle" textLength="21.5" lengthAdjust="spacingAndGlyphs">74W</text>
<rect x="469.15" y="905.1" width="1.3" height="2.6" stroke="none"/>
<text x="564.0" y="919.2" text-anchor="middle" textLength="21.5" lengthAdjust="spacingAndGlyphs">72W</text>
<rect x="563.40" y="905.1" width="1.3" height="2.6" stroke="none"/>
<text x="658.3" y="919.2" text-anchor="middle" textLength="21.5" lengthAdjust="spacingAndGlyphs">70W</text>
<rect x="657.65" y="905.1" width="1.3" height="2.6" stroke="none"/>
<text x="752.5" y="919.2" text-anchor="middle" textLength="21.5" lengthAdjust="spacingAndGlyphs">68W</text>
<rect x="751.90" y="905.1" width="1.3" height="2.6" stroke="none"/>
<text x="846.8" y="919.2" text-anchor="middle" textLength="21.5" lengthAdjust="spacingAndGlyphs">66W</text>
<rect x="846.15" y="905.1" width="1.3" height="2.6" stroke="none"/>
<text x="941.0" y="919.2" text-anchor="middle" textLength="21.5" lengthAdjust="spacingAndGlyphs">64W</text>
<rect x="940.40" y="905.1" width="1.3" height="2.6" stroke="none"/>
<text x="1035.3" y="919.2" text-anchor="middle" textLength="21.5" lengthAdjust="spacingAndGlyphs">62W</text>
<rect x="1034.65" y="905.1" width="1.3" height="2.6" stroke="none"/>
<text x="1129.5" y="919.2" text-anchor="middle" textLength="21.5" lengthAdjust="spacingAndGlyphs">60W</text>
<rect x="1128.90" y="905.1" width="1.3" height="2.6" stroke="none"/>
<text x="4.6" y="900.4" textLength="21" lengthAdjust="spacingAndGlyphs">12N</text>
<rect x="28.3" y="894.5" width="2.6" height="1.3" stroke="none"/>
<text x="4.6" y="843.9" textLength="21" lengthAdjust="spacingAndGlyphs">13N</text>
<rect x="28.3" y="838.0" width="2.6" height="1.3" stroke="none"/>
<text x="4.6" y="787.4" textLength="21" lengthAdjust="spacingAndGlyphs">14N</text>
<rect x="28.3" y="781.5" width="2.6" height="1.3" stroke="none"/>
<text x="4.6" y="730.9" textLength="21" lengthAdjust="spacingAndGlyphs">15N</text>
<rect x="28.3" y="725.0" width="2.6" height="1.3" stroke="none"/>
<text x="4.6" y="674.4" textLength="21" lengthAdjust="spacingAndGlyphs">16N</text>
<rect x="28.3" y="668.5" width="2.6" height="1.3" stroke="none"/>
<text x="4.6" y="617.9" textLength="21" lengthAdjust="spacingAndGlyphs">17N</text>
<rect x="28.3" y="612.0" width="2.6" height="1.3" stroke="none"/>
<text x="4.6" y="561.4" textLength="21" lengthAdjust="spacingAndGlyphs">18N</text>
<rect x="28.3" y="555.5" width="2.6" height="1.3" stroke="none"/>
<text x="4.6" y="504.9" textLength="21" lengthAdjust="spacingAndGlyphs">19N</text>
<rect x="28.3" y="499.0" width="2.6" height="1.3" stroke="none"/>
<text x="4.6" y="448.4" textLength="21" lengthAdjust="spacingAndGlyphs">20N</text>
<rect x="28.3" y="442.5" width="2.6" height="1.3" stroke="none"/>
<text x="4.6" y="391.9" textLength="21" lengthAdjust="spacingAndGlyphs">21N</text>
<rect x="28.3" y="385.9" width="2.6" height="1.3" stroke="none"/>
<text x="4.6" y="335.3" textLength="21" lengthAdjust="spacingAndGlyphs">22N</text>
<rect x="28.3" y="329.4" width="2.6" height="1.3" stroke="none"/>
<text x="4.6" y="278.8" textLength="21" lengthAdjust="spacingAndGlyphs">23N</text>
<rect x="28.3" y="272.9" width="2.6" height="1.3" stroke="none"/>
<text x="4.6" y="222.3" textLength="21" lengthAdjust="spacingAndGlyphs">24N</text>
<rect x="28.3" y="216.4" width="2.6" height="1.3" stroke="none"/>
<text x="4.6" y="165.8" textLength="21" lengthAdjust="spacingAndGlyphs">25N</text>
<rect x="28.3" y="159.9" width="2.6" height="1.3" stroke="none"/>
<text x="4.6" y="109.3" textLength="21" lengthAdjust="spacingAndGlyphs">26N</text>
<rect x="28.3" y="103.4" width="2.6" height="1.3" stroke="none"/>
</g>
<rect x="1144.3" y="98.14999999999999" width="18.700000000000045" height="805.9499999999999" fill="#cdcdcd"/>
<rect x="1146.0" y="99.55" width="15.3" height="3" fill="#fff"/>
<rect x="1146.0" y="101.05" width="15.3" height="25.61" fill="#000050"/>
<rect x="1146.0" y="126.61" width="15.3" height="27.81" fill="#000096"/>
<rect x="1146.0" y="154.37" width="15.3" height="27.81" fill="#0000d2"/>
<rect x="1146.0" y="182.13" width="15.3" height="27.81" fill="#0000ff"/>
<rect x="1146.0" y="209.89" width="15.3" height="27.81" fill="#1e1eff"/>
<rect x="1146.0" y="237.65" width="15.3" height="27.81" fill="#4646ff"/>
<rect x="1146.0" y="265.41" width="15.3" height="27.81" fill="#5a5aff"/>
<rect x="1146.0" y="293.17" width="15.3" height="27.81" fill="#6e6eff"/>
<rect x="1146.0" y="320.93" width="15.3" height="27.81" fill="#8787ff"/>
<rect x="1146.0" y="348.69" width="15.3" height="27.81" fill="#aaaaff"/>
<rect x="1146.0" y="376.45" width="15.3" height="27.81" fill="#bebeff"/>
<rect x="1146.0" y="404.21" width="15.3" height="27.81" fill="#d2d2ff"/>
<rect x="1146.0" y="431.97" width="15.3" height="27.81" fill="#e6e6ff"/>
<rect x="1146.0" y="459.73" width="15.3" height="27.81" fill="#f0f0ff"/>
<rect x="1146.0" y="487.49" width="15.3" height="27.81" fill="#ffffff"/>
<rect x="1146.0" y="515.26" width="15.3" height="27.81" fill="#ffeeee"/>
<rect x="1146.0" y="543.02" width="15.3" height="27.81" fill="#ffe4e4"/>
<rect x="1146.0" y="570.78" width="15.3" height="27.81" fill="#ffd2d2"/>
<rect x="1146.0" y="598.54" width="15.3" height="27.81" fill="#ffbebe"/>
<rect x="1146.0" y="626.30" width="15.3" height="27.81" fill="#ffaaaa"/>
<rect x="1146.0" y="654.06" width="15.3" height="27.81" fill="#ff8282"/>
<rect x="1146.0" y="681.82" width="15.3" height="27.81" fill="#ff6e6e"/>
<rect x="1146.0" y="709.58" width="15.3" height="27.81" fill="#ff5a5a"/>
<rect x="1146.0" y="737.34" width="15.3" height="27.81" fill="#ff4646"/>
<rect x="1146.0" y="765.10" width="15.3" height="27.81" fill="#ff1e1e"/>
<rect x="1146.0" y="792.86" width="15.3" height="27.81" fill="#ff0000"/>
<rect x="1146.0" y="820.62" width="15.3" height="27.81" fill="#d20000"/>
<rect x="1146.0" y="848.38" width="15.3" height="27.81" fill="#a50000"/>
<rect x="1146.0" y="876.14" width="15.3" height="26.41" fill="#5a0000"/>
<rect x="1146.0" y="126.11" width="15.3" height="1" fill="#fff" opacity="0.42"/>
<rect x="1146.0" y="153.87" width="15.3" height="1" fill="#fff" opacity="0.42"/>
<rect x="1146.0" y="181.63" width="15.3" height="1" fill="#fff" opacity="0.42"/>
<rect x="1146.0" y="209.39" width="15.3" height="1" fill="#fff" opacity="0.42"/>
<rect x="1146.0" y="237.15" width="15.3" height="1" fill="#fff" opacity="0.42"/>
<rect x="1146.0" y="264.91" width="15.3" height="1" fill="#fff" opacity="0.42"/>
<rect x="1146.0" y="292.67" width="15.3" height="1" fill="#fff" opacity="0.42"/>
<rect x="1146.0" y="320.43" width="15.3" height="1" fill="#fff" opacity="0.42"/>
<rect x="1146.0" y="348.19" width="15.3" height="1" fill="#fff" opacity="0.42"/>
<rect x="1146.0" y="375.95" width="15.3" height="1" fill="#fff" opacity="0.42"/>
<rect x="1146.0" y="403.71" width="15.3" height="1" fill="#fff" opacity="0.42"/>
<rect x="1146.0" y="431.47" width="15.3" height="1" fill="#fff" opacity="0.42"/>
<rect x="1146.0" y="459.23" width="15.3" height="1" fill="#fff" opacity="0.42"/>
<rect x="1146.0" y="486.99" width="15.3" height="1" fill="#fff" opacity="0.42"/>
<rect x="1146.0" y="514.76" width="15.3" height="1" fill="#fff" opacity="0.42"/>
<rect x="1146.0" y="542.52" width="15.3" height="1" fill="#fff" opacity="0.42"/>
<rect x="1146.0" y="570.28" width="15.3" height="1" fill="#fff" opacity="0.42"/>
<rect x="1146.0" y="598.04" width="15.3" height="1" fill="#fff" opacity="0.42"/>
<rect x="1146.0" y="625.80" width="15.3" height="1" fill="#fff" opacity="0.42"/>
<rect x="1146.0" y="653.56" width="15.3" height="1" fill="#fff" opacity="0.42"/>
<rect x="1146.0" y="681.32" width="15.3" height="1" fill="#fff" opacity="0.42"/>
<rect x="1146.0" y="709.08" width="15.3" height="1" fill="#fff" opacity="0.42"/>
<rect x="1146.0" y="736.84" width="15.3" height="1" fill="#fff" opacity="0.42"/>
<rect x="1146.0" y="764.60" width="15.3" height="1" fill="#fff" opacity="0.42"/>
<rect x="1146.0" y="792.36" width="15.3" height="1" fill="#fff" opacity="0.42"/>
<rect x="1146.0" y="820.12" width="15.3" height="1" fill="#fff" opacity="0.42"/>
<rect x="1146.0" y="847.88" width="15.3" height="1" fill="#fff" opacity="0.42"/>
<rect x="1146.0" y="875.64" width="15.3" height="1" fill="#fff" opacity="0.42"/>
<g font-family="'Liberation Sans', sans-serif" font-size="13.4" fill="#000">
<text x="1166.6" y="131.4" textLength="29.5" lengthAdjust="spacingAndGlyphs">1050</text>
<text x="1166.6" y="159.2" textLength="29.5" lengthAdjust="spacingAndGlyphs">1040</text>
<text x="1166.6" y="186.9" textLength="29.5" lengthAdjust="spacingAndGlyphs">1035</text>
<text x="1166.6" y="214.7" textLength="29.5" lengthAdjust="spacingAndGlyphs">1030</text>
<text x="1166.6" y="242.5" textLength="29.5" lengthAdjust="spacingAndGlyphs">1028</text>
<text x="1166.6" y="270.2" textLength="29.5" lengthAdjust="spacingAndGlyphs">1025</text>
<text x="1166.6" y="298.0" textLength="29.5" lengthAdjust="spacingAndGlyphs">1022</text>
<text x="1166.6" y="325.7" textLength="29.5" lengthAdjust="spacingAndGlyphs">1020</text>
<text x="1166.6" y="353.5" textLength="29.5" lengthAdjust="spacingAndGlyphs">1019</text>
<text x="1166.6" y="381.3" textLength="29.5" lengthAdjust="spacingAndGlyphs">1018</text>
<text x="1166.6" y="409.0" textLength="29.5" lengthAdjust="spacingAndGlyphs">1017</text>
<text x="1166.6" y="436.8" textLength="29.5" lengthAdjust="spacingAndGlyphs">1016</text>
<text x="1166.6" y="464.5" textLength="29.5" lengthAdjust="spacingAndGlyphs">1015</text>
<text x="1166.6" y="492.3" textLength="29.5" lengthAdjust="spacingAndGlyphs">1014</text>
<text x="1166.6" y="520.1" textLength="29.5" lengthAdjust="spacingAndGlyphs">1013</text>
<text x="1166.6" y="547.8" textLength="29.5" lengthAdjust="spacingAndGlyphs">1012</text>
<text x="1166.6" y="575.6" textLength="29.5" lengthAdjust="spacingAndGlyphs">1010</text>
<text x="1166.6" y="603.3" textLength="29.5" lengthAdjust="spacingAndGlyphs">1008</text>
<text x="1166.6" y="631.1" textLength="29.5" lengthAdjust="spacingAndGlyphs">1006</text>
<text x="1166.6" y="658.9" textLength="29.5" lengthAdjust="spacingAndGlyphs">1004</text>
<text x="1166.6" y="686.6" textLength="29.5" lengthAdjust="spacingAndGlyphs">1002</text>
<text x="1166.6" y="714.4" textLength="29.5" lengthAdjust="spacingAndGlyphs">1000</text>
<text x="1166.6" y="742.1" textLength="22" lengthAdjust="spacingAndGlyphs">990</text>
<text x="1166.6" y="769.9" textLength="22" lengthAdjust="spacingAndGlyphs">970</text>
<text x="1166.6" y="797.7" textLength="22" lengthAdjust="spacingAndGlyphs">950</text>
<text x="1166.6" y="825.4" textLength="22" lengthAdjust="spacingAndGlyphs">900</text>
<text x="1166.6" y="853.2" textLength="22" lengthAdjust="spacingAndGlyphs">850</text>
<text x="1166.6" y="880.9" textLength="22" lengthAdjust="spacingAndGlyphs">800</text>
</g>
<g font-family="'Liberation Sans', sans-serif">
<text transform="translate(290.00,33.2) scale(1.0379,1)" x="-2.71" y="0" font-size="33" fill="#000" stroke="#fff" stroke-width="0.90" style="font-kerning:none;letter-spacing:1.590px">Presion</text>
<text transform="translate(436.00,33.2) scale(0.9734,1)" x="-1.40" y="0" font-size="33" fill="#000" stroke="#fff" stroke-width="0.90" style="font-kerning:none;letter-spacing:0.000px">a</text>
<text transform="translate(477.50,33.2) scale(0.9753,1)" x="-2.19" y="0" font-size="33" fill="#000" stroke="#fff" stroke-width="0.90" style="font-kerning:none;letter-spacing:1.692px">nivel</text>
<text transform="translate(571.00,33.2) scale(0.9816,1)" x="-1.39" y="0" font-size="33" fill="#000" stroke="#fff" stroke-width="0.90" style="font-kerning:none;letter-spacing:1.681px">del</text>
<text transform="translate(641.00,33.2) scale(1.0482,1)" x="-2.19" y="0" font-size="33" fill="#000" stroke="#fff" stroke-width="0.90" style="font-kerning:none;letter-spacing:1.574px">mar</text>
<text transform="translate(727.50,33.2) scale(1.0647,1)" x="-2.05" y="0" font-size="33" fill="#000" stroke="#fff" stroke-width="0.90" style="font-kerning:none;letter-spacing:1.550px">(hPa,somb.)</text>
<text transform="translate(58.75,61.3) scale(1.1387,1)" x="-1.41" y="0" font-size="18.5" fill="#2034ff" stroke="#2034ff" stroke-width="0.12" style="font-kerning:none;letter-spacing:0.487px">14–Nov–2025</text>
<text transform="translate(255.50,61.3) scale(1.1039,1)" x="-0.72" y="0" font-size="18.5" fill="#2034ff" stroke="#2034ff" stroke-width="0.12" style="font-kerning:none;letter-spacing:0.503px">0000</text>
<text transform="translate(315.00,61.3) scale(0.9164,1)" x="-1.43" y="0" font-size="18.5" fill="#2034ff" stroke="#2034ff" stroke-width="0.12" style="font-kerning:none;letter-spacing:0.606px">UTC</text>
<text transform="translate(360.40,65.2) scale(1.9004,1)" x="-0.00" y="0" font-size="25" fill="#2034ff" stroke="#fff" stroke-width="0.90" style="font-kerning:none;letter-spacing:0.000px">/</text>
<text transform="translate(385.00,61.3) scale(1.1118,1)" x="-0.80" y="0" font-size="18.5" fill="#2034ff" stroke="#2034ff" stroke-width="0.12" style="font-kerning:none;letter-spacing:0.499px">8:00</text>
<text transform="translate(438.00,61.3) scale(1.1356,1)" x="-1.19" y="0" font-size="18.5" fill="#2034ff" stroke="#2034ff" stroke-width="0.12" style="font-kerning:none;letter-spacing:0.489px">pm</text>
<text transform="translate(479.00,61.3) scale(1.0195,1)" x="-1.52" y="0" font-size="18.5" fill="#2034ff" stroke="#2034ff" stroke-width="0.12" style="font-kerning:none;letter-spacing:0.544px">Hora</text>
<text transform="translate(532.50,61.3) scale(1.1039,1)" x="-1.52" y="0" font-size="18.5" fill="#2034ff" stroke="#2034ff" stroke-width="0.12" style="font-kerning:none;letter-spacing:0.503px">Local</text>
<text transform="translate(591.80,65.2) scale(1.9004,1)" x="-0.00" y="0" font-size="25" fill="#2034ff" stroke="#fff" stroke-width="0.90" style="font-kerning:none;letter-spacing:0.000px">/</text>
<text transform="translate(616.00,61.3) scale(0.9276,1)" x="-0.84" y="0" font-size="18.5" fill="#2034ff" stroke="#2034ff" stroke-width="0.12" style="font-kerning:none;letter-spacing:0.598px">SFC</text>
<text transform="translate(725.50,61.3) scale(0.8944,1)" x="-0.08" y="0" font-size="18.5" fill="#2034ff" stroke="#2034ff" stroke-width="0.12" style="font-kerning:none;letter-spacing:0.621px">Valor</text>
<text transform="translate(779.00,61.3) scale(0.8926,1)" x="-1.52" y="0" font-size="18.5" fill="#2034ff" stroke="#2034ff" stroke-width="0.12" style="font-kerning:none;letter-spacing:0.622px">Min.</text>
<text transform="translate(822.00,61.3) scale(1.1682,1)" x="-0.90" y="0" font-size="18.5" fill="#2034ff" stroke="#2034ff" stroke-width="0.12" style="font-kerning:none;letter-spacing:0.000px">=</text>
<text transform="translate(846.00,61.3) scale(1.0003,1)" x="-1.41" y="0" font-size="18.5" fill="#2034ff" stroke="#2034ff" stroke-width="0.12" style="font-kerning:none;letter-spacing:0.555px">1008.96</text>
<text transform="translate(935.00,61.3) scale(0.9061,1)" x="-0.08" y="0" font-size="18.5" fill="#2034ff" stroke="#2034ff" stroke-width="0.12" style="font-kerning:none;letter-spacing:0.613px">Valor</text>
<text transform="translate(988.00,61.3) scale(0.9309,1)" x="-1.52" y="0" font-size="18.5" fill="#2034ff" stroke="#2034ff" stroke-width="0.12" style="font-kerning:none;letter-spacing:0.596px">Max.</text>
<text transform="translate(1036.00,61.3) scale(1.2238,1)" x="-0.90" y="0" font-size="18.5" fill="#2034ff" stroke="#2034ff" stroke-width="0.12" style="font-kerning:none;letter-spacing:0.000px">=</text>
<text transform="translate(1060.50,61.3) scale(1.0099,1)" x="-1.41" y="0" font-size="18.5" fill="#2034ff" stroke="#2034ff" stroke-width="0.12" style="font-kerning:none;letter-spacing:0.550px">1021.77</text>
<text transform="translate(45.50,82.1) scale(1.1288,1)" x="-1.33" y="0" font-size="16.2" fill="#0a96ff" stroke="#0a96ff" stroke-width="0.15" style="font-kerning:none;letter-spacing:0.431px">Pronóstico</text>
<text transform="translate(145.50,82.1) scale(1.1292,1)" x="-0.69" y="0" font-size="16.2" fill="#0a96ff" stroke="#0a96ff" stroke-width="0.15" style="font-kerning:none;letter-spacing:0.430px">con</text>
<text transform="translate(185.50,82.1) scale(1.2009,1)" x="-0.69" y="0" font-size="16.2" fill="#0a96ff" stroke="#0a96ff" stroke-width="0.15" style="font-kerning:none;letter-spacing:0.405px">el</text>
<text transform="translate(210.00,82.1) scale(1.0479,1)" x="-1.33" y="0" font-size="16.2" fill="#0a96ff" stroke="#0a96ff" stroke-width="0.15" style="font-kerning:none;letter-spacing:0.464px">Modelo</text>
<text transform="translate(277.00,82.1) scale(1.1100,1)" x="-0.03" y="0" font-size="16.2" fill="#0a96ff" stroke="#0a96ff" stroke-width="0.15" style="font-kerning:none;letter-spacing:0.438px">Atmósferico</text>
<text transform="translate(387.50,82.1) scale(0.8441,1)" x="-0.07" y="0" font-size="16.2" fill="#0a96ff" stroke="#0a96ff" stroke-width="0.15" style="font-kerning:none;letter-spacing:0.576px">WRF</text>
<text transform="translate(432.00,82.1) scale(1.1055,1)" x="-1.08" y="0" font-size="16.2" fill="#0a96ff" stroke="#0a96ff" stroke-width="0.15" style="font-kerning:none;letter-spacing:0.440px">inicializado</text>
<text transform="translate(535.00,82.1) scale(1.0815,1)" x="-0.69" y="0" font-size="16.2" fill="#0a96ff" stroke="#0a96ff" stroke-width="0.15" style="font-kerning:none;letter-spacing:0.000px">a</text>
<text transform="translate(555.00,82.1) scale(1.1312,1)" x="-1.09" y="0" font-size="16.2" fill="#0a96ff" stroke="#0a96ff" stroke-width="0.15" style="font-kerning:none;letter-spacing:0.430px">las</text>
<text transform="translate(590.00,82.1) scale(1.0552,1)" x="-1.23" y="0" font-size="16.2" fill="#0a96ff" stroke="#0a96ff" stroke-width="0.15" style="font-kerning:none;letter-spacing:0.461px">1200UTC_12NOV2025</text>
<text transform="translate(784.00,82.1) scale(1.0587,1)" x="-0.04" y="0" font-size="16.2" fill="#0a96ff" stroke="#0a96ff" stroke-width="0.15" style="font-kerning:none;letter-spacing:0.000px">y</text>
<text transform="translate(803.00,82.1) scale(1.0716,1)" x="-0.06" y="0" font-size="16.2" fill="#0a96ff" stroke="#0a96ff" stroke-width="0.15" style="font-kerning:none;letter-spacing:0.454px">válido</text>
<text transform="translate(861.00,82.1) scale(1.1181,1)" x="-1.12" y="0" font-size="16.2" fill="#0a96ff" stroke="#0a96ff" stroke-width="0.15" style="font-kerning:none;letter-spacing:0.435px">hasta</text>
<text transform="translate(917.50,82.1) scale(1.1312,1)" x="-1.09" y="0" font-size="16.2" fill="#0a96ff" stroke="#0a96ff" stroke-width="0.15" style="font-kerning:none;letter-spacing:0.430px">las</text>
<text transform="translate(962.50,82.1) scale(1.0642,1)" x="-1.23" y="0" font-size="16.2" fill="#0a96ff" stroke="#0a96ff" stroke-width="0.15" style="font-kerning:none;letter-spacing:0.457px">1200UTC_15NOV2025</text>
</g>
<g stroke="#1ea0ff" stroke-width="0.9" fill="none">
</g>
</svg>
</body>
</html>
